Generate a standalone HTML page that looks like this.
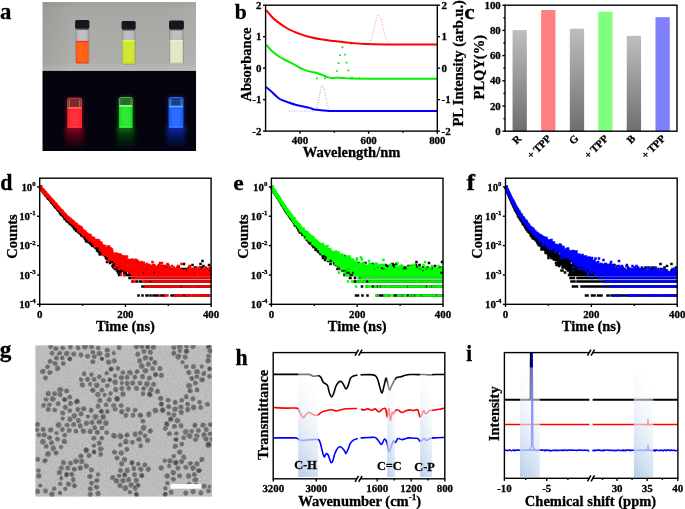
<!DOCTYPE html>
<html><head><meta charset="utf-8"><style>
html,body{margin:0;padding:0;background:#fff;}
svg{display:block;filter:blur(0.35px);}
text{font-family:"Liberation Serif",serif;font-weight:bold;stroke:#000;stroke-width:0.3px;}
</style></head><body>
<svg width="685" height="509" viewBox="0 0 685 509">
<rect width="685" height="509" fill="#fff"/>
<defs><clipPath id="phc"><rect x="42.3" y="2.1" width="153.9" height="148.9"/></clipPath><linearGradient id="phbg" x1="0" y1="0" x2="0" y2="1"><stop offset="0" stop-color="#9c9c98"/><stop offset="0.1" stop-color="#a7a7a3"/><stop offset="0.55" stop-color="#abaca7"/><stop offset="0.88" stop-color="#aeafaa"/><stop offset="0.94" stop-color="#b6b7b2"/><stop offset="1" stop-color="#b9bab5"/></linearGradient><linearGradient id="phbg2" x1="0" y1="0" x2="1" y2="0"><stop offset="0" stop-color="#000" stop-opacity="0.07"/><stop offset="0.2" stop-color="#000" stop-opacity="0"/><stop offset="0.8" stop-color="#fff" stop-opacity="0"/><stop offset="1" stop-color="#fff" stop-opacity="0.05"/></linearGradient><filter id="blur05" x="-50%" y="-50%" width="200%" height="200%"><feGaussianBlur stdDeviation="0.5"/></filter><filter id="blur1" x="-50%" y="-50%" width="200%" height="200%"><feGaussianBlur stdDeviation="1"/></filter><filter id="blur2" x="-50%" y="-50%" width="200%" height="200%"><feGaussianBlur stdDeviation="2"/></filter><filter id="blur3" x="-50%" y="-50%" width="200%" height="200%"><feGaussianBlur stdDeviation="3.5"/></filter></defs>
<g clip-path="url(#phc)">
<rect x="42.3" y="2.1" width="153.9" height="68.8" fill="url(#phbg)"/>
<rect x="42.3" y="2.1" width="153.9" height="68.8" fill="url(#phbg2)"/>
<g filter="url(#blur05)">
<rect x="75.70" y="28.30" width="13.10" height="34.90" rx="1.2" fill="#b8b9b5" fill-opacity="0.5" stroke="#8a8c8a" stroke-width="0.8"/>
<rect x="78.10" y="29.60" width="8.30" height="10.70" fill="#cfd0cc" opacity="0.45"/>
<rect x="76.00" y="41.00" width="12.50" height="22.20" rx="1" fill="#ff6418"/>
<rect x="76.00" y="41.00" width="12.50" height="1.2" fill="#ff2050"/>
<rect x="76.00" y="41.00" width="1.1" height="22.20" fill="#f03c10" opacity="0.5"/>
<rect x="87.40" y="41.00" width="1.1" height="22.20" fill="#f03c10" opacity="0.5"/>
<rect x="76.00" y="61.80" width="12.50" height="1.4" rx="0.7" fill="#f03c10" opacity="0.7"/>
<rect x="75.10" y="20.00" width="14.30" height="8.80" rx="1.6" fill="#17191c"/>
<rect x="76.30" y="28.50" width="11.90" height="1.3" fill="#3a3c40" opacity="0.8"/>
<rect x="122.20" y="29.10" width="12.90" height="34.90" rx="1.2" fill="#b8b9b5" fill-opacity="0.5" stroke="#8a8c8a" stroke-width="0.8"/>
<rect x="124.60" y="30.40" width="8.10" height="9.10" fill="#cfd0cc" opacity="0.45"/>
<rect x="122.50" y="40.20" width="12.30" height="23.80" rx="1" fill="#d2e630"/>
<rect x="122.50" y="40.20" width="12.30" height="1.2" fill="#eaf878"/>
<rect x="122.50" y="40.20" width="1.1" height="23.80" fill="#a8d030" opacity="0.5"/>
<rect x="133.70" y="40.20" width="1.1" height="23.80" fill="#a8d030" opacity="0.5"/>
<rect x="122.50" y="62.60" width="12.30" height="1.4" rx="0.7" fill="#a8d030" opacity="0.7"/>
<rect x="121.60" y="20.90" width="14.10" height="8.70" rx="1.6" fill="#17191c"/>
<rect x="122.80" y="29.30" width="11.70" height="1.3" fill="#3a3c40" opacity="0.8"/>
<rect x="169.60" y="28.80" width="13.70" height="34.80" rx="1.2" fill="#b8b9b5" fill-opacity="0.5" stroke="#8a8c8a" stroke-width="0.8"/>
<rect x="172.00" y="30.10" width="8.90" height="9.20" fill="#cfd0cc" opacity="0.45"/>
<rect x="169.90" y="40.00" width="13.10" height="23.60" rx="1" fill="#e4e6c4"/>
<rect x="169.90" y="40.00" width="13.10" height="1.2" fill="#eef0d0"/>
<rect x="169.90" y="40.00" width="1.1" height="23.60" fill="#c8c8a8" opacity="0.5"/>
<rect x="181.90" y="40.00" width="1.1" height="23.60" fill="#c8c8a8" opacity="0.5"/>
<rect x="169.90" y="62.20" width="13.10" height="1.4" rx="0.7" fill="#c8c8a8" opacity="0.7"/>
<rect x="169.00" y="20.40" width="14.90" height="8.90" rx="1.6" fill="#17191c"/>
<rect x="170.20" y="29.00" width="12.50" height="1.3" fill="#3a3c40" opacity="0.8"/>
</g>
<rect x="42.3" y="70.9" width="153.9" height="80.1" fill="#04030e"/>
<defs><linearGradient id="rg1" x1="0" y1="0" x2="0" y2="1"><stop offset="0" stop-color="#900818" stop-opacity="0.95"/><stop offset="0.4" stop-color="#900818" stop-opacity="0.5"/><stop offset="1" stop-color="#900818" stop-opacity="0"/></linearGradient></defs>
<rect x="65.20" y="126.80" width="18.80" height="23" fill="url(#rg1)" filter="url(#blur2)"/>
<rect x="66.70" y="97.80" width="15.80" height="31.00" rx="2" fill="#ff1c30" filter="url(#blur2)" opacity="0.4"/>
<rect x="67.60" y="98.20" width="14.00" height="9.80" rx="1.8" fill="#862030" stroke="#ff7060" stroke-opacity="0.6" stroke-width="0.9" filter="url(#blur05)"/>
<rect x="68.80" y="100.00" width="1.0" height="7.20" fill="#40d050" opacity="0.8" filter="url(#blur05)"/>
<rect x="79.20" y="100.00" width="1.0" height="7.20" fill="#40d050" opacity="0.8" filter="url(#blur05)"/>
<rect x="67.20" y="107.60" width="14.80" height="20.20" rx="1" fill="#ff1c30" filter="url(#blur05)"/>
<rect x="69.70" y="109.60" width="9.80" height="16.20" fill="#ff7060" opacity="0.25" filter="url(#blur1)"/>
<rect x="67.50" y="107.10" width="14.20" height="1.6" fill="#ff7060" filter="url(#blur05)"/>
<rect x="67.70" y="126.40" width="13.80" height="1.2" fill="#ff7060" opacity="0.6" filter="url(#blur05)"/>
<defs><linearGradient id="rg2" x1="0" y1="0" x2="0" y2="1"><stop offset="0" stop-color="#0a6010" stop-opacity="0.95"/><stop offset="0.4" stop-color="#0a6010" stop-opacity="0.5"/><stop offset="1" stop-color="#0a6010" stop-opacity="0"/></linearGradient></defs>
<rect x="116.90" y="126.80" width="17.70" height="23" fill="url(#rg2)" filter="url(#blur2)"/>
<rect x="118.40" y="97.10" width="14.70" height="31.70" rx="2" fill="#16de1a" filter="url(#blur2)" opacity="0.4"/>
<rect x="119.30" y="97.50" width="12.90" height="8.50" rx="1.8" fill="#1c7028" stroke="#90ff90" stroke-opacity="0.6" stroke-width="0.9" filter="url(#blur05)"/>
<rect x="120.50" y="99.30" width="1.0" height="5.90" fill="#d04060" opacity="0.8" filter="url(#blur05)"/>
<rect x="129.80" y="99.30" width="1.0" height="5.90" fill="#d04060" opacity="0.8" filter="url(#blur05)"/>
<rect x="118.90" y="105.60" width="13.70" height="22.20" rx="1" fill="#16de1a" filter="url(#blur05)"/>
<rect x="121.40" y="107.60" width="8.70" height="18.20" fill="#90ff90" opacity="0.25" filter="url(#blur1)"/>
<rect x="119.20" y="105.10" width="13.10" height="1.6" fill="#90ff90" filter="url(#blur05)"/>
<rect x="119.40" y="126.40" width="12.70" height="1.2" fill="#90ff90" opacity="0.6" filter="url(#blur05)"/>
<defs><linearGradient id="rg3" x1="0" y1="0" x2="0" y2="1"><stop offset="0" stop-color="#0c28b0" stop-opacity="0.95"/><stop offset="0.4" stop-color="#0c28b0" stop-opacity="0.5"/><stop offset="1" stop-color="#0c28b0" stop-opacity="0"/></linearGradient></defs>
<rect x="166.60" y="126.80" width="18.80" height="23" fill="url(#rg3)" filter="url(#blur2)"/>
<rect x="168.10" y="97.10" width="15.80" height="31.70" rx="2" fill="#1a58ff" filter="url(#blur2)" opacity="0.4"/>
<rect x="169.00" y="97.50" width="14.00" height="9.10" rx="1.8" fill="#1c3aa0" stroke="#60b0ff" stroke-opacity="0.6" stroke-width="0.9" filter="url(#blur05)"/>
<rect x="170.20" y="99.30" width="1.0" height="6.50" fill="#30d090" opacity="0.8" filter="url(#blur05)"/>
<rect x="180.60" y="99.30" width="1.0" height="6.50" fill="#30d090" opacity="0.8" filter="url(#blur05)"/>
<rect x="168.60" y="106.20" width="14.80" height="21.60" rx="1" fill="#1a58ff" filter="url(#blur05)"/>
<rect x="171.10" y="108.20" width="9.80" height="17.60" fill="#60b0ff" opacity="0.25" filter="url(#blur1)"/>
<rect x="168.90" y="105.70" width="14.20" height="1.6" fill="#60b0ff" filter="url(#blur05)"/>
<rect x="169.10" y="126.40" width="13.80" height="1.2" fill="#60b0ff" opacity="0.6" filter="url(#blur05)"/>
</g>
<text x="0" y="0" font-size="24.0" text-anchor="start" fill="#000" transform="translate(0.11 19.36) scale(0.950 1)">a</text>
<polyline points="351.00,44.60 351.62,44.60 352.24,44.60 352.86,44.60 353.48,44.60 354.10,44.60 354.72,44.60 355.34,44.60 355.96,44.60 356.58,44.60 357.20,44.60 357.82,44.60 358.44,44.60 359.06,44.60 359.68,44.60 360.30,44.60 360.92,44.60 361.54,44.60 362.16,44.59 362.78,44.59 363.41,44.58 364.03,44.56 364.65,44.54 365.27,44.49 365.89,44.42 366.51,44.31 367.13,44.14 367.75,43.89 368.37,43.52 368.99,43.01 369.61,42.31 370.23,41.38 370.85,40.19 371.47,38.69 372.09,36.87 372.71,34.73 373.33,32.30 373.95,29.63 374.57,26.82 375.19,23.98 375.81,21.26 376.43,18.81 377.05,16.77 377.67,15.29 378.29,14.46 378.91,14.34 379.53,14.95 380.15,16.23 380.77,18.10 381.39,20.44 382.01,23.10 382.63,25.91 383.25,28.75 383.87,31.47 384.49,33.99 385.11,36.22 385.73,38.14 386.35,39.74 386.97,41.03 387.59,42.04 388.22,42.81 388.84,43.38 389.46,43.78 390.08,44.07 390.70,44.26 391.32,44.39 391.94,44.47 392.56,44.52 393.18,44.56 393.80,44.58 394.42,44.59 395.04,44.59 395.66,44.60 396.28,44.60 396.90,44.60 397.52,44.60 398.14,44.60 398.76,44.60 399.38,44.60 400.00,44.60" fill="none" stroke="#ff9090" stroke-width="1" stroke-dasharray="1 1.6"/>
<polyline points="316.00,78.30 316.22,78.30 316.44,78.30 316.66,78.30 316.88,78.30 317.11,78.30 317.33,78.30 317.55,78.30 317.77,78.30 317.99,78.30 318.21,78.30 318.43,78.30 318.65,78.30 318.87,78.30 319.10,78.30 319.32,78.30 319.54,78.30 319.76,78.30 319.98,78.30 320.20,78.30 320.42,78.30 320.64,78.30 320.86,78.30 321.09,78.30 321.31,78.30 321.53,78.30 321.75,78.30 321.97,78.30 322.19,78.30 322.41,78.30 322.63,78.30 322.85,78.30 323.08,78.30 323.30,78.30 323.52,78.30 323.74,78.30 323.96,78.30 324.18,78.30 324.40,78.30 324.62,78.30 324.84,78.30 325.07,78.30 325.29,78.30 325.51,78.30 325.73,78.30 325.95,78.30 326.17,78.30 326.39,78.30 326.61,78.30 326.83,78.30 327.06,78.30 327.28,78.30 327.50,78.30 327.72,78.30 327.94,78.30 328.16,78.30 328.38,78.30 328.60,78.29 328.82,78.29 329.05,78.29 329.27,78.29 329.49,78.28 329.71,78.28 329.93,78.27 330.15,78.27 330.37,78.26 330.59,78.25 330.81,78.23 331.04,78.21 331.26,78.19 331.48,78.17 331.70,78.14 331.92,78.10 332.14,78.05 332.36,78.00 332.58,77.93 332.80,77.85 333.03,77.76 333.25,77.65 333.47,77.53 333.69,77.38 333.91,77.21 334.13,77.01 334.35,76.78 334.57,76.52 334.79,76.23 335.02,75.90 335.24,75.52 335.46,75.10 335.68,74.64 335.90,74.12 336.12,73.55 336.34,72.92 336.56,72.24 336.78,71.50 337.01,70.70 337.23,69.84 337.45,68.93 337.67,67.96 337.89,66.94 338.11,65.87 338.33,64.76 338.55,63.61 338.77,62.44 338.99,61.24 339.22,60.02 339.44,58.80 339.66,57.59 339.88,56.40 340.10,55.23 340.32,54.11 340.54,53.03 340.76,52.03 340.98,51.09 341.21,50.24 341.43,49.49 341.65,48.84 341.87,48.31 342.09,47.89 342.31,47.60 342.53,47.44 342.75,47.40 342.97,47.50 343.20,47.73 343.42,48.08 343.64,48.55 343.86,49.15 344.08,49.84 344.30,50.64 344.52,51.54 344.74,52.51 344.96,53.55 345.19,54.65 345.41,55.79 345.63,56.97 345.85,58.18 346.07,59.39 346.29,60.61 346.51,61.82 346.73,63.01 346.95,64.18 347.18,65.31 347.40,66.40 347.62,67.45 347.84,68.44 348.06,69.38 348.28,70.27 348.50,71.10 348.72,71.87 348.94,72.58 349.17,73.23 349.39,73.83 349.61,74.38 349.83,74.87 350.05,75.31 350.27,75.71 350.49,76.06 350.71,76.38 350.93,76.65 351.16,76.90 351.38,77.11 351.60,77.29 351.82,77.45 352.04,77.59 352.26,77.71 352.48,77.81 352.70,77.89 352.92,77.96 353.15,78.02 353.37,78.07 353.59,78.12 353.81,78.15 354.03,78.18 354.25,78.20 354.47,78.22 354.69,78.24 354.91,78.25 355.14,78.26 355.36,78.27 355.58,78.28 355.80,78.28 356.02,78.29 356.24,78.29 356.46,78.29 356.68,78.29 356.90,78.29 357.13,78.30 357.35,78.30 357.57,78.30 357.79,78.30 358.01,78.30 358.23,78.30 358.45,78.30 358.67,78.30 358.89,78.30 359.12,78.30 359.34,78.30 359.56,78.30 359.78,78.30 360.00,78.30" fill="none" stroke="#00e000" stroke-width="1.8" stroke-dasharray="1.6 6.5"/>
<polyline points="289.00,111.10 289.54,111.10 290.09,111.10 290.63,111.10 291.18,111.10 291.72,111.10 292.27,111.10 292.81,111.10 293.35,111.10 293.90,111.10 294.44,111.10 294.99,111.10 295.53,111.10 296.08,111.10 296.62,111.10 297.16,111.10 297.71,111.10 298.25,111.10 298.80,111.10 299.34,111.10 299.89,111.10 300.43,111.10 300.97,111.10 301.52,111.10 302.06,111.10 302.61,111.10 303.15,111.10 303.70,111.10 304.24,111.10 304.78,111.10 305.33,111.10 305.87,111.10 306.42,111.10 306.96,111.10 307.51,111.10 308.05,111.10 308.59,111.10 309.14,111.10 309.68,111.10 310.23,111.09 310.77,111.09 311.32,111.08 311.86,111.05 312.41,111.01 312.95,110.94 313.49,110.82 314.04,110.62 314.58,110.32 315.13,109.86 315.67,109.19 316.22,108.26 316.76,107.01 317.30,105.41 317.85,103.44 318.39,101.11 318.94,98.51 319.48,95.73 320.03,92.95 320.57,90.37 321.11,88.18 321.66,86.58 322.20,85.73 322.75,85.69 323.29,86.47 323.84,88.01 324.38,90.15 324.92,92.70 325.47,95.47 326.01,98.25 326.56,100.88 327.10,103.23 327.65,105.24 328.19,106.88 328.73,108.16 329.28,109.11 329.82,109.80 330.37,110.28 330.91,110.60 331.46,110.80 332.00,110.93" fill="none" stroke="#9c9cf0" stroke-width="1" stroke-dasharray="1 1.6"/>
<path d="M266.10 10.10C266.72 10.83 268.20 12.78 269.80 14.50C271.40 16.22 272.77 18.07 275.70 20.40C278.63 22.73 283.52 26.30 287.40 28.50C291.28 30.70 295.12 32.13 299.00 33.60C302.88 35.07 306.80 36.30 310.70 37.30C314.60 38.30 318.50 38.97 322.40 39.60C326.30 40.23 330.50 40.65 334.10 41.10C337.70 41.55 341.18 42.00 344.00 42.30C346.82 42.60 347.50 42.63 351.00 42.90C354.50 43.17 359.20 43.63 365.00 43.90C370.80 44.17 378.30 44.38 385.80 44.50C393.30 44.62 401.42 44.58 410.00 44.60C418.58 44.62 432.75 44.60 437.30 44.60" fill="none" stroke="#ff0000" stroke-width="2.0" stroke-linejoin="round" stroke-linecap="butt"/>
<path d="M265.90 44.40C266.90 45.50 269.60 48.90 271.90 51.00C274.20 53.10 277.08 55.30 279.70 57.00C282.32 58.70 284.98 59.83 287.60 61.20C290.22 62.57 292.78 63.83 295.40 65.20C298.02 66.57 300.67 68.28 303.30 69.40C305.93 70.52 309.10 71.35 311.20 71.90C313.30 72.45 314.07 72.20 315.90 72.70C317.73 73.20 320.10 74.12 322.20 74.90C324.30 75.68 326.67 76.88 328.50 77.40C330.33 77.92 331.37 77.95 333.20 78.00C335.03 78.05 337.70 77.72 339.50 77.70C341.30 77.68 342.25 77.75 344.00 77.90C345.75 78.05 344.00 78.47 350.00 78.60C356.00 78.73 365.45 78.68 380.00 78.70C394.55 78.72 427.75 78.70 437.30 78.70" fill="none" stroke="#00f000" stroke-width="2.0" stroke-linejoin="round" stroke-linecap="butt"/>
<path d="M265.90 86.90C266.90 87.73 269.60 89.88 271.90 91.90C274.20 93.92 277.08 97.30 279.70 99.00C282.32 100.70 284.98 101.13 287.60 102.10C290.22 103.07 292.78 104.07 295.40 104.80C298.02 105.53 300.93 105.98 303.30 106.50C305.67 107.02 307.77 107.40 309.60 107.90C311.43 108.40 312.73 109.15 314.30 109.50C315.87 109.85 316.90 109.78 319.00 110.00C321.10 110.22 322.73 110.62 326.90 110.80C331.07 110.98 325.60 111.05 344.00 111.10C362.40 111.15 421.75 111.10 437.30 111.10" fill="none" stroke="#0000ff" stroke-width="2.0" stroke-linejoin="round" stroke-linecap="butt"/>
<rect x="265.6" y="5.2" width="171.70" height="125.90" fill="none" stroke="#000" stroke-width="1.4"/>
<line x1="263.00" y1="5.20" x2="265.60" y2="5.20" stroke="#000" stroke-width="1.4"/>
<text x="261.40" y="8.70" font-size="10.9" text-anchor="end" fill="#000">2</text>
<line x1="437.30" y1="5.20" x2="439.90" y2="5.20" stroke="#000" stroke-width="1.4"/>
<text x="441.50" y="8.70" font-size="10.9" text-anchor="start" fill="#000">2</text>
<line x1="263.00" y1="36.67" x2="265.60" y2="36.67" stroke="#000" stroke-width="1.4"/>
<text x="261.40" y="40.17" font-size="10.9" text-anchor="end" fill="#000">1</text>
<line x1="437.30" y1="36.67" x2="439.90" y2="36.67" stroke="#000" stroke-width="1.4"/>
<text x="441.50" y="40.17" font-size="10.9" text-anchor="start" fill="#000">1</text>
<line x1="263.00" y1="68.15" x2="265.60" y2="68.15" stroke="#000" stroke-width="1.4"/>
<text x="261.40" y="71.65" font-size="10.9" text-anchor="end" fill="#000">0</text>
<line x1="437.30" y1="68.15" x2="439.90" y2="68.15" stroke="#000" stroke-width="1.4"/>
<text x="441.50" y="71.65" font-size="10.9" text-anchor="start" fill="#000">0</text>
<line x1="263.00" y1="99.62" x2="265.60" y2="99.62" stroke="#000" stroke-width="1.4"/>
<text x="261.40" y="103.12" font-size="10.9" text-anchor="end" fill="#000">-1</text>
<line x1="437.30" y1="99.62" x2="439.90" y2="99.62" stroke="#000" stroke-width="1.4"/>
<text x="441.50" y="103.12" font-size="10.9" text-anchor="start" fill="#000">-1</text>
<line x1="263.00" y1="131.10" x2="265.60" y2="131.10" stroke="#000" stroke-width="1.4"/>
<text x="261.40" y="134.60" font-size="10.9" text-anchor="end" fill="#000">-2</text>
<line x1="437.30" y1="131.10" x2="439.90" y2="131.10" stroke="#000" stroke-width="1.4"/>
<text x="441.50" y="134.60" font-size="10.9" text-anchor="start" fill="#000">-2</text>
<line x1="299.94" y1="131.10" x2="299.94" y2="133.70" stroke="#000" stroke-width="1.4"/>
<text x="299.94" y="144.30" font-size="10.9" text-anchor="middle" fill="#000">400</text>
<line x1="368.62" y1="131.10" x2="368.62" y2="133.70" stroke="#000" stroke-width="1.4"/>
<text x="368.62" y="144.30" font-size="10.9" text-anchor="middle" fill="#000">600</text>
<line x1="437.30" y1="131.10" x2="437.30" y2="133.70" stroke="#000" stroke-width="1.4"/>
<text x="437.30" y="144.30" font-size="10.9" text-anchor="middle" fill="#000">800</text>
<line x1="334.28" y1="131.10" x2="334.28" y2="132.70" stroke="#000" stroke-width="1.4"/>
<line x1="402.96" y1="131.10" x2="402.96" y2="132.70" stroke="#000" stroke-width="1.4"/>
<text x="0" y="0" font-size="14.5" text-anchor="middle" fill="#000" transform="translate(251.40 64.50) rotate(-90)">Absorbance</text>
<text x="0" y="0" font-size="14.5" text-anchor="start" fill="#000" transform="translate(462.70 126.60) rotate(-90)">PL Intensity (arb.u.)</text>
<text x="351.60" y="156.50" font-size="14.5" text-anchor="middle" fill="#000">Wavelength/nm</text>
<text x="234.78" y="18.79" font-size="21.6" text-anchor="start" fill="#000">b</text>
<defs><linearGradient id="gbar" x1="0" y1="0" x2="0" y2="1"><stop offset="0" stop-color="#bebebe"/><stop offset="1" stop-color="#6e6e6e"/></linearGradient></defs>
<rect x="512.55" y="30.15" width="14.3" height="101.05" fill="url(#gbar)"/>
<rect x="541.15" y="9.99" width="14.3" height="121.21" fill="#ff8080"/>
<rect x="569.85" y="28.64" width="14.3" height="102.56" fill="url(#gbar)"/>
<rect x="598.25" y="11.75" width="14.3" height="119.45" fill="#80ff80"/>
<rect x="626.75" y="35.82" width="14.3" height="95.38" fill="url(#gbar)"/>
<rect x="655.45" y="17.17" width="14.3" height="114.03" fill="#8080ff"/>
<rect x="505.0" y="5.2" width="172.00" height="126.00" fill="none" stroke="#000" stroke-width="1.4"/>
<line x1="502.40" y1="131.20" x2="505.00" y2="131.20" stroke="#000" stroke-width="1.4"/>
<text x="500.80" y="134.70" font-size="10.9" text-anchor="end" fill="#000">0</text>
<line x1="502.40" y1="106.00" x2="505.00" y2="106.00" stroke="#000" stroke-width="1.4"/>
<text x="500.80" y="109.50" font-size="10.9" text-anchor="end" fill="#000">20</text>
<line x1="502.40" y1="80.80" x2="505.00" y2="80.80" stroke="#000" stroke-width="1.4"/>
<text x="500.80" y="84.30" font-size="10.9" text-anchor="end" fill="#000">40</text>
<line x1="502.40" y1="55.60" x2="505.00" y2="55.60" stroke="#000" stroke-width="1.4"/>
<text x="500.80" y="59.10" font-size="10.9" text-anchor="end" fill="#000">60</text>
<line x1="502.40" y1="30.40" x2="505.00" y2="30.40" stroke="#000" stroke-width="1.4"/>
<text x="500.80" y="33.90" font-size="10.9" text-anchor="end" fill="#000">80</text>
<line x1="502.40" y1="5.20" x2="505.00" y2="5.20" stroke="#000" stroke-width="1.4"/>
<text x="500.80" y="8.70" font-size="10.9" text-anchor="end" fill="#000">100</text>
<line x1="503.40" y1="118.60" x2="505.00" y2="118.60" stroke="#000" stroke-width="1.4"/>
<line x1="503.40" y1="93.40" x2="505.00" y2="93.40" stroke="#000" stroke-width="1.4"/>
<line x1="503.40" y1="68.20" x2="505.00" y2="68.20" stroke="#000" stroke-width="1.4"/>
<line x1="503.40" y1="43.00" x2="505.00" y2="43.00" stroke="#000" stroke-width="1.4"/>
<line x1="503.40" y1="17.80" x2="505.00" y2="17.80" stroke="#000" stroke-width="1.4"/>
<text x="0" y="0" font-size="10.7" text-anchor="end" fill="#000" transform="translate(521.90 139.20) rotate(-45)">R</text>
<text x="0" y="0" font-size="10.7" text-anchor="end" fill="#000" transform="translate(551.70 139.20) rotate(-45)">+ TPP</text>
<text x="0" y="0" font-size="10.7" text-anchor="end" fill="#000" transform="translate(579.20 139.20) rotate(-45)">G</text>
<text x="0" y="0" font-size="10.7" text-anchor="end" fill="#000" transform="translate(608.80 139.20) rotate(-45)">+ TPP</text>
<text x="0" y="0" font-size="10.7" text-anchor="end" fill="#000" transform="translate(636.10 139.20) rotate(-45)">B</text>
<text x="0" y="0" font-size="10.7" text-anchor="end" fill="#000" transform="translate(666.00 139.20) rotate(-45)">+ TPP</text>
<text x="0" y="0" font-size="14.5" text-anchor="middle" fill="#000" transform="translate(484.00 67.20) rotate(-90)">PLQY(%)</text>
<text x="0" y="0" font-size="21.0" text-anchor="start" fill="#000" transform="translate(464.25 18.80) scale(1.120 1)">c</text>
<polyline points="39.7,186.9 40.4,187.8 41.1,188.6 41.8,189.5 42.5,190.3 43.1,191.2 43.8,192.0 44.5,192.9 45.2,193.7 45.9,194.6 46.6,195.4 47.3,196.3 48.0,197.1 48.7,198.0 49.4,198.8 50.0,199.6 50.7,200.5 51.4,201.3 52.1,202.1 52.8,202.9 53.5,203.8 54.2,204.6 54.9,205.4 55.6,206.2 56.3,207.1 56.9,207.9 57.6,208.7 58.3,209.5 59.0,210.3 59.7,211.2 60.4,212.0 61.1,212.8 61.8,213.6 62.5,214.5 63.2,215.2 63.8,216.0 64.5,216.8 65.2,217.5 65.9,218.2 66.6,218.9 67.3,219.6 68.0,220.3 68.7,220.9 69.4,221.6 70.1,222.2 70.7,222.9 71.4,223.5 72.1,224.2 72.8,224.8 73.5,225.5 74.2,226.1 74.9,226.8 75.6,227.5 76.3,228.1 77.0,228.8 77.6,229.4 78.3,230.1 79.0,230.8 79.7,231.4 80.4,232.1" fill="none" stroke="#000000" stroke-width="3.4" stroke-linejoin="round"/>
<path d="M41.0 186.5h0.0M41.0 187.0h0.0M41.0 187.5h0.0M41.0 188.0h0.0M41.0 188.5h0.5M41.0 189.0h0.5M41.5 189.5h0.5M41.5 190.0h1.0M42.0 190.5h0.0M43.0 190.5h0.0M42.5 191.0h1.0M43.0 191.5h1.0M43.0 192.0h1.0M44.5 192.5h0.0M44.0 193.0h1.5M44.0 193.5h0.0M45.0 193.5h0.5M45.0 194.0h0.5M46.0 194.5h0.0M46.0 195.0h0.5M45.5 195.5h1.5M47.0 196.0h0.5M47.0 196.5h0.5M47.5 197.0h1.5M47.5 197.5h1.0M48.5 198.0h0.0M48.0 198.5h1.5M49.0 199.0h0.5M49.5 199.5h1.0M50.0 200.0h0.5M50.5 200.5h0.5M52.0 200.5h0.0M51.0 201.0h1.0M51.0 201.5h0.0M52.0 201.5h0.0M51.0 202.0h1.5M51.5 202.5h2.0M52.5 203.0h1.0M53.0 203.5h1.0M53.0 204.0h1.0M53.5 204.5h1.0M54.5 205.0h0.5M54.5 205.5h1.5M54.5 206.0h1.5M55.5 206.5h0.5M55.0 207.0h0.0M56.0 207.0h1.0M56.0 207.5h1.5M56.5 208.0h1.0M57.0 208.5h1.0M57.5 209.0h1.5M57.5 209.5h1.5M58.0 210.0h1.5M58.5 210.5h1.5M60.0 211.0h0.0M59.5 211.5h1.0M60.0 212.0h1.0M60.0 212.5h1.5M61.0 213.0h1.5M60.5 213.5h0.5M62.0 213.5h0.0M60.5 214.0h0.0M61.5 214.0h1.0M63.5 214.0h0.0M62.0 214.5h0.5M61.5 215.0h0.0M62.5 215.0h0.5M63.0 215.5h1.5M63.0 216.0h2.0M63.5 216.5h1.0M65.5 216.5h0.0M64.5 217.0h1.5M65.0 217.5h1.0M67.0 217.5h0.0M65.0 218.0h0.5M66.5 218.0h0.5M64.5 218.5h0.0M66.0 218.5h1.0M68.0 218.5h0.0M65.0 219.0h0.0M66.0 219.0h1.5M67.0 219.5h0.5M67.5 220.0h1.5M66.5 220.5h0.0M68.0 220.5h1.0M66.5 221.0h3.5M69.0 221.5h1.5M68.0 222.0h0.0M70.5 222.0h0.0M70.0 222.5h1.0M72.0 222.5h0.0M69.5 223.0h2.0M70.5 223.5h2.0M70.0 224.0h0.0M71.0 224.0h1.5M73.5 224.0h0.0M71.5 224.5h2.0M75.0 224.5h0.0M72.0 225.0h0.0M73.0 225.0h0.5M72.5 225.5h2.0M72.5 226.0h2.5M74.0 226.5h0.0M73.5 227.0h0.0M74.5 227.0h1.0M74.0 227.5h0.5M75.5 227.5h1.5M74.5 228.0h0.5M76.0 228.0h1.5M75.5 228.5h2.5M79.5 228.5h0.0M74.5 229.0h0.0M75.5 229.0h1.5M77.0 229.5h0.0M78.0 229.5h0.5M79.5 229.5h0.0M80.5 229.5h0.0M77.5 230.0h0.0M78.5 230.0h0.5M76.0 230.5h0.0M78.0 230.5h2.0M76.5 231.0h0.0M77.5 231.0h0.0M79.0 231.0h1.0M78.0 231.5h0.0M79.0 231.5h0.0M80.0 231.5h1.0M82.5 231.5h0.0M79.0 232.0h0.5M81.0 232.0h0.0M82.0 232.0h0.0M83.0 232.0h0.0M80.0 232.5h0.0M79.0 233.0h0.0M80.0 233.0h3.0M80.5 233.5h0.0M81.5 233.5h0.0M83.5 233.5h0.0M81.0 234.0h0.0M82.0 234.0h2.5M81.0 234.5h0.5M82.5 234.5h0.0M83.5 234.5h0.5M85.5 234.5h0.0M81.5 235.0h0.5M83.5 235.0h1.0M81.5 235.5h0.0M82.5 235.5h1.5M85.5 235.5h0.0M86.5 235.5h0.0M84.0 236.0h2.0M83.0 236.5h0.0M85.0 236.5h1.5M84.5 237.0h0.5M87.5 237.0h1.0M89.5 237.0h0.0M84.5 237.5h0.0M86.0 237.5h2.0M85.5 238.0h2.0M86.0 238.5h3.0M90.5 238.5h0.0M85.0 239.0h0.0M88.5 239.0h0.0M90.0 239.0h0.5M88.0 239.5h0.0M89.0 239.5h0.0M87.0 240.0h0.0M88.0 240.0h0.5M89.5 240.0h0.0M92.0 240.0h1.0M86.0 240.5h0.0M88.5 240.5h0.0M89.5 240.5h1.0M92.0 240.5h0.0M87.0 241.0h0.0M89.0 241.0h0.5M91.0 241.0h1.0M93.5 241.0h0.0M86.5 241.5h0.5M89.0 241.5h0.0M90.0 241.5h0.0M91.0 241.5h1.0M93.0 241.5h0.5M88.5 242.0h0.0M89.5 242.0h0.0M90.5 242.0h0.0M92.5 242.0h0.5M94.0 242.0h0.0M95.5 242.0h0.0M89.0 242.5h0.0M90.0 242.5h0.0M91.0 242.5h0.5M93.5 242.5h0.0M94.5 242.5h0.0M95.5 242.5h0.0M91.0 243.0h0.5M92.5 243.0h0.0M93.5 243.0h0.5M92.5 243.5h0.0M94.0 243.5h0.0M95.0 243.5h0.0M97.0 243.5h0.0M100.0 243.5h0.0M90.5 244.0h0.0M92.0 244.0h0.0M96.0 244.0h0.0M92.0 244.5h0.0M93.0 244.5h0.0M94.0 244.5h2.5M97.5 244.5h0.5M93.0 245.0h0.0M95.5 245.0h0.0M98.5 245.0h0.5M92.0 245.5h0.0M93.5 245.5h0.0M95.0 245.5h1.5M92.5 246.0h0.5M94.5 246.0h0.5M96.5 246.0h0.0M98.0 246.0h0.0M100.0 246.0h0.5M103.0 246.0h0.0M94.5 246.5h0.5M96.0 246.5h1.0M102.0 246.5h0.0M95.5 247.0h0.0M97.5 247.0h0.5M99.5 247.0h0.0M101.5 247.0h0.0M102.5 247.0h0.0M97.0 247.5h0.0M99.0 247.5h0.5M101.5 247.5h0.0M95.5 248.0h0.5M97.5 248.0h0.5M99.5 248.0h0.0M101.0 248.0h0.0M102.0 248.0h0.0M97.5 248.5h0.0M99.0 248.5h0.0M101.0 248.5h0.0M102.0 248.5h0.5M97.0 249.0h0.0M98.5 249.0h0.5M100.5 249.0h0.0M105.0 249.0h0.0M98.5 249.5h0.0M97.0 250.0h2.0M100.0 250.0h0.0M101.5 250.0h0.5M103.0 250.0h0.5M106.0 250.0h0.5M97.0 250.5h0.0M100.5 250.5h0.5M102.5 250.5h0.0M104.0 250.5h0.0M106.0 250.5h0.0M102.0 251.0h0.5M105.0 251.0h0.5M98.5 251.5h0.0M100.0 251.5h1.0M102.0 251.5h0.0M103.0 251.5h0.0M104.0 251.5h0.0M105.5 251.5h1.5M109.5 251.5h0.0M100.5 252.0h0.0M101.5 252.0h0.0M103.5 252.0h1.5M108.5 252.0h0.0M103.0 252.5h0.0M105.5 252.5h0.0M106.5 252.5h0.5M109.0 252.5h0.0M101.5 253.0h0.0M103.0 253.0h0.0M104.5 253.0h0.0M105.5 253.0h0.0M108.5 253.0h0.0M109.5 253.0h0.0M111.5 253.0h0.0M99.5 253.5h0.0M103.5 253.5h1.0M107.5 253.5h0.0M102.5 254.0h0.0M103.5 254.0h1.0M106.0 254.0h0.0M107.5 254.0h0.5M109.0 254.0h0.0M100.0 254.5h0.0M103.5 254.5h0.0M104.5 254.5h0.5M111.0 254.5h0.0M107.5 255.0h0.5M110.5 255.0h1.0M119.0 255.0h0.0M105.0 255.5h0.0M107.0 255.5h0.5M108.5 255.5h0.5M110.0 255.5h0.0M111.0 255.5h0.0M112.5 255.5h0.0M117.5 255.5h0.0M105.5 256.0h0.5M107.0 256.0h0.5M109.5 256.0h0.0M110.5 256.0h0.0M111.5 256.0h0.0M112.5 256.0h0.0M113.5 256.0h0.5M115.5 256.0h0.0M106.5 256.5h0.0M108.5 256.5h0.0M110.0 256.5h0.0M112.0 256.5h0.0M113.5 256.5h0.5M116.5 256.5h0.0M106.5 257.5h0.0M108.0 257.5h0.0M109.0 257.5h0.0M110.0 257.5h0.0M112.0 257.5h1.0M114.0 257.5h0.0M117.0 257.5h0.0M119.5 257.5h0.0M106.0 258.0h0.0M107.0 258.0h0.0M108.0 258.0h0.0M109.0 258.0h0.0M110.5 258.0h1.0M113.5 258.0h0.0M114.5 258.0h0.0M115.5 258.0h0.0M117.0 258.0h0.0M123.5 258.0h0.0M106.5 258.5h0.0M110.0 258.5h0.0M113.0 258.5h0.0M114.0 258.5h0.0M115.0 258.5h0.0M117.5 258.5h0.0M118.5 258.5h0.0M108.0 259.5h0.0M111.5 259.5h0.5M113.5 259.5h0.0M114.5 259.5h0.5M118.5 259.5h0.0M120.5 259.5h0.5M124.5 259.5h0.0M111.5 260.0h0.5M113.0 260.0h0.0M115.5 260.0h0.0M117.0 260.0h1.0M119.5 260.0h0.5M123.0 260.0h0.0M124.5 260.0h0.0M136.0 260.0h0.0M109.0 261.0h0.0M110.5 261.0h0.0M112.0 261.0h0.0M114.0 261.0h1.0M116.0 261.0h2.0M120.5 261.0h0.5M123.5 261.0h0.0M128.5 261.0h0.0M202.5 261.0h0.0M107.0 262.0h0.0M110.0 262.0h0.5M112.0 262.0h0.0M113.0 262.0h0.0M114.5 262.0h0.0M116.0 262.0h0.5M119.0 262.0h2.0M122.0 262.0h0.5M125.0 262.0h0.0M128.0 262.0h0.0M135.5 262.0h0.0M110.0 263.0h0.0M114.0 263.0h0.0M116.0 263.0h0.5M118.0 263.0h0.0M119.5 263.0h0.5M122.0 263.0h2.0M125.0 263.0h0.0M126.5 263.0h0.5M130.0 263.0h0.0M134.0 263.0h0.0M135.0 263.0h0.0M137.5 263.0h0.0M138.5 263.0h0.0M143.5 263.0h0.0M114.5 264.0h0.5M116.0 264.0h0.5M119.5 264.0h0.0M120.5 264.0h1.0M122.5 264.0h0.0M125.0 264.0h1.0M127.0 264.0h0.0M128.0 264.0h0.0M129.5 264.0h1.0M136.0 264.0h0.0M184.0 264.0h0.0M200.5 264.0h0.0M113.5 265.0h0.0M115.5 265.0h0.0M118.5 265.0h0.5M121.0 265.0h0.0M122.0 265.0h0.5M123.5 265.0h0.5M125.5 265.0h0.5M127.5 265.0h0.5M133.0 265.0h0.5M136.0 265.0h0.0M168.0 265.0h0.0M192.5 265.0h0.0M209.0 265.0h0.0M112.5 266.0h0.0M115.0 266.0h0.5M117.5 266.0h0.0M119.5 266.0h0.5M121.5 266.0h0.0M122.5 266.0h4.5M128.0 266.0h0.0M129.5 266.0h0.5M131.5 266.0h0.0M133.0 266.0h1.5M136.0 266.0h0.0M139.0 266.0h1.0M148.0 266.0h0.0M149.0 266.0h0.0M152.5 266.0h0.0M158.5 266.0h0.0M161.5 266.0h0.0M163.0 266.0h0.0M203.5 266.0h0.0M113.5 267.5h0.0M115.0 267.5h0.0M116.0 267.5h0.0M117.0 267.5h0.0M118.0 267.5h0.0M119.0 267.5h0.0M121.5 267.5h0.5M125.5 267.5h3.5M130.5 267.5h0.0M132.5 267.5h0.0M134.5 267.5h0.0M138.0 267.5h0.0M139.0 267.5h0.0M140.5 267.5h0.0M141.5 267.5h0.0M142.5 267.5h0.0M143.5 267.5h0.0M145.0 267.5h0.0M146.0 267.5h0.0M148.0 267.5h0.0M149.0 267.5h0.5M150.5 267.5h0.0M151.5 267.5h0.0M153.5 267.5h0.0M157.0 267.5h0.0M159.5 267.5h0.5M165.5 267.5h1.0M167.5 267.5h0.5M177.5 267.5h0.0M178.5 267.5h0.0M189.0 267.5h0.0M195.0 267.5h0.0M200.5 267.5h0.0M202.0 267.5h0.0M115.0 269.0h0.0M118.5 269.0h0.0M120.5 269.0h1.0M123.5 269.0h0.0M126.5 269.0h0.0M127.5 269.0h1.0M129.5 269.0h0.0M130.5 269.0h1.5M133.0 269.0h2.0M139.0 269.0h0.0M140.0 269.0h0.5M142.5 269.0h0.5M144.5 269.0h0.5M149.5 269.0h0.5M154.0 269.0h0.0M155.0 269.0h0.5M156.5 269.0h0.5M158.0 269.0h0.0M161.0 269.0h0.0M162.5 269.0h0.0M165.5 269.0h0.0M166.5 269.0h0.0M167.5 269.0h0.0M171.0 269.0h0.0M172.0 269.0h0.0M174.0 269.0h0.0M177.5 269.0h0.0M182.0 269.0h0.0M184.5 269.0h0.0M185.5 269.0h0.0M187.0 269.0h0.0M190.0 269.0h0.0M194.0 269.0h0.0M200.5 269.0h0.0M204.0 269.0h0.0M207.0 269.0h0.0M210.0 269.0h0.0M117.0 270.5h0.0M118.5 270.5h0.0M120.0 270.5h0.0M122.5 270.5h0.5M124.0 270.5h1.0M127.0 270.5h1.0M129.0 270.5h0.0M130.0 270.5h0.0M131.0 270.5h1.5M133.5 270.5h0.0M134.5 270.5h5.0M140.5 270.5h2.5M144.0 270.5h0.0M145.0 270.5h0.0M146.0 270.5h0.0M147.0 270.5h0.5M148.5 270.5h0.0M149.5 270.5h0.0M150.5 270.5h2.5M154.0 270.5h0.5M155.5 270.5h0.0M156.5 270.5h0.0M157.5 270.5h0.0M160.0 270.5h0.0M161.5 270.5h0.0M162.5 270.5h0.5M164.0 270.5h0.5M165.5 270.5h0.0M169.0 270.5h0.0M171.0 270.5h0.0M172.5 270.5h0.0M175.0 270.5h0.0M179.5 270.5h0.5M181.0 270.5h0.0M185.5 270.5h0.5M187.5 270.5h0.0M188.5 270.5h0.5M190.0 270.5h0.0M192.5 270.5h0.0M194.0 270.5h0.0M195.5 270.5h0.0M196.5 270.5h0.0M198.0 270.5h0.5M199.5 270.5h0.0M201.0 270.5h0.0M202.0 270.5h0.0M203.5 270.5h0.0M205.0 270.5h1.5M208.0 270.5h0.0M209.0 270.5h0.0M210.0 270.5h0.0M118.0 272.5h0.5M120.5 272.5h0.0M124.0 272.5h0.0M125.0 272.5h0.0M126.0 272.5h0.0M129.5 272.5h0.0M130.5 272.5h3.5M136.5 272.5h0.0M137.5 272.5h1.0M139.5 272.5h0.5M141.0 272.5h1.0M143.0 272.5h0.0M144.0 272.5h0.0M145.0 272.5h1.0M147.0 272.5h0.5M150.5 272.5h0.0M151.5 272.5h1.0M153.5 272.5h0.0M154.5 272.5h0.0M156.5 272.5h2.0M160.5 272.5h2.0M164.0 272.5h0.0M166.5 272.5h0.0M169.0 272.5h0.5M170.5 272.5h0.0M171.5 272.5h0.5M175.0 272.5h1.0M177.5 272.5h0.5M180.0 272.5h1.0M182.5 272.5h0.0M184.0 272.5h0.0M185.0 272.5h0.0M186.0 272.5h0.5M188.0 272.5h1.0M190.5 272.5h0.0M191.5 272.5h0.0M193.0 272.5h0.0M195.5 272.5h1.0M197.5 272.5h0.5M199.5 272.5h0.0M200.5 272.5h0.5M203.0 272.5h0.5M205.0 272.5h0.0M207.0 272.5h0.0M210.0 272.5h0.0M119.0 275.0h0.0M124.5 275.0h0.0M127.0 275.0h0.5M128.5 275.0h1.5M131.0 275.0h0.0M132.0 275.0h0.0M134.0 275.0h1.5M136.5 275.0h0.5M138.0 275.0h0.0M139.0 275.0h2.5M142.5 275.0h0.0M143.5 275.0h1.0M145.5 275.0h1.0M147.5 275.0h1.0M150.0 275.0h1.5M152.5 275.0h1.0M154.5 275.0h0.5M156.5 275.0h0.0M158.0 275.0h0.0M159.0 275.0h2.5M162.5 275.0h1.5M165.0 275.0h1.0M167.5 275.0h1.0M169.5 275.0h1.0M171.5 275.0h0.0M172.5 275.0h0.0M173.5 275.0h5.0M180.0 275.0h1.5M183.0 275.0h0.0M184.0 275.0h3.0M188.0 275.0h1.5M190.5 275.0h1.5M193.0 275.0h0.5M195.0 275.0h1.0M197.0 275.0h0.5M198.5 275.0h1.0M200.5 275.0h1.0M202.5 275.0h0.0M204.0 275.0h2.5M208.0 275.0h0.5M209.5 275.0h0.5M129.5 278.0h0.0M130.5 278.0h0.0M131.5 278.0h0.0M132.5 278.0h0.0M135.0 278.0h0.5M137.5 278.0h0.5M140.0 278.0h0.0M141.0 278.0h0.0M142.0 278.0h0.0M143.0 278.0h2.0M147.0 278.0h0.0M148.0 278.0h1.0M150.0 278.0h0.0M151.0 278.0h0.5M152.5 278.0h3.5M157.0 278.0h0.0M158.5 278.0h0.5M160.0 278.0h1.0M162.0 278.0h0.0M163.0 278.0h1.0M165.0 278.0h5.5M171.5 278.0h0.5M173.0 278.0h2.0M176.0 278.0h2.0M179.0 278.0h1.5M182.0 278.0h1.5M184.5 278.0h0.0M187.0 278.0h0.5M188.5 278.0h0.0M189.5 278.0h8.0M198.5 278.0h0.5M200.0 278.0h0.0M201.5 278.0h0.5M203.0 278.0h0.0M204.5 278.0h1.5M207.0 278.0h1.0M209.5 278.0h0.5M132.5 281.5h0.0M136.5 281.5h0.5M140.0 281.5h0.0M141.0 281.5h0.5M145.0 281.5h1.5M148.5 281.5h1.0M151.0 281.5h0.0M153.0 281.5h0.0M155.5 281.5h1.5M158.0 281.5h2.5M162.0 281.5h0.5M164.0 281.5h1.0M166.0 281.5h4.0M171.0 281.5h3.5M175.5 281.5h0.0M177.0 281.5h0.5M178.5 281.5h5.0M185.0 281.5h0.5M186.5 281.5h0.0M187.5 281.5h3.0M192.0 281.5h1.0M194.0 281.5h0.5M195.5 281.5h1.0M197.5 281.5h0.5M199.0 281.5h1.5M201.5 281.5h4.0M206.5 281.5h1.0M208.5 281.5h1.5M142.5 286.5h0.5M144.5 286.5h0.0M145.5 286.5h0.0M146.5 286.5h0.0M149.0 286.5h0.0M150.0 286.5h0.5M153.0 286.5h0.0M154.5 286.5h0.0M156.0 286.5h0.0M157.5 286.5h1.0M159.5 286.5h0.0M160.5 286.5h0.0M162.0 286.5h0.5M163.5 286.5h0.0M164.5 286.5h0.0M166.0 286.5h0.0M167.0 286.5h0.0M169.0 286.5h0.0M170.0 286.5h1.5M172.5 286.5h1.0M175.0 286.5h0.0M176.5 286.5h0.0M178.5 286.5h1.0M182.0 286.5h2.0M185.0 286.5h0.0M186.0 286.5h0.5M187.5 286.5h0.5M189.0 286.5h1.0M191.0 286.5h0.5M193.5 286.5h0.0M194.5 286.5h0.0M196.5 286.5h2.0M199.5 286.5h0.5M201.0 286.5h3.5M206.0 286.5h0.5M207.5 286.5h0.0M208.5 286.5h1.5M138.5 295.5h0.0M142.5 295.5h0.0M146.5 295.5h0.0M147.5 295.5h0.0M150.5 295.5h0.0M153.5 295.5h0.5M156.0 295.5h0.0M157.0 295.5h0.5M161.0 295.5h0.0M163.0 295.5h0.0M164.5 295.5h0.0M171.5 295.5h0.5M173.0 295.5h0.5M175.5 295.5h0.0M176.5 295.5h0.0M177.5 295.5h1.0M181.5 295.5h0.0M182.5 295.5h0.0M183.5 295.5h0.0M184.5 295.5h0.0M186.5 295.5h0.5M188.0 295.5h0.5M189.5 295.5h0.0M193.0 295.5h0.0M194.0 295.5h1.5M199.0 295.5h0.0M200.0 295.5h0.0M201.0 295.5h0.0M202.5 295.5h0.0M205.0 295.5h0.0M206.5 295.5h2.5" stroke="#000000" stroke-width="2.5" stroke-linecap="square" fill="none"/>
<polyline points="39.7,186.9 40.4,187.7 41.1,188.4 41.8,189.2 42.5,190.0 43.1,190.8 43.8,191.5 44.5,192.3 45.2,193.1 45.9,193.8 46.6,194.6 47.3,195.4 48.0,196.1 48.7,196.9 49.4,197.7 50.0,198.5 50.7,199.2 51.4,200.0 52.1,200.8 52.8,201.5 53.5,202.3 54.2,203.1 54.9,203.8 55.6,204.6 56.3,205.4 56.9,206.2 57.6,206.9 58.3,207.7 59.0,208.5 59.7,209.3 60.4,210.1 61.1,210.9 61.8,211.7 62.5,212.5 63.2,213.2 63.8,214.0 64.5,214.7 65.2,215.4 65.9,216.1 66.6,216.8 67.3,217.4 68.0,218.1 68.7,218.7 69.4,219.3 70.1,219.9 70.7,220.5 71.4,221.2 72.1,221.8 72.8,222.4 73.5,223.1 74.2,223.7 74.9,224.4 75.6,225.0 76.3,225.6 77.0,226.3 77.6,226.9 78.3,227.6 79.0,228.2 79.7,228.8 80.4,229.4" fill="none" stroke="#ff0000" stroke-width="3.4" stroke-linejoin="round"/>
<path d="M41.0 186.5h0.0M41.0 187.0h0.0M41.0 187.5h0.0M41.0 188.0h0.0M41.0 188.5h0.5M41.0 189.0h0.5M41.5 189.5h0.5M43.0 189.5h0.0M42.0 190.0h0.5M42.0 190.5h1.0M43.0 191.0h1.5M43.5 191.5h1.0M43.5 192.0h0.0M44.5 192.0h0.5M44.0 192.5h1.5M44.5 193.0h1.5M45.5 193.5h0.5M45.5 194.0h1.0M45.5 194.5h1.5M46.5 195.0h1.5M47.5 195.5h0.0M47.5 196.0h1.0M47.5 196.5h1.5M48.5 197.0h0.5M49.0 197.5h0.5M49.5 198.0h0.5M50.0 198.5h1.0M50.0 199.0h1.0M50.5 199.5h1.0M51.0 200.0h1.0M51.5 200.5h1.0M52.0 201.0h1.5M52.5 201.5h1.0M52.5 202.0h1.5M53.5 202.5h0.5M54.0 203.0h0.5M54.0 203.5h1.5M54.0 204.0h1.0M54.5 204.5h2.0M55.5 205.0h0.5M56.0 205.5h0.5M56.0 206.0h0.0M57.0 206.0h0.5M56.5 206.5h1.0M57.0 207.0h1.5M58.0 207.5h0.5M57.5 208.0h0.0M58.5 208.0h0.0M58.0 208.5h0.0M59.0 208.5h0.5M59.0 209.0h1.0M59.0 209.5h1.0M60.0 210.0h1.0M60.5 210.5h1.5M60.5 211.0h0.5M62.0 211.0h0.0M61.5 211.5h1.0M61.5 212.0h1.5M62.5 212.5h0.5M62.5 213.0h1.0M63.0 213.5h1.0M63.5 214.0h0.5M65.0 214.0h0.0M64.0 214.5h1.5M64.5 215.0h0.0M65.5 215.0h0.0M65.0 215.5h1.0M65.0 216.0h1.5M65.0 216.5h0.0M66.0 216.5h1.0M65.5 217.0h0.5M67.0 217.0h0.0M66.5 217.5h2.0M66.5 218.0h0.0M68.0 218.0h1.0M67.5 218.5h2.5M67.5 219.0h2.5M68.5 219.5h2.0M70.5 220.0h0.5M69.0 220.5h0.0M70.5 220.5h1.5M70.5 221.0h2.0M70.5 221.5h2.0M73.5 221.5h0.0M71.0 222.0h2.5M71.5 222.5h0.0M73.0 222.5h1.0M72.5 223.0h0.5M74.0 223.0h0.0M73.0 223.5h2.5M73.5 224.0h1.5M76.5 224.0h0.0M75.0 224.5h0.0M76.0 224.5h0.5M74.5 225.0h2.5M75.5 225.5h0.5M77.0 225.5h0.0M76.0 226.0h1.0M79.0 226.0h0.0M76.0 226.5h0.0M77.0 226.5h1.0M76.5 227.0h1.5M79.0 227.0h0.0M81.0 227.0h0.0M77.5 227.5h2.5M78.0 228.0h2.0M81.5 228.0h0.0M78.0 228.5h0.5M79.5 228.5h0.0M80.5 228.5h0.5M79.5 229.0h1.5M82.0 229.0h0.0M79.0 229.5h3.0M79.0 230.0h0.0M80.5 230.0h0.0M81.5 230.0h0.0M82.5 230.0h0.0M78.5 230.5h0.0M81.5 230.5h0.0M83.0 230.5h0.0M80.5 231.0h0.5M82.0 231.0h0.5M83.5 231.0h0.0M84.5 231.0h0.0M81.0 231.5h0.0M82.0 231.5h0.5M83.5 231.5h0.0M84.5 231.5h0.0M80.0 232.0h0.0M82.0 232.0h0.0M84.0 232.0h0.5M85.5 232.0h0.0M83.0 232.5h1.0M85.0 232.5h0.0M82.0 233.0h1.0M84.0 233.0h1.5M84.0 233.5h1.0M86.0 233.5h0.0M87.0 233.5h0.0M83.0 234.0h0.0M84.0 234.0h0.5M85.5 234.0h1.5M85.0 234.5h0.5M87.5 234.5h0.5M85.0 235.0h0.0M86.0 235.0h1.0M88.0 235.0h0.0M89.0 235.0h0.0M90.5 235.0h0.0M83.0 235.5h0.0M86.5 235.5h1.0M89.0 235.5h0.0M86.0 236.0h0.0M87.5 236.0h0.0M89.0 236.0h0.5M87.0 236.5h0.0M88.0 236.5h1.0M90.0 236.5h0.5M86.5 237.0h0.0M88.0 237.0h0.0M87.0 237.5h1.5M89.5 237.5h0.0M91.5 237.5h0.5M87.0 238.0h0.0M88.5 238.0h0.0M89.5 238.0h1.5M93.5 238.0h0.5M87.5 238.5h0.0M89.5 238.5h0.0M90.5 238.5h0.5M92.0 238.5h0.0M90.0 239.0h0.0M91.5 239.0h1.5M89.5 239.5h0.5M91.0 239.5h0.5M92.5 239.5h0.0M94.0 239.5h0.0M91.0 240.0h0.5M93.5 240.0h1.0M95.5 240.0h0.0M97.5 240.0h0.0M89.0 240.5h0.0M90.5 240.5h0.0M92.0 240.5h1.5M95.0 240.5h0.5M99.0 240.5h0.0M91.5 241.0h1.5M94.0 241.0h2.0M97.0 241.0h0.0M93.0 241.5h0.0M94.5 241.5h0.0M95.5 241.5h0.5M97.0 241.5h0.0M98.5 241.5h0.0M92.5 242.0h0.5M97.0 242.0h1.0M93.5 242.5h0.0M95.0 242.5h0.0M96.5 242.5h2.0M99.5 242.5h0.0M100.5 242.5h0.5M93.5 243.0h0.0M94.5 243.0h0.0M96.0 243.0h0.5M98.0 243.0h0.0M100.0 243.0h0.0M94.5 243.5h0.0M95.5 243.5h0.0M96.5 243.5h0.0M98.5 243.5h2.0M101.5 243.5h0.0M98.0 244.0h0.0M99.5 244.0h0.0M100.5 244.0h0.5M94.0 244.5h0.0M96.0 244.5h2.0M99.0 244.5h0.0M100.0 244.5h0.0M101.0 244.5h0.0M95.5 245.0h0.5M99.0 245.0h0.0M100.5 245.0h0.0M101.0 245.5h1.5M97.0 246.0h0.5M98.5 246.0h1.0M100.5 246.0h1.0M103.0 246.0h0.5M105.0 246.0h0.0M95.0 246.5h0.0M99.0 246.5h0.5M101.5 246.5h0.0M103.5 246.5h0.0M108.0 246.5h0.0M109.0 246.5h0.0M100.5 247.0h0.0M101.5 247.0h1.0M103.5 247.0h0.0M105.0 247.5h0.0M101.0 248.0h0.5M103.0 248.0h1.5M107.5 248.0h0.0M110.0 248.0h0.0M104.0 248.5h0.0M107.0 248.5h0.0M110.5 248.5h0.0M102.0 249.0h1.0M104.0 249.0h2.0M108.0 249.0h0.5M110.5 249.0h0.0M100.0 249.5h0.0M102.0 249.5h0.0M104.0 249.5h0.5M106.0 249.5h0.0M108.0 249.5h0.0M112.0 249.5h0.0M104.0 250.0h0.5M105.5 250.0h0.0M106.5 250.0h0.0M107.5 250.0h0.0M109.0 250.0h0.0M100.5 250.5h0.0M102.0 250.5h0.0M103.0 250.5h0.5M105.5 250.5h0.5M108.0 250.5h0.0M109.5 250.5h0.0M112.0 250.5h0.0M102.5 251.0h0.0M104.0 251.0h0.5M106.5 251.0h0.5M111.0 251.0h0.0M103.0 251.5h0.0M105.5 251.5h0.0M107.0 251.5h0.5M108.5 251.5h1.5M112.0 251.5h0.0M105.5 252.0h0.0M107.0 252.0h0.5M108.5 252.0h0.0M110.5 252.0h0.0M111.5 252.0h0.0M112.5 252.0h0.0M103.0 252.5h0.0M106.5 252.5h0.0M110.5 252.5h0.5M102.5 253.0h0.0M104.5 253.0h0.0M106.5 253.0h0.0M108.5 253.0h0.5M110.0 253.0h0.0M107.0 253.5h0.5M110.0 253.5h0.0M111.0 253.5h1.5M116.0 253.5h0.0M106.5 254.0h0.0M110.0 254.0h0.0M112.0 254.0h0.0M115.0 254.0h0.0M117.0 254.0h0.0M106.0 254.5h0.5M108.0 254.5h0.0M109.5 254.5h0.0M111.0 254.5h0.0M113.5 254.5h0.0M114.5 254.5h0.0M116.0 254.5h0.0M117.0 254.5h0.5M119.5 254.5h0.5M103.5 255.0h0.0M108.0 255.0h0.0M109.0 255.0h0.0M110.5 255.0h0.0M111.5 255.0h0.0M113.0 255.0h0.0M114.5 255.0h0.0M115.5 255.0h0.0M117.5 255.0h0.0M120.0 255.0h0.5M111.0 255.5h0.0M114.0 255.5h0.0M115.0 255.5h0.0M116.5 255.5h0.0M118.5 255.5h0.0M119.5 255.5h0.0M107.0 256.0h0.5M110.0 256.0h0.0M111.5 256.0h0.0M112.5 256.0h0.0M113.5 256.0h0.0M114.5 256.0h0.0M122.0 256.0h0.0M109.5 256.5h1.0M112.5 256.5h3.5M119.0 256.5h0.0M122.0 256.5h0.0M124.5 256.5h0.0M127.0 256.5h0.0M109.5 257.5h0.0M111.0 257.5h0.5M112.5 257.5h1.0M115.0 257.5h0.0M116.5 257.5h0.0M118.5 257.5h0.0M120.0 257.5h0.0M112.5 258.0h0.0M113.5 258.0h0.0M116.5 258.0h0.5M119.5 258.0h0.0M122.0 258.0h0.0M124.5 258.0h0.0M126.0 258.0h0.0M112.0 258.5h0.0M114.0 258.5h0.5M115.5 258.5h0.0M117.0 258.5h0.0M118.0 258.5h0.0M119.0 258.5h0.5M120.5 258.5h0.5M109.0 259.5h0.0M111.5 259.5h0.0M113.0 259.5h1.0M115.5 259.5h1.0M121.0 259.5h0.0M122.5 259.5h0.5M124.0 259.5h0.5M125.5 259.5h0.5M127.0 259.5h0.0M132.5 259.5h0.0M113.0 260.0h0.0M114.0 260.0h0.0M116.5 260.0h2.0M120.0 260.0h1.5M122.5 260.0h0.5M124.0 260.0h0.0M127.0 260.0h0.5M129.0 260.0h0.0M130.5 260.0h0.0M135.5 260.0h0.0M108.5 261.0h0.0M116.0 261.0h0.5M117.5 261.0h2.0M120.5 261.0h1.5M124.5 261.0h0.0M126.0 261.0h0.0M128.0 261.0h0.0M129.0 261.0h0.0M130.0 261.0h0.0M133.0 261.0h0.0M138.0 261.0h0.0M114.5 262.0h1.0M117.5 262.0h0.0M119.5 262.0h0.0M121.0 262.0h0.0M122.5 262.0h2.0M126.0 262.0h0.0M127.0 262.0h1.0M130.0 262.0h0.5M134.5 262.0h0.5M141.5 262.0h0.0M152.5 262.0h0.0M116.0 263.0h0.0M117.5 263.0h0.0M120.0 263.0h0.0M121.5 263.0h0.0M122.5 263.0h2.0M125.5 263.0h0.0M127.5 263.0h0.0M129.0 263.0h0.0M130.0 263.0h0.0M133.0 263.0h0.0M136.5 263.0h0.0M140.5 263.0h0.0M144.0 263.0h0.0M160.0 263.0h0.0M162.0 263.0h0.0M117.0 264.0h0.0M118.5 264.0h1.0M120.5 264.0h0.0M121.5 264.0h0.5M125.5 264.0h1.5M129.0 264.0h0.5M132.5 264.0h0.5M134.0 264.0h0.0M136.5 264.0h0.0M138.0 264.0h0.0M139.0 264.0h0.0M143.0 264.0h0.0M147.0 264.0h0.0M167.5 264.0h0.0M181.5 264.0h0.0M116.0 265.0h0.0M117.5 265.0h0.5M121.5 265.0h1.5M124.0 265.0h0.0M125.0 265.0h0.0M126.5 265.0h0.0M127.5 265.0h1.0M129.5 265.0h0.0M131.0 265.0h1.0M133.0 265.0h0.5M134.5 265.0h1.5M137.0 265.0h0.0M138.0 265.0h0.0M140.0 265.0h0.0M141.0 265.0h0.5M143.0 265.0h0.0M145.5 265.0h1.0M149.5 265.0h0.0M153.0 265.0h0.0M154.0 265.0h0.0M159.0 265.0h0.5M118.0 266.0h0.0M121.5 266.0h0.0M123.5 266.0h0.0M125.0 266.0h0.0M128.0 266.0h1.5M130.5 266.0h1.5M133.5 266.0h0.5M135.0 266.0h0.5M137.5 266.0h0.5M139.0 266.0h0.5M140.5 266.0h0.0M142.0 266.0h1.0M144.0 266.0h0.0M148.0 266.0h0.0M149.5 266.0h0.0M155.0 266.0h0.0M161.5 266.0h0.0M164.5 266.0h0.5M167.5 266.0h0.0M168.5 266.0h0.0M172.0 266.0h0.0M178.0 266.0h0.5M189.5 266.0h0.5M115.0 267.5h0.0M120.0 267.5h0.5M122.5 267.5h0.5M125.0 267.5h2.5M128.5 267.5h0.0M129.5 267.5h1.5M132.5 267.5h1.0M134.5 267.5h0.0M135.5 267.5h0.0M136.5 267.5h0.5M138.0 267.5h0.5M139.5 267.5h0.5M141.5 267.5h0.0M142.5 267.5h0.0M145.0 267.5h0.0M146.0 267.5h0.0M147.0 267.5h0.5M150.0 267.5h0.0M151.0 267.5h1.5M154.0 267.5h0.5M155.5 267.5h0.0M157.0 267.5h0.0M158.0 267.5h0.0M159.5 267.5h0.0M161.5 267.5h0.0M162.5 267.5h0.0M169.0 267.5h0.0M170.0 267.5h0.0M174.0 267.5h0.0M190.0 267.5h0.0M196.5 267.5h0.0M199.5 267.5h0.0M206.0 267.5h0.0M210.0 267.5h0.0M119.0 269.0h0.0M122.0 269.0h0.0M123.5 269.0h0.0M127.0 269.0h0.0M129.0 269.0h0.0M130.0 269.0h0.5M131.5 269.0h0.0M133.0 269.0h1.0M135.0 269.0h0.0M136.0 269.0h0.5M137.5 269.0h0.0M138.5 269.0h0.5M140.5 269.0h0.0M141.5 269.0h0.5M143.5 269.0h1.0M147.0 269.0h0.0M148.5 269.0h1.0M151.5 269.0h0.5M153.5 269.0h0.0M154.5 269.0h1.0M158.0 269.0h0.0M159.0 269.0h0.0M160.5 269.0h1.5M163.0 269.0h1.0M165.0 269.0h0.5M166.5 269.0h0.5M168.0 269.0h0.0M173.0 269.0h0.0M174.5 269.0h0.0M175.5 269.0h0.0M176.5 269.0h0.0M179.0 269.0h0.0M180.0 269.0h0.5M188.0 269.0h0.0M189.5 269.0h0.0M190.5 269.0h0.5M192.0 269.0h0.5M193.5 269.0h0.0M194.5 269.0h0.0M195.5 269.0h0.0M197.5 269.0h0.0M198.5 269.0h0.0M199.5 269.0h0.0M203.0 269.0h0.0M205.0 269.0h0.5M209.0 269.0h0.0M210.0 269.0h0.0M125.0 270.5h0.0M126.5 270.5h0.0M128.0 270.5h0.0M129.5 270.5h0.0M131.0 270.5h0.0M134.0 270.5h3.5M138.5 270.5h0.5M140.0 270.5h2.5M143.5 270.5h5.5M150.0 270.5h0.0M151.0 270.5h0.5M153.5 270.5h0.0M154.5 270.5h0.5M156.0 270.5h0.0M157.0 270.5h0.0M158.0 270.5h0.5M160.0 270.5h0.5M162.5 270.5h1.0M164.5 270.5h0.5M167.0 270.5h0.5M168.5 270.5h2.5M173.5 270.5h0.0M174.5 270.5h1.0M176.5 270.5h0.0M177.5 270.5h0.5M179.0 270.5h1.0M181.0 270.5h0.5M182.5 270.5h0.0M185.0 270.5h0.0M188.5 270.5h1.0M190.5 270.5h0.0M192.5 270.5h0.0M194.0 270.5h0.5M195.5 270.5h0.5M197.0 270.5h0.0M198.0 270.5h1.0M200.0 270.5h0.0M201.0 270.5h0.0M202.0 270.5h0.0M203.0 270.5h0.0M205.0 270.5h0.0M206.0 270.5h0.5M207.5 270.5h0.0M130.0 272.5h0.0M132.5 272.5h0.0M134.5 272.5h0.0M135.5 272.5h0.0M136.5 272.5h0.5M138.5 272.5h0.0M139.5 272.5h0.0M141.0 272.5h0.0M142.0 272.5h0.0M145.0 272.5h0.5M146.5 272.5h0.0M147.5 272.5h0.0M148.5 272.5h0.0M149.5 272.5h0.0M150.5 272.5h1.0M152.5 272.5h0.0M156.0 272.5h1.5M158.5 272.5h0.0M159.5 272.5h1.0M161.5 272.5h1.0M163.5 272.5h0.0M164.5 272.5h0.0M166.0 272.5h0.0M167.0 272.5h0.0M168.0 272.5h0.0M169.0 272.5h0.0M170.5 272.5h1.5M173.0 272.5h0.5M174.5 272.5h0.5M176.0 272.5h0.0M177.0 272.5h1.0M180.5 272.5h0.5M182.0 272.5h0.0M183.0 272.5h3.0M188.0 272.5h0.5M190.0 272.5h1.5M193.0 272.5h0.0M196.0 272.5h0.0M198.5 272.5h0.5M201.0 272.5h0.5M204.0 272.5h0.5M205.5 272.5h0.0M207.0 272.5h0.0M208.0 272.5h0.0M209.5 272.5h0.5M121.0 275.0h0.0M124.5 275.0h0.0M132.0 275.0h0.5M133.5 275.0h0.5M135.5 275.0h0.5M137.0 275.0h2.5M141.0 275.0h0.5M142.5 275.0h0.5M144.5 275.0h1.0M146.5 275.0h0.0M147.5 275.0h0.0M148.5 275.0h0.0M149.5 275.0h3.5M154.0 275.0h0.5M155.5 275.0h0.0M157.0 275.0h0.0M159.0 275.0h0.0M160.0 275.0h0.0M161.0 275.0h0.0M162.0 275.0h3.5M167.0 275.0h0.0M168.0 275.0h0.0M169.0 275.0h1.0M171.0 275.0h0.5M172.5 275.0h1.5M175.0 275.0h0.0M176.5 275.0h1.0M178.5 275.0h0.0M179.5 275.0h4.0M184.5 275.0h2.0M188.5 275.0h3.0M192.5 275.0h0.5M194.5 275.0h0.5M196.5 275.0h1.5M199.0 275.0h0.5M200.5 275.0h0.0M201.5 275.0h3.0M205.5 275.0h1.0M207.5 275.0h1.5M132.0 278.0h0.0M135.0 278.0h0.0M137.0 278.0h0.0M138.0 278.0h0.0M139.0 278.0h0.0M140.0 278.0h0.5M141.5 278.0h0.0M143.0 278.0h0.0M144.0 278.0h0.5M146.5 278.0h0.0M147.5 278.0h0.5M150.0 278.0h1.0M152.0 278.0h0.0M153.5 278.0h0.0M154.5 278.0h0.0M156.0 278.0h2.5M159.5 278.0h1.0M162.0 278.0h1.0M164.0 278.0h0.0M165.5 278.0h1.0M167.5 278.0h8.5M177.0 278.0h0.0M178.5 278.0h1.0M181.0 278.0h1.0M183.5 278.0h4.0M188.5 278.0h0.5M190.0 278.0h0.0M191.0 278.0h3.5M195.5 278.0h1.0M197.5 278.0h5.5M204.5 278.0h0.0M205.5 278.0h0.0M207.0 278.0h0.5M209.0 278.0h0.0M210.0 278.0h0.0M134.0 281.5h0.5M143.5 281.5h0.0M146.0 281.5h0.5M148.0 281.5h0.5M152.5 281.5h1.5M155.0 281.5h1.0M157.0 281.5h0.5M158.5 281.5h0.0M161.0 281.5h3.0M165.5 281.5h0.5M168.0 281.5h0.5M170.0 281.5h0.5M171.5 281.5h0.5M173.0 281.5h1.5M176.5 281.5h0.0M179.0 281.5h4.0M184.0 281.5h3.5M188.5 281.5h1.0M191.0 281.5h0.5M193.5 281.5h0.0M195.0 281.5h1.5M198.0 281.5h4.0M203.5 281.5h0.5M205.0 281.5h0.0M206.0 281.5h0.5M207.5 281.5h0.0M208.5 281.5h1.5M145.5 286.5h0.0M147.0 286.5h0.0M149.0 286.5h0.0M151.0 286.5h0.0M153.0 286.5h0.0M154.5 286.5h0.0M155.5 286.5h0.0M156.5 286.5h1.0M159.0 286.5h2.0M162.0 286.5h0.0M164.5 286.5h0.0M165.5 286.5h0.0M167.0 286.5h1.0M170.5 286.5h0.0M171.5 286.5h0.0M172.5 286.5h0.0M174.0 286.5h0.0M175.5 286.5h2.5M179.0 286.5h0.5M183.0 286.5h1.0M185.0 286.5h0.5M187.0 286.5h0.0M188.0 286.5h0.0M191.0 286.5h0.0M192.0 286.5h0.0M193.5 286.5h0.0M194.5 286.5h0.5M196.0 286.5h0.0M197.5 286.5h0.0M200.5 286.5h0.0M201.5 286.5h0.0M202.5 286.5h0.0M204.0 286.5h0.0M206.0 286.5h0.0M207.5 286.5h2.5M159.5 295.5h0.0M165.0 295.5h0.0M166.5 295.5h0.0M167.5 295.5h0.0M175.0 295.5h0.0M176.5 295.5h0.0M177.5 295.5h0.0M178.5 295.5h0.5M180.5 295.5h0.5M182.0 295.5h0.0M186.0 295.5h0.0M187.0 295.5h0.0M188.0 295.5h0.5M191.0 295.5h0.0M192.0 295.5h0.5M193.5 295.5h0.5M195.0 295.5h0.5M196.5 295.5h0.5M198.5 295.5h0.0M200.0 295.5h0.0M201.5 295.5h0.0M202.5 295.5h0.0M203.5 295.5h0.5M205.0 295.5h0.0M206.0 295.5h0.0M207.0 295.5h0.5M208.5 295.5h0.5" stroke="#ff0000" stroke-width="2.5" stroke-linecap="square" fill="none"/>
<rect x="39.7" y="178.2" width="171.40" height="126.10" fill="none" stroke="#000" stroke-width="1.4"/>
<line x1="37.10" y1="186.90" x2="39.70" y2="186.90" stroke="#000" stroke-width="1.4"/>
<text x="35.70" y="190.50" font-size="10.9" text-anchor="end">10<tspan font-size="6.8" dy="-4.5">0</tspan></text>
<line x1="37.10" y1="216.25" x2="39.70" y2="216.25" stroke="#000" stroke-width="1.4"/>
<text x="35.70" y="219.85" font-size="10.9" text-anchor="end">10<tspan font-size="6.8" dy="-4.5">-1</tspan></text>
<line x1="37.10" y1="245.60" x2="39.70" y2="245.60" stroke="#000" stroke-width="1.4"/>
<text x="35.70" y="249.20" font-size="10.9" text-anchor="end">10<tspan font-size="6.8" dy="-4.5">-2</tspan></text>
<line x1="37.10" y1="274.95" x2="39.70" y2="274.95" stroke="#000" stroke-width="1.4"/>
<text x="35.70" y="278.55" font-size="10.9" text-anchor="end">10<tspan font-size="6.8" dy="-4.5">-3</tspan></text>
<line x1="37.10" y1="304.30" x2="39.70" y2="304.30" stroke="#000" stroke-width="1.4"/>
<text x="35.70" y="307.90" font-size="10.9" text-anchor="end">10<tspan font-size="6.8" dy="-4.5">-4</tspan></text>
<line x1="39.70" y1="304.30" x2="39.70" y2="306.90" stroke="#000" stroke-width="1.4"/>
<text x="39.70" y="317.50" font-size="10.9" text-anchor="middle" fill="#000">0</text>
<line x1="125.40" y1="304.30" x2="125.40" y2="306.90" stroke="#000" stroke-width="1.4"/>
<text x="125.40" y="317.50" font-size="10.9" text-anchor="middle" fill="#000">200</text>
<line x1="211.10" y1="304.30" x2="211.10" y2="306.90" stroke="#000" stroke-width="1.4"/>
<text x="211.10" y="317.50" font-size="10.9" text-anchor="middle" fill="#000">400</text>
<line x1="82.55" y1="304.30" x2="82.55" y2="305.90" stroke="#000" stroke-width="1.4"/>
<line x1="168.25" y1="304.30" x2="168.25" y2="305.90" stroke="#000" stroke-width="1.4"/>
<text x="0" y="0" font-size="14.5" text-anchor="middle" fill="#000" transform="translate(16.50 236.50) rotate(-90)">Counts</text>
<text x="125.40" y="330.70" font-size="14.5" text-anchor="middle" fill="#000">Time (ns)</text>
<text x="0" y="0" font-size="22.3" text-anchor="start" fill="#000" transform="translate(0.13 189.98) scale(0.980 1)">d</text>
<polyline points="271.4,186.9 272.1,188.0 272.8,189.1 273.5,190.3 274.2,191.4 274.9,192.5 275.5,193.6 276.2,194.7 276.9,195.8 277.6,196.9 278.3,198.0 279.0,199.1 279.7,200.2 280.4,201.3 281.1,202.4 281.8,203.6 282.5,204.7 283.1,205.8 283.8,206.9 284.5,208.0 285.2,209.1 285.9,210.2 286.6,211.2 287.3,212.3 288.0,213.3 288.7,214.4 289.4,215.4 290.1,216.3 290.7,217.3 291.4,218.3 292.1,219.2 292.8,220.2 293.5,221.1 294.2,222.0 294.9,222.9 295.6,223.8 296.3,224.6 297.0,225.5 297.6,226.4 298.3,227.3 299.0,228.1 299.7,228.9 300.4,229.8 301.1,230.6 301.8,231.4 302.5,232.1 303.2,232.9 303.9,233.6 304.6,234.2 305.2,234.9 305.9,235.5 306.6,236.1 307.3,236.8 308.0,237.4 308.7,238.0 309.4,238.6 310.1,239.2 310.8,239.9 311.5,240.5 312.2,241.2" fill="none" stroke="#000000" stroke-width="3.4" stroke-linejoin="round"/>
<path d="M272.5 187.0h0.0M272.5 187.5h0.0M272.5 188.0h0.0M272.5 188.5h0.0M272.5 189.0h0.5M272.5 189.5h1.0M272.5 190.0h1.0M273.0 190.5h1.0M273.5 191.0h0.5M274.0 191.5h1.0M274.5 192.0h0.5M274.0 192.5h1.5M275.0 193.0h0.5M275.5 194.0h0.5M275.5 194.5h0.5M276.0 195.0h1.0M276.5 195.5h0.5M277.0 196.0h0.5M277.0 196.5h0.5M277.5 197.0h0.5M277.5 197.5h1.0M278.0 198.0h1.0M278.5 198.5h0.5M279.0 199.0h0.5M279.0 199.5h1.0M279.5 200.0h0.5M279.5 200.5h0.5M280.5 201.0h0.0M280.0 201.5h0.5M280.5 202.0h0.5M280.5 202.5h1.0M281.0 203.0h1.0M281.5 203.5h1.0M281.5 204.0h1.0M282.0 204.5h1.0M282.0 205.0h1.0M282.5 205.5h0.5M283.0 206.0h0.5M283.5 206.5h0.5M283.5 207.0h0.5M285.0 207.0h0.0M284.0 207.5h0.5M284.0 208.0h0.5M285.0 208.5h0.0M284.5 209.0h1.0M285.0 209.5h0.5M285.5 210.0h0.5M285.5 210.5h0.5M287.0 210.5h0.0M286.0 211.0h1.0M286.0 211.5h1.0M286.5 212.0h0.5M287.0 212.5h1.0M287.0 213.0h0.5M288.0 213.5h0.5M288.0 214.0h1.0M288.5 214.5h0.5M289.0 215.0h0.5M289.0 215.5h0.5M289.0 216.0h1.0M289.5 216.5h0.5M291.0 216.5h0.0M290.0 217.0h0.5M290.5 217.5h0.0M290.5 218.0h2.0M291.0 218.5h2.0M291.5 219.0h0.5M293.0 219.0h0.5M292.5 219.5h0.5M292.5 220.0h0.5M293.0 220.5h0.5M293.0 221.0h0.0M294.0 221.0h0.0M293.5 221.5h0.5M293.5 222.0h1.0M294.0 222.5h0.5M294.5 223.0h1.0M294.5 223.5h2.0M294.5 224.0h1.5M295.5 224.5h1.5M298.5 224.5h0.0M295.5 225.0h0.0M296.5 225.0h1.0M295.0 225.5h0.0M296.5 225.5h0.5M298.0 225.5h0.0M297.5 226.0h0.0M298.5 226.0h0.0M297.5 226.5h0.5M299.5 226.5h0.0M298.0 227.0h0.5M300.0 227.0h0.0M297.0 227.5h0.5M299.0 227.5h1.0M298.0 228.0h0.0M299.0 228.0h0.5M300.5 228.0h0.0M299.0 228.5h0.5M300.5 228.5h0.0M298.5 229.0h0.0M299.5 229.0h0.5M301.0 229.0h0.0M299.5 229.5h0.0M300.5 229.5h0.5M298.5 230.0h0.0M300.5 230.0h0.0M303.0 230.0h0.0M299.0 230.5h0.0M301.0 230.5h0.0M302.0 230.5h0.0M300.5 231.0h2.0M299.5 231.5h0.0M300.5 231.5h0.0M301.5 231.5h0.5M303.0 231.5h0.0M304.0 231.5h0.0M301.5 232.0h1.5M305.0 232.0h0.0M300.0 232.5h0.0M303.0 232.5h0.0M304.5 232.5h0.0M302.0 233.0h1.0M304.0 233.0h1.0M306.0 233.0h0.0M307.0 233.0h0.0M302.5 233.5h1.5M305.5 233.5h0.0M303.5 234.0h1.0M305.5 234.0h0.5M303.5 234.5h0.0M304.5 234.5h0.0M305.5 234.5h0.0M302.5 235.0h0.0M303.5 235.0h0.5M305.0 235.0h1.0M307.0 235.0h0.5M305.5 235.5h0.0M306.5 235.5h0.0M308.5 235.5h0.0M307.0 236.0h0.0M308.0 236.0h0.0M307.5 236.5h1.0M306.0 237.0h0.5M307.5 237.0h0.5M310.5 237.0h0.0M305.0 237.5h0.0M306.0 237.5h0.0M308.0 237.5h0.5M309.5 237.5h0.0M310.5 237.5h0.0M306.5 238.0h0.0M307.5 238.0h0.0M309.0 238.0h0.5M312.5 238.0h0.0M306.5 238.5h0.5M308.5 238.5h0.5M310.5 238.5h0.0M306.5 239.0h0.5M308.0 239.0h0.5M309.5 239.0h0.0M311.0 239.0h0.5M309.0 239.5h0.0M310.0 239.5h2.0M307.0 240.0h0.0M309.0 240.0h0.0M310.0 240.0h1.5M310.0 240.5h1.5M313.0 240.5h0.0M308.5 241.0h0.0M310.0 241.0h0.0M311.0 241.0h1.0M309.0 241.5h0.0M311.5 241.5h0.0M312.5 241.5h1.5M310.0 242.0h0.0M313.0 242.0h0.0M314.0 242.0h0.0M316.0 242.0h0.0M309.0 242.5h0.0M311.0 242.5h0.0M312.0 242.5h0.0M313.0 242.5h1.5M312.5 243.0h0.5M315.5 243.0h1.0M317.5 243.0h0.5M310.0 243.5h0.0M314.0 243.5h1.0M317.5 243.5h0.0M311.5 244.0h1.0M313.5 244.0h1.0M316.0 244.0h0.5M312.5 244.5h0.0M315.0 244.5h1.0M318.0 244.5h0.0M319.0 244.5h0.0M314.5 245.0h1.0M317.0 245.0h0.0M319.0 245.0h0.0M312.5 245.5h0.0M315.5 245.5h0.5M319.0 245.5h1.0M318.5 246.0h1.5M321.5 246.0h0.0M316.5 246.5h1.0M318.5 246.5h1.5M313.5 247.0h0.0M315.0 247.0h0.5M316.5 247.0h1.0M318.5 247.0h0.0M319.5 247.0h0.0M320.5 247.0h0.0M317.0 247.5h0.0M318.0 247.5h0.0M320.0 247.5h0.0M321.0 247.5h0.0M316.5 248.0h0.0M318.5 248.0h0.0M320.0 248.0h0.0M321.0 248.0h0.5M322.5 248.0h0.0M318.0 248.5h0.5M322.0 248.5h0.0M323.5 248.5h0.0M317.0 249.0h1.0M320.5 249.0h1.0M322.5 249.0h0.0M323.5 249.0h0.0M326.0 249.0h0.0M315.5 249.5h0.0M320.5 249.5h0.0M324.5 249.5h0.0M329.5 249.5h0.0M316.0 250.0h0.5M318.0 250.0h0.0M320.0 250.0h1.0M322.0 250.0h1.0M324.0 250.0h0.5M326.5 250.0h0.0M322.0 250.5h0.0M323.5 250.5h0.0M325.0 250.5h0.5M322.5 251.0h0.0M318.0 251.5h0.0M320.5 251.5h0.0M321.5 251.5h0.0M324.0 251.5h2.0M327.0 251.5h0.5M329.0 251.5h0.0M321.5 252.0h0.0M323.0 252.0h1.0M325.5 252.0h0.0M327.0 252.0h0.0M328.0 252.0h0.5M319.5 252.5h0.0M320.5 252.5h0.0M322.0 252.5h0.5M326.0 252.5h0.0M327.0 252.5h0.0M331.0 252.5h0.0M333.0 252.5h0.0M321.5 253.0h0.0M323.5 253.0h0.0M325.0 253.0h0.0M326.5 253.0h0.0M329.0 253.0h0.0M330.0 253.0h0.0M331.5 253.0h0.5M321.5 253.5h0.0M323.0 253.5h0.0M325.0 253.5h0.5M326.5 253.5h0.0M327.5 253.5h0.0M328.5 253.5h0.5M333.5 253.5h0.0M320.5 254.0h0.0M324.5 254.0h0.5M328.0 254.0h0.5M334.5 254.0h0.0M322.0 254.5h0.0M324.0 254.5h0.5M326.0 254.5h0.0M330.0 254.5h0.0M331.5 254.5h0.0M332.5 254.5h0.0M333.5 254.5h0.0M335.5 254.5h0.0M338.5 254.5h0.0M324.0 255.0h0.0M325.5 255.0h0.0M327.0 255.0h0.0M328.5 255.0h0.5M331.0 255.0h0.0M334.5 255.0h0.0M322.5 255.5h0.0M324.0 255.5h0.0M326.5 255.5h0.0M333.5 255.5h0.0M336.0 255.5h0.0M339.0 255.5h0.0M326.0 256.0h0.0M329.5 256.0h1.0M332.0 256.0h0.0M333.5 256.0h0.0M334.5 256.0h0.0M335.5 256.0h0.0M336.5 256.0h0.0M337.5 256.0h0.0M339.0 256.0h0.0M344.5 256.0h0.0M325.5 256.5h0.0M326.5 256.5h1.0M329.0 256.5h0.5M330.5 256.5h0.0M332.5 256.5h0.5M335.0 256.5h0.0M340.5 256.5h0.0M326.5 257.5h0.0M327.5 257.5h0.0M330.0 257.5h1.5M333.0 257.5h1.0M335.0 257.5h0.0M323.0 258.0h0.0M327.5 258.0h0.5M329.5 258.0h0.5M331.0 258.0h0.0M332.5 258.0h0.5M334.0 258.0h0.5M335.5 258.0h0.5M337.5 258.0h0.0M340.0 258.0h0.0M344.5 258.0h0.5M349.0 258.0h0.0M328.5 258.5h0.0M330.0 258.5h2.5M334.0 258.5h0.0M335.0 258.5h0.0M336.5 258.5h0.0M337.5 258.5h0.0M338.5 258.5h0.5M342.0 258.5h0.5M343.5 258.5h0.0M346.0 258.5h0.0M325.0 259.5h0.0M330.0 259.5h0.0M332.0 259.5h0.5M335.5 259.5h0.0M337.0 259.5h0.0M338.0 259.5h0.0M341.0 259.5h0.5M342.5 259.5h0.0M346.0 259.5h0.0M347.5 259.5h0.5M325.0 260.0h0.0M329.0 260.0h0.0M331.0 260.0h1.0M334.0 260.0h0.0M335.5 260.0h0.0M336.5 260.0h0.0M338.5 260.0h0.0M339.5 260.0h1.0M349.0 260.0h0.0M328.0 261.0h0.0M330.5 261.0h0.0M333.0 261.0h0.0M334.0 261.0h0.0M335.0 261.0h1.0M337.0 261.0h0.0M338.0 261.0h0.5M339.5 261.0h0.5M343.5 261.0h0.5M346.0 261.0h0.0M349.0 261.0h0.5M351.5 261.0h0.0M336.5 262.0h1.0M338.5 262.0h1.0M342.0 262.0h1.0M345.5 262.0h0.5M347.0 262.0h0.0M350.0 262.0h0.0M352.0 262.0h0.0M416.5 262.0h0.0M442.0 262.0h0.0M334.0 263.0h1.0M338.5 263.0h0.5M340.5 263.0h0.5M342.0 263.0h0.0M343.0 263.0h1.0M345.5 263.0h0.5M348.5 263.0h0.0M353.5 263.0h0.5M355.5 263.0h0.0M358.5 263.0h0.0M365.5 263.0h0.0M429.0 263.0h0.0M330.5 264.0h0.0M334.5 264.0h0.0M337.0 264.0h0.5M339.5 264.0h0.5M341.0 264.0h0.0M343.0 264.0h0.0M344.0 264.0h2.5M348.5 264.0h0.0M350.0 264.0h0.0M353.0 264.0h0.5M354.5 264.0h0.0M355.5 264.0h0.5M357.5 264.0h1.0M372.5 264.0h0.0M376.0 264.0h0.0M392.5 264.0h0.0M396.5 264.0h0.0M336.0 265.0h0.0M337.5 265.0h0.0M339.0 265.0h4.0M345.0 265.0h0.0M346.5 265.0h0.0M348.0 265.0h0.5M351.0 265.0h0.0M353.0 265.0h0.5M355.5 265.0h0.0M357.5 265.0h0.0M359.0 265.0h0.0M361.5 265.0h0.0M376.0 265.0h0.0M385.5 265.0h0.0M391.0 265.0h0.0M395.0 265.0h0.0M415.5 265.0h0.5M419.5 265.0h0.0M338.0 266.0h0.0M341.0 266.0h1.0M343.0 266.0h1.0M347.0 266.0h0.5M349.5 266.0h3.0M353.5 266.0h0.0M354.5 266.0h2.0M357.5 266.0h0.0M358.5 266.0h0.5M360.5 266.0h0.0M362.0 266.0h0.5M364.0 266.0h0.0M368.5 266.0h0.0M371.0 266.0h0.0M373.0 266.0h0.5M376.0 266.0h0.0M379.5 266.0h0.0M382.5 266.0h0.5M387.0 266.0h0.0M389.0 266.0h0.0M393.0 266.0h0.5M401.5 266.0h0.0M408.5 266.0h0.0M410.5 266.0h0.0M413.0 266.0h0.0M416.0 266.0h0.0M419.5 266.0h0.0M435.0 266.0h0.0M340.0 267.5h0.5M343.5 267.5h0.0M344.5 267.5h0.0M346.5 267.5h0.0M347.5 267.5h1.0M351.0 267.5h0.5M352.5 267.5h0.5M354.0 267.5h0.5M356.5 267.5h0.5M358.5 267.5h0.0M359.5 267.5h0.0M363.5 267.5h0.5M365.0 267.5h0.5M368.5 267.5h0.0M370.5 267.5h0.0M371.5 267.5h0.0M373.0 267.5h0.5M378.0 267.5h0.5M381.0 267.5h0.5M390.0 267.5h0.0M392.5 267.5h0.0M395.5 267.5h0.5M403.5 267.5h0.0M406.0 267.5h0.0M416.5 267.5h0.0M419.0 267.5h0.0M423.0 267.5h0.0M427.5 267.5h0.0M432.0 267.5h0.0M439.5 267.5h0.5M337.5 269.0h0.0M340.5 269.0h0.0M341.5 269.0h0.0M342.5 269.0h0.5M346.5 269.0h0.0M347.5 269.0h0.0M349.0 269.0h0.5M351.5 269.0h0.0M352.5 269.0h0.0M354.0 269.0h0.0M356.5 269.0h1.5M359.0 269.0h1.0M362.5 269.0h0.5M364.0 269.0h1.0M367.5 269.0h0.5M369.0 269.0h1.5M371.5 269.0h0.5M373.5 269.0h0.0M375.0 269.0h0.0M378.0 269.0h0.0M379.0 269.0h0.5M382.0 269.0h0.0M383.0 269.0h0.5M386.0 269.0h0.0M387.0 269.0h0.0M388.5 269.0h1.0M390.5 269.0h0.0M392.0 269.0h0.0M393.0 269.0h0.0M397.5 269.0h0.0M399.0 269.0h0.0M400.0 269.0h0.0M403.0 269.0h0.5M405.0 269.0h0.0M406.0 269.0h0.0M407.5 269.0h0.0M409.0 269.0h0.0M415.0 269.0h0.0M417.0 269.0h0.5M421.0 269.0h0.0M422.0 269.0h0.0M425.5 269.0h1.0M427.5 269.0h0.0M429.0 269.0h0.0M432.0 269.0h0.0M436.5 269.0h0.0M438.5 269.0h0.0M439.5 269.0h0.0M342.5 270.5h0.0M344.0 270.5h0.0M345.5 270.5h0.0M347.0 270.5h0.0M348.5 270.5h0.0M349.5 270.5h1.0M351.5 270.5h0.5M353.5 270.5h0.5M355.0 270.5h2.0M358.5 270.5h0.5M360.0 270.5h1.5M364.0 270.5h0.0M366.0 270.5h0.5M368.0 270.5h0.0M369.0 270.5h0.5M370.5 270.5h0.0M371.5 270.5h0.0M372.5 270.5h1.5M375.0 270.5h1.0M377.0 270.5h0.0M378.5 270.5h0.0M380.0 270.5h1.0M382.0 270.5h0.0M383.0 270.5h0.0M384.0 270.5h0.0M385.0 270.5h2.0M388.0 270.5h0.0M389.0 270.5h0.0M391.0 270.5h0.0M394.0 270.5h0.0M395.0 270.5h0.0M398.0 270.5h0.5M402.5 270.5h0.5M404.0 270.5h2.5M407.5 270.5h1.0M410.5 270.5h0.5M412.0 270.5h1.0M414.0 270.5h0.0M417.0 270.5h0.0M419.5 270.5h0.0M421.0 270.5h0.0M422.5 270.5h0.5M424.5 270.5h0.5M429.0 270.5h0.5M430.5 270.5h0.0M433.5 270.5h0.0M435.0 270.5h0.5M437.0 270.5h0.5M438.5 270.5h0.0M439.5 270.5h0.0M441.0 270.5h0.0M442.0 270.5h0.0M345.0 272.5h0.0M347.0 272.5h0.0M348.0 272.5h0.0M349.0 272.5h0.0M351.5 272.5h1.0M353.5 272.5h0.0M356.0 272.5h0.5M357.5 272.5h1.0M359.5 272.5h0.5M361.0 272.5h1.0M363.0 272.5h0.5M365.5 272.5h0.5M367.0 272.5h0.5M368.5 272.5h1.5M371.0 272.5h2.0M374.0 272.5h3.5M378.5 272.5h1.5M381.5 272.5h1.0M384.0 272.5h0.5M386.0 272.5h1.0M388.0 272.5h0.0M389.0 272.5h3.0M393.5 272.5h0.0M395.0 272.5h0.0M396.0 272.5h0.5M397.5 272.5h0.0M399.0 272.5h0.0M400.5 272.5h0.0M401.5 272.5h0.0M402.5 272.5h0.5M404.5 272.5h0.0M406.5 272.5h0.0M409.5 272.5h0.0M411.0 272.5h0.0M412.0 272.5h0.5M413.5 272.5h0.0M414.5 272.5h0.5M416.0 272.5h1.0M418.5 272.5h0.0M419.5 272.5h0.5M421.5 272.5h0.5M423.0 272.5h0.0M424.0 272.5h0.5M426.5 272.5h1.5M429.0 272.5h0.0M430.0 272.5h0.5M432.5 272.5h0.0M434.5 272.5h1.0M436.5 272.5h0.0M438.0 272.5h0.0M439.0 272.5h0.0M440.5 272.5h1.5M344.5 275.0h0.0M345.5 275.0h0.0M347.5 275.0h0.0M348.5 275.0h0.0M350.5 275.0h0.0M352.5 275.0h0.5M354.5 275.0h0.0M357.0 275.0h0.0M358.0 275.0h1.0M360.5 275.0h0.0M361.5 275.0h1.5M364.5 275.0h1.0M366.5 275.0h1.5M369.0 275.0h2.0M372.0 275.0h0.0M373.5 275.0h1.0M375.5 275.0h0.0M376.5 275.0h0.0M378.5 275.0h0.0M380.5 275.0h3.5M385.0 275.0h0.5M386.5 275.0h0.0M387.5 275.0h0.0M389.0 275.0h1.0M391.5 275.0h0.0M392.5 275.0h2.0M395.5 275.0h0.0M396.5 275.0h4.0M401.5 275.0h1.0M403.5 275.0h0.5M405.5 275.0h1.5M408.0 275.0h1.0M410.0 275.0h0.5M412.5 275.0h1.5M415.5 275.0h0.0M417.5 275.0h0.0M418.5 275.0h2.5M422.0 275.0h2.5M425.5 275.0h1.5M428.0 275.0h1.5M430.5 275.0h0.5M432.0 275.0h2.0M435.0 275.0h2.0M439.0 275.0h1.0M441.5 275.0h0.5M350.0 278.0h0.5M355.0 278.0h0.0M359.5 278.0h0.0M360.5 278.0h0.0M362.0 278.0h1.5M364.5 278.0h1.0M366.5 278.0h1.5M371.0 278.0h0.0M372.0 278.0h1.0M374.0 278.0h0.0M375.0 278.0h0.0M377.0 278.0h1.0M379.0 278.0h0.5M381.5 278.0h0.0M383.0 278.0h0.5M384.5 278.0h0.0M386.0 278.0h4.0M392.0 278.0h1.0M394.0 278.0h0.0M395.0 278.0h1.0M397.0 278.0h0.0M398.5 278.0h0.0M400.0 278.0h0.0M401.0 278.0h2.0M404.0 278.0h1.5M406.5 278.0h0.5M408.0 278.0h2.5M411.5 278.0h0.5M413.5 278.0h0.0M414.5 278.0h2.0M418.0 278.0h0.5M420.0 278.0h2.0M423.0 278.0h1.0M425.0 278.0h1.0M427.5 278.0h1.0M429.5 278.0h1.5M432.5 278.0h1.0M434.5 278.0h0.0M435.5 278.0h0.5M437.0 278.0h4.0M442.0 278.0h0.0M354.5 281.5h0.5M357.0 281.5h0.0M358.0 281.5h0.0M359.5 281.5h0.5M363.5 281.5h1.0M366.0 281.5h0.0M368.0 281.5h1.0M370.0 281.5h0.5M371.5 281.5h0.0M373.0 281.5h0.0M375.0 281.5h1.5M377.5 281.5h0.5M379.0 281.5h0.0M380.0 281.5h0.5M382.5 281.5h0.0M384.0 281.5h0.5M385.5 281.5h0.0M386.5 281.5h0.0M388.5 281.5h0.0M390.0 281.5h2.0M394.5 281.5h1.5M397.0 281.5h0.5M398.5 281.5h1.5M401.0 281.5h0.0M402.0 281.5h1.5M404.5 281.5h0.5M406.0 281.5h1.5M408.5 281.5h0.0M410.0 281.5h0.0M411.0 281.5h2.5M414.5 281.5h1.0M418.5 281.5h1.0M420.5 281.5h2.0M423.5 281.5h1.0M426.5 281.5h1.0M428.5 281.5h0.0M429.5 281.5h0.5M431.5 281.5h0.0M432.5 281.5h1.0M434.5 281.5h1.5M437.0 281.5h2.0M440.0 281.5h1.0M442.0 281.5h0.0M362.0 286.5h0.0M367.0 286.5h0.0M372.5 286.5h0.0M374.5 286.5h0.0M377.5 286.5h0.5M379.0 286.5h0.0M380.0 286.5h0.0M381.0 286.5h0.5M384.5 286.5h1.5M389.5 286.5h0.5M391.5 286.5h0.0M392.5 286.5h2.0M396.0 286.5h2.0M399.0 286.5h1.0M401.0 286.5h0.5M403.5 286.5h1.5M406.0 286.5h0.0M407.0 286.5h0.5M409.5 286.5h0.0M411.0 286.5h2.0M414.0 286.5h0.5M415.5 286.5h1.5M418.0 286.5h1.0M420.0 286.5h0.5M421.5 286.5h0.5M423.0 286.5h2.0M426.0 286.5h0.0M427.0 286.5h0.0M428.0 286.5h0.5M429.5 286.5h0.5M431.5 286.5h0.5M433.5 286.5h1.0M435.5 286.5h0.0M436.5 286.5h1.0M440.5 286.5h0.0M441.5 286.5h0.0M356.0 295.5h0.0M358.0 295.5h0.0M362.5 295.5h0.0M367.5 295.5h0.0M377.0 295.5h0.0M380.0 295.5h0.0M382.5 295.5h0.0M383.5 295.5h1.0M388.0 295.5h0.5M394.5 295.5h0.0M395.5 295.5h0.0M396.5 295.5h0.0M397.5 295.5h0.5M400.0 295.5h0.5M403.0 295.5h0.0M404.0 295.5h0.0M407.5 295.5h0.0M408.5 295.5h0.0M409.5 295.5h0.5M411.0 295.5h0.0M413.0 295.5h0.0M414.0 295.5h0.5M418.0 295.5h0.0M421.0 295.5h0.0M423.5 295.5h0.0M424.5 295.5h0.0M426.5 295.5h1.0M430.5 295.5h0.0M431.5 295.5h0.5M433.0 295.5h0.0M434.0 295.5h0.5M436.0 295.5h0.0M437.0 295.5h0.5M438.5 295.5h0.0M439.5 295.5h0.0M440.5 295.5h0.0M442.0 295.5h0.0" stroke="#000000" stroke-width="2.5" stroke-linecap="square" fill="none"/>
<polyline points="271.4,186.9 272.1,187.9 272.8,189.0 273.5,190.0 274.2,191.1 274.9,192.1 275.5,193.2 276.2,194.2 276.9,195.3 277.6,196.3 278.3,197.4 279.0,198.4 279.7,199.5 280.4,200.5 281.1,201.6 281.8,202.7 282.5,203.8 283.1,204.8 283.8,205.9 284.5,207.0 285.2,208.0 285.9,209.1 286.6,210.1 287.3,211.1 288.0,212.1 288.7,213.1 289.4,214.1 290.1,215.0 290.7,215.9 291.4,216.8 292.1,217.7 292.8,218.5 293.5,219.4 294.2,220.3 294.9,221.1 295.6,222.0 296.3,222.8 297.0,223.7 297.6,224.6 298.3,225.4 299.0,226.3 299.7,227.1 300.4,227.9 301.1,228.8 301.8,229.6 302.5,230.3 303.2,231.1 303.9,231.8 304.6,232.5 305.2,233.2 305.9,233.9 306.6,234.5 307.3,235.2 308.0,235.8 308.7,236.5 309.4,237.1 310.1,237.7 310.8,238.4 311.5,239.0 312.2,239.7" fill="none" stroke="#00ff00" stroke-width="3.4" stroke-linejoin="round"/>
<path d="M272.5 186.5h0.0M272.5 187.0h0.0M272.5 188.0h0.0M272.5 188.5h0.0M272.5 189.0h1.0M272.5 189.5h0.5M273.0 190.0h0.5M273.5 190.5h1.0M274.0 191.0h0.5M274.0 191.5h0.5M274.5 192.0h1.0M275.0 192.5h0.5M275.0 193.0h0.5M275.5 193.5h0.0M276.0 194.0h0.5M276.0 194.5h0.5M276.0 195.0h1.0M276.5 195.5h0.5M278.0 195.5h0.0M277.0 196.0h0.5M277.0 196.5h1.0M277.5 197.0h0.5M279.0 197.0h0.0M278.5 197.5h0.0M278.5 198.0h1.0M278.5 198.5h0.5M279.0 199.0h0.5M279.5 199.5h0.5M280.0 200.0h0.5M280.0 200.5h1.0M280.0 201.0h0.0M281.0 201.0h0.0M280.0 201.5h0.0M281.0 201.5h0.5M280.5 202.0h1.5M281.0 202.5h1.0M282.0 203.0h0.5M282.0 203.5h0.5M282.0 204.0h1.0M282.0 204.5h0.5M283.0 205.0h0.5M283.5 205.5h1.0M283.5 206.0h0.5M283.5 206.5h0.0M284.5 206.5h0.0M284.5 207.0h0.5M284.5 207.5h0.5M285.5 208.0h0.0M285.0 208.5h1.0M286.0 209.0h0.5M285.5 209.5h1.5M286.0 210.0h0.5M286.5 210.5h1.5M286.5 211.0h1.0M287.0 211.5h0.5M288.0 212.0h1.0M287.5 212.5h1.0M288.0 213.0h2.0M288.0 213.5h1.5M289.5 214.0h0.0M290.5 214.0h0.0M288.5 214.5h0.0M289.5 214.5h0.5M290.5 215.0h0.0M290.0 215.5h1.0M292.0 215.5h0.0M290.0 216.0h1.5M290.0 216.5h2.0M291.0 217.0h1.0M291.5 217.5h0.0M292.0 218.0h1.5M292.5 218.5h0.5M294.5 218.5h0.0M292.5 219.0h0.5M294.5 219.0h0.0M293.5 219.5h1.0M293.0 220.0h0.0M294.0 220.0h0.5M293.5 220.5h1.5M293.5 221.0h0.0M294.5 221.0h0.0M295.5 221.0h0.0M293.5 221.5h0.0M295.0 221.5h0.5M294.5 222.0h1.5M297.0 222.0h0.0M295.5 222.5h1.0M295.5 223.0h0.0M296.5 223.0h0.5M296.0 223.5h1.5M295.0 224.0h0.0M296.0 224.0h0.0M297.5 224.0h0.5M297.5 224.5h0.0M298.5 224.5h0.5M296.5 225.0h1.5M298.0 225.5h1.0M300.0 225.5h0.0M298.5 226.0h0.0M299.5 226.0h0.0M298.0 226.5h0.0M299.0 226.5h0.5M298.5 227.0h0.5M300.0 227.0h0.5M299.5 227.5h1.0M299.5 228.0h0.0M300.5 228.0h0.0M300.0 228.5h1.5M302.5 228.5h0.0M303.5 228.5h0.0M301.0 229.0h1.0M300.5 229.5h1.5M300.5 230.0h0.5M302.0 230.0h1.5M300.0 230.5h0.0M301.5 230.5h0.5M303.0 230.5h0.0M302.5 231.0h0.5M304.0 231.0h0.0M301.5 231.5h0.0M302.5 231.5h1.0M305.0 231.5h0.0M303.0 232.0h1.5M306.0 232.0h0.0M303.0 232.5h0.0M304.0 232.5h1.0M306.5 232.5h0.0M307.5 232.5h0.0M304.5 233.0h1.0M304.5 233.5h0.0M306.0 233.5h1.0M308.0 233.5h0.0M304.5 234.0h3.0M304.0 234.5h0.5M305.5 234.5h1.5M308.5 234.5h0.0M305.5 235.0h0.0M306.5 235.0h2.5M310.0 235.0h0.0M307.0 235.5h0.0M308.0 235.5h0.0M307.0 236.0h0.0M308.0 236.0h0.0M309.0 236.0h0.0M310.0 236.0h0.0M307.5 236.5h0.0M309.0 236.5h0.0M310.0 236.5h0.5M311.5 236.5h0.0M308.0 237.0h1.0M310.0 237.0h0.0M312.0 237.0h0.0M308.5 237.5h1.0M310.5 237.5h0.5M313.5 237.5h0.0M307.5 238.0h0.0M309.5 238.0h0.0M311.5 238.0h0.0M306.0 238.5h0.0M310.0 238.5h0.0M311.0 238.5h1.0M313.5 238.5h0.0M311.0 239.0h3.0M308.5 239.5h0.0M310.5 239.5h2.5M309.5 240.0h0.0M311.0 240.0h0.0M313.0 240.0h0.0M314.0 240.0h0.0M315.5 240.0h0.0M309.5 240.5h0.0M311.5 240.5h2.0M314.5 240.5h0.0M310.5 241.0h0.0M311.5 241.0h0.0M313.0 241.0h0.0M314.0 241.0h0.0M315.0 241.0h0.5M317.0 241.0h0.0M313.0 241.5h1.0M315.0 241.5h0.0M316.5 241.5h0.0M316.0 242.0h0.0M314.0 242.5h1.0M316.0 242.5h0.0M314.5 243.0h0.0M318.5 243.0h0.5M313.0 243.5h0.0M314.0 243.5h0.0M315.5 243.5h2.0M319.0 243.5h0.0M312.5 244.0h0.0M314.5 244.0h0.0M315.5 244.0h0.0M317.0 244.0h0.5M318.5 244.0h0.0M320.0 244.0h0.0M323.0 244.0h0.0M314.5 244.5h0.5M316.5 244.5h0.0M319.0 244.5h0.0M321.5 244.5h0.0M315.5 245.0h0.5M317.0 245.0h1.5M321.0 245.0h0.0M315.0 245.5h0.5M317.0 245.5h0.0M318.0 245.5h2.5M322.0 245.5h0.0M316.5 246.0h0.5M318.0 246.0h0.0M319.5 246.0h2.0M323.5 246.0h0.0M327.5 246.0h0.0M316.5 246.5h0.0M317.5 246.5h0.0M319.0 246.5h0.5M320.5 246.5h1.0M323.0 246.5h0.0M324.5 246.5h0.0M317.5 247.0h0.5M320.5 247.0h0.0M321.5 247.0h0.5M324.0 247.0h0.0M325.5 247.0h0.0M319.5 247.5h0.0M321.0 247.5h0.0M323.0 247.5h0.0M320.0 248.0h0.0M322.5 248.0h1.0M324.5 248.0h0.0M325.5 248.0h0.0M319.5 248.5h0.0M321.5 248.5h0.5M323.0 248.5h0.0M326.5 248.5h0.0M318.5 249.0h0.5M320.0 249.0h1.0M322.0 249.0h0.0M323.5 249.0h0.0M325.0 249.0h0.0M330.0 249.0h0.0M322.5 249.5h0.0M326.0 249.5h0.0M328.0 249.5h0.0M320.0 250.0h0.5M321.5 250.0h0.0M324.0 250.0h0.0M325.5 250.0h1.5M328.0 250.0h0.5M322.5 250.5h0.5M324.0 250.5h0.5M326.0 250.5h0.5M329.5 250.5h0.0M330.5 250.5h0.0M322.5 251.0h0.0M323.5 251.0h0.5M326.0 251.0h0.0M327.5 251.0h0.0M328.5 251.0h0.0M330.0 251.0h0.0M322.5 251.5h0.0M324.0 251.5h0.0M325.0 251.5h0.5M326.5 251.5h1.5M331.0 251.5h0.0M336.0 251.5h0.0M320.5 252.0h0.0M322.5 252.0h0.0M323.5 252.0h0.0M327.0 252.0h0.0M328.0 252.0h0.0M332.5 252.0h0.0M325.0 252.5h0.0M326.0 252.5h0.0M329.0 252.5h0.0M331.5 252.5h0.0M338.5 252.5h0.0M324.5 253.0h0.5M326.5 253.0h0.0M327.5 253.0h0.0M329.5 253.0h0.0M330.5 253.0h0.0M332.0 253.0h0.5M324.5 253.5h0.5M326.5 253.5h0.5M328.5 253.5h0.5M330.0 253.5h1.0M333.5 253.5h0.0M334.5 253.5h0.5M338.0 253.5h0.0M322.0 254.0h0.0M329.0 254.0h1.0M331.0 254.0h1.0M333.0 254.0h0.0M337.0 254.0h0.0M325.5 254.5h0.0M327.0 254.5h0.0M329.0 254.5h0.5M332.0 254.5h0.0M333.5 254.5h0.5M335.0 254.5h0.0M339.0 254.5h0.0M342.0 254.5h0.0M329.0 255.0h0.5M330.5 255.0h1.5M333.5 255.0h1.0M335.5 255.0h0.0M336.5 255.0h0.0M340.0 255.0h0.5M327.5 255.5h0.0M329.5 255.5h0.5M331.0 255.5h0.5M332.5 255.5h0.5M335.0 255.5h0.0M337.5 255.5h1.0M330.5 256.0h0.0M336.5 256.0h1.0M338.5 256.0h0.0M341.5 256.0h0.0M343.5 256.0h0.0M328.0 256.5h0.5M330.0 256.5h0.0M331.0 256.5h0.0M332.0 256.5h0.0M333.0 256.5h1.0M335.0 256.5h1.5M337.5 256.5h0.5M339.0 256.5h0.0M340.0 256.5h0.0M343.0 256.5h0.0M347.5 256.5h0.0M349.5 256.5h0.0M329.0 257.5h0.0M331.5 257.5h1.0M334.0 257.5h0.0M335.0 257.5h0.5M336.5 257.5h0.0M338.0 257.5h0.5M340.0 257.5h0.5M344.0 257.5h0.5M345.5 257.5h0.0M347.0 257.5h0.0M361.0 257.5h0.0M328.0 258.0h0.0M330.5 258.0h0.0M334.0 258.0h1.0M336.0 258.0h0.5M338.0 258.0h0.0M339.0 258.0h2.0M342.0 258.0h0.5M343.5 258.0h0.0M346.0 258.0h0.0M331.5 258.5h0.0M332.5 258.5h0.0M333.5 258.5h0.5M335.5 258.5h0.5M338.5 258.5h0.0M340.0 258.5h0.0M341.5 258.5h0.0M342.5 258.5h0.5M347.5 258.5h0.0M350.0 258.5h0.0M357.0 258.5h0.0M333.0 259.5h0.0M334.5 259.5h0.0M338.5 259.5h0.0M340.0 259.5h0.5M343.5 259.5h0.0M344.5 259.5h0.5M346.5 259.5h0.0M348.5 259.5h0.0M352.0 259.5h0.0M353.0 259.5h0.0M362.0 259.5h0.0M327.5 260.0h0.0M328.5 260.0h0.0M334.5 260.0h0.0M337.0 260.0h0.0M339.5 260.0h0.0M340.5 260.0h0.0M343.0 260.0h0.0M344.5 260.0h0.0M346.0 260.0h0.5M347.5 260.0h0.0M350.5 260.0h0.0M352.0 260.0h0.0M356.5 260.0h0.0M383.5 260.0h0.0M333.0 261.0h0.0M334.5 261.0h0.0M337.5 261.0h0.5M339.5 261.0h0.0M341.5 261.0h0.5M344.0 261.0h0.5M346.0 261.0h0.0M349.5 261.0h0.0M351.5 261.0h0.0M369.0 261.0h0.0M336.0 262.0h0.0M337.0 262.0h0.0M338.5 262.0h0.0M341.0 262.0h1.0M343.5 262.0h0.0M346.5 262.0h0.5M348.0 262.0h1.5M351.0 262.0h0.0M353.0 262.0h0.0M354.0 262.0h0.0M425.0 262.0h0.0M336.0 263.0h0.0M340.5 263.0h0.5M342.0 263.0h0.5M344.0 263.0h0.5M345.5 263.0h0.0M346.5 263.0h0.5M348.5 263.0h0.0M350.0 263.0h2.5M353.5 263.0h0.0M356.0 263.0h0.0M363.0 263.0h0.0M397.5 263.0h0.0M335.5 264.0h0.5M337.5 264.0h0.0M339.0 264.0h0.5M343.0 264.0h0.0M344.0 264.0h0.0M345.0 264.0h0.5M346.5 264.0h0.5M348.0 264.0h0.5M350.0 264.0h0.0M351.0 264.0h0.0M352.5 264.0h1.0M358.5 264.0h0.0M360.5 264.0h0.0M364.0 264.0h0.5M369.5 264.0h0.0M370.5 264.0h0.0M376.0 264.0h0.0M377.0 264.0h0.0M337.5 265.0h0.0M341.0 265.0h0.0M343.5 265.0h0.0M345.0 265.0h0.0M346.0 265.0h0.0M347.0 265.0h0.5M348.5 265.0h0.5M350.0 265.0h0.5M352.0 265.0h0.0M353.0 265.0h2.0M356.0 265.0h0.0M357.5 265.0h0.0M358.5 265.0h0.5M361.5 265.0h0.0M364.5 265.0h0.0M370.0 265.0h0.0M372.0 265.0h0.0M377.0 265.0h0.0M380.5 265.0h0.0M381.5 265.0h0.0M384.0 265.0h0.0M391.0 265.0h0.0M414.5 265.0h0.0M423.5 265.0h0.0M339.5 266.0h0.0M341.0 266.0h0.5M343.5 266.0h0.0M345.0 266.0h0.0M347.5 266.0h1.0M350.0 266.0h1.0M352.0 266.0h1.5M354.5 266.0h0.0M356.5 266.0h0.0M357.5 266.0h0.0M359.0 266.0h1.0M361.0 266.0h0.0M362.0 266.0h0.0M365.5 266.0h0.5M367.0 266.0h2.0M370.5 266.0h0.0M373.0 266.0h0.0M374.0 266.0h0.0M376.5 266.0h0.5M378.0 266.0h0.0M379.5 266.0h0.0M381.5 266.0h0.0M384.0 266.0h0.0M389.5 266.0h0.0M396.0 266.0h0.0M400.0 266.0h0.0M401.0 266.0h0.5M402.5 266.0h0.0M410.0 266.0h0.0M413.0 266.0h0.0M432.0 266.0h0.0M438.5 266.0h0.0M341.0 267.5h0.0M342.0 267.5h0.5M343.5 267.5h0.0M345.5 267.5h0.0M348.0 267.5h0.0M349.0 267.5h0.5M351.0 267.5h0.0M352.0 267.5h0.0M353.0 267.5h0.0M354.5 267.5h0.0M355.5 267.5h1.5M358.0 267.5h0.5M359.5 267.5h1.0M361.5 267.5h0.5M363.5 267.5h0.5M365.0 267.5h0.0M366.5 267.5h0.5M368.5 267.5h0.0M370.0 267.5h0.0M371.5 267.5h1.5M374.5 267.5h0.0M376.0 267.5h0.0M379.5 267.5h0.0M384.5 267.5h0.5M390.0 267.5h0.0M392.0 267.5h0.0M396.5 267.5h0.0M398.0 267.5h0.0M402.0 267.5h0.0M407.5 267.5h0.0M412.5 267.5h0.0M413.5 267.5h0.0M415.0 267.5h0.0M419.0 267.5h0.0M420.0 267.5h0.0M425.5 267.5h0.5M431.0 267.5h0.0M442.0 267.5h0.0M341.5 269.0h0.0M342.5 269.0h0.0M344.5 269.0h0.0M345.5 269.0h0.5M350.0 269.0h0.5M351.5 269.0h0.0M354.0 269.0h2.0M357.5 269.0h1.0M359.5 269.0h0.0M361.0 269.0h0.0M362.5 269.0h0.0M363.5 269.0h1.0M366.0 269.0h0.0M367.0 269.0h0.5M368.5 269.0h1.0M370.5 269.0h1.0M372.5 269.0h0.0M376.5 269.0h0.0M377.5 269.0h0.0M379.0 269.0h0.0M380.0 269.0h0.0M386.5 269.0h0.0M387.5 269.0h0.0M388.5 269.0h0.0M390.0 269.0h0.0M391.0 269.0h0.0M392.0 269.0h0.0M393.0 269.0h0.0M394.5 269.0h0.0M395.5 269.0h0.0M397.5 269.0h0.0M400.5 269.0h0.0M408.5 269.0h0.0M409.5 269.0h0.0M411.0 269.0h0.5M413.0 269.0h0.5M414.5 269.0h0.0M417.0 269.0h0.0M422.5 269.0h0.0M424.0 269.0h0.0M428.5 269.0h0.0M434.0 269.0h0.0M435.0 269.0h0.5M437.0 269.0h0.0M439.5 269.0h0.5M441.0 269.0h0.5M347.5 270.5h0.0M349.5 270.5h0.0M351.5 270.5h0.0M354.0 270.5h2.0M357.0 270.5h3.0M361.0 270.5h2.5M365.0 270.5h0.5M366.5 270.5h0.0M367.5 270.5h1.5M371.0 270.5h1.0M373.0 270.5h1.5M376.0 270.5h0.0M377.0 270.5h0.0M378.0 270.5h0.5M379.5 270.5h1.0M381.5 270.5h1.5M384.0 270.5h0.0M385.5 270.5h0.0M387.0 270.5h3.5M392.5 270.5h3.0M396.5 270.5h1.0M398.5 270.5h0.5M400.5 270.5h1.0M402.5 270.5h0.0M403.5 270.5h0.0M405.0 270.5h1.0M407.5 270.5h0.0M409.0 270.5h0.5M410.5 270.5h0.0M412.0 270.5h0.5M414.0 270.5h2.0M417.5 270.5h0.5M419.0 270.5h0.5M421.0 270.5h0.0M425.0 270.5h1.0M427.5 270.5h0.0M429.0 270.5h0.5M432.0 270.5h0.0M433.5 270.5h0.0M435.0 270.5h0.0M436.0 270.5h0.5M439.0 270.5h0.0M441.5 270.5h0.5M339.0 272.5h0.0M345.0 272.5h0.0M351.0 272.5h0.0M355.0 272.5h0.0M356.5 272.5h0.5M358.0 272.5h0.0M360.0 272.5h1.5M362.5 272.5h0.0M363.5 272.5h4.5M370.0 272.5h0.5M371.5 272.5h0.5M374.5 272.5h0.5M377.0 272.5h0.5M379.0 272.5h2.5M383.0 272.5h0.0M384.0 272.5h0.0M385.0 272.5h0.0M386.0 272.5h0.0M387.5 272.5h0.5M389.0 272.5h0.0M390.0 272.5h2.5M395.0 272.5h0.0M396.0 272.5h1.0M398.0 272.5h0.0M399.5 272.5h0.5M401.0 272.5h0.0M402.0 272.5h1.0M404.5 272.5h0.0M405.5 272.5h0.0M406.5 272.5h2.0M410.0 272.5h0.0M411.5 272.5h3.0M416.0 272.5h1.5M418.5 272.5h0.0M420.0 272.5h0.0M421.0 272.5h0.0M422.0 272.5h1.0M424.5 272.5h1.0M427.0 272.5h0.0M428.5 272.5h0.0M430.5 272.5h0.0M431.5 272.5h0.0M432.5 272.5h0.0M435.0 272.5h1.5M438.0 272.5h0.0M439.0 272.5h0.0M346.0 275.0h0.0M348.5 275.0h0.0M354.0 275.0h0.5M357.0 275.0h1.0M360.5 275.0h0.0M361.5 275.0h0.0M363.0 275.0h0.0M364.0 275.0h1.5M367.0 275.0h1.0M369.0 275.0h8.0M378.0 275.0h1.0M380.0 275.0h1.0M382.5 275.0h3.5M387.0 275.0h2.5M391.0 275.0h1.5M393.5 275.0h2.0M396.5 275.0h3.5M401.0 275.0h1.5M403.5 275.0h5.0M409.5 275.0h0.0M410.5 275.0h0.5M412.0 275.0h0.5M415.0 275.0h1.0M417.0 275.0h0.0M418.0 275.0h0.5M420.0 275.0h2.0M423.0 275.0h0.0M425.0 275.0h1.0M427.5 275.0h0.0M428.5 275.0h3.0M432.5 275.0h0.0M433.5 275.0h1.0M435.5 275.0h0.5M438.0 275.0h3.0M442.0 275.0h0.0M358.5 278.0h0.0M361.5 278.0h0.0M364.0 278.0h0.0M366.5 278.0h1.0M369.5 278.0h0.5M372.5 278.0h0.0M373.5 278.0h1.0M375.5 278.0h1.0M377.5 278.0h0.5M379.0 278.0h0.0M381.5 278.0h0.5M383.0 278.0h0.5M384.5 278.0h0.0M385.5 278.0h2.0M388.5 278.0h0.0M389.5 278.0h0.0M390.5 278.0h0.0M391.5 278.0h0.5M393.0 278.0h2.5M397.0 278.0h0.5M398.5 278.0h1.5M401.0 278.0h0.0M402.0 278.0h2.0M405.5 278.0h3.5M410.0 278.0h1.0M412.0 278.0h0.0M413.0 278.0h2.0M416.0 278.0h0.5M417.5 278.0h0.0M418.5 278.0h3.0M423.5 278.0h0.0M424.5 278.0h0.0M425.5 278.0h3.5M430.0 278.0h3.5M434.5 278.0h2.0M438.0 278.0h4.0M348.0 281.5h0.0M352.0 281.5h0.5M357.5 281.5h0.0M359.0 281.5h0.5M362.0 281.5h0.5M363.5 281.5h0.0M365.0 281.5h0.0M369.5 281.5h0.0M371.0 281.5h0.0M372.5 281.5h0.0M375.0 281.5h0.5M376.5 281.5h0.0M378.0 281.5h0.0M379.5 281.5h0.0M380.5 281.5h1.5M383.0 281.5h1.0M385.5 281.5h0.0M386.5 281.5h0.5M388.5 281.5h0.5M390.0 281.5h0.5M393.0 281.5h1.0M396.0 281.5h0.5M397.5 281.5h1.5M400.5 281.5h0.0M402.0 281.5h0.0M403.0 281.5h0.0M404.0 281.5h1.0M406.0 281.5h2.5M409.5 281.5h3.0M413.5 281.5h1.0M415.5 281.5h0.5M417.0 281.5h2.5M420.5 281.5h3.5M425.0 281.5h2.5M428.5 281.5h0.0M430.0 281.5h0.5M431.5 281.5h0.5M433.5 281.5h0.0M434.5 281.5h1.0M436.5 281.5h1.0M438.5 281.5h1.5M441.0 281.5h1.0M356.0 286.5h0.0M366.0 286.5h0.0M368.0 286.5h0.0M370.5 286.5h0.0M375.0 286.5h0.5M379.0 286.5h0.0M382.0 286.5h0.5M383.5 286.5h0.5M385.0 286.5h0.5M387.0 286.5h0.5M389.5 286.5h0.0M390.5 286.5h0.0M391.5 286.5h0.0M392.5 286.5h0.0M394.5 286.5h0.0M395.5 286.5h0.5M397.0 286.5h0.0M399.5 286.5h0.0M401.5 286.5h0.0M402.5 286.5h0.0M403.5 286.5h2.5M409.0 286.5h1.5M411.5 286.5h0.0M414.0 286.5h0.0M415.5 286.5h1.5M418.0 286.5h0.0M419.0 286.5h0.0M421.0 286.5h0.0M423.0 286.5h1.5M428.0 286.5h0.5M429.5 286.5h0.5M433.0 286.5h1.5M435.5 286.5h0.5M437.0 286.5h1.0M439.5 286.5h0.0M440.5 286.5h0.0M441.5 286.5h0.5M376.5 295.5h0.0M384.5 295.5h0.0M386.5 295.5h0.0M388.0 295.5h0.0M391.5 295.5h1.0M398.0 295.5h0.0M400.5 295.5h0.0M403.5 295.5h0.5M405.5 295.5h0.0M410.0 295.5h0.0M413.0 295.5h0.0M416.5 295.5h1.5M419.5 295.5h0.0M422.5 295.5h1.0M424.5 295.5h0.0M426.5 295.5h0.5M428.0 295.5h0.0M429.0 295.5h1.0M432.0 295.5h1.0M434.0 295.5h0.0M435.0 295.5h0.0M438.0 295.5h0.5M440.5 295.5h0.0M441.5 295.5h0.0" stroke="#00ff00" stroke-width="2.5" stroke-linecap="square" fill="none"/>
<rect x="271.4" y="178.2" width="171.60" height="126.10" fill="none" stroke="#000" stroke-width="1.4"/>
<line x1="268.80" y1="186.90" x2="271.40" y2="186.90" stroke="#000" stroke-width="1.4"/>
<text x="267.40" y="190.50" font-size="10.9" text-anchor="end">10<tspan font-size="6.8" dy="-4.5">0</tspan></text>
<line x1="268.80" y1="216.25" x2="271.40" y2="216.25" stroke="#000" stroke-width="1.4"/>
<text x="267.40" y="219.85" font-size="10.9" text-anchor="end">10<tspan font-size="6.8" dy="-4.5">-1</tspan></text>
<line x1="268.80" y1="245.60" x2="271.40" y2="245.60" stroke="#000" stroke-width="1.4"/>
<text x="267.40" y="249.20" font-size="10.9" text-anchor="end">10<tspan font-size="6.8" dy="-4.5">-2</tspan></text>
<line x1="268.80" y1="274.95" x2="271.40" y2="274.95" stroke="#000" stroke-width="1.4"/>
<text x="267.40" y="278.55" font-size="10.9" text-anchor="end">10<tspan font-size="6.8" dy="-4.5">-3</tspan></text>
<line x1="268.80" y1="304.30" x2="271.40" y2="304.30" stroke="#000" stroke-width="1.4"/>
<text x="267.40" y="307.90" font-size="10.9" text-anchor="end">10<tspan font-size="6.8" dy="-4.5">-4</tspan></text>
<line x1="271.40" y1="304.30" x2="271.40" y2="306.90" stroke="#000" stroke-width="1.4"/>
<text x="271.40" y="317.50" font-size="10.9" text-anchor="middle" fill="#000">0</text>
<line x1="357.20" y1="304.30" x2="357.20" y2="306.90" stroke="#000" stroke-width="1.4"/>
<text x="357.20" y="317.50" font-size="10.9" text-anchor="middle" fill="#000">200</text>
<line x1="443.00" y1="304.30" x2="443.00" y2="306.90" stroke="#000" stroke-width="1.4"/>
<text x="443.00" y="317.50" font-size="10.9" text-anchor="middle" fill="#000">400</text>
<line x1="314.30" y1="304.30" x2="314.30" y2="305.90" stroke="#000" stroke-width="1.4"/>
<line x1="400.10" y1="304.30" x2="400.10" y2="305.90" stroke="#000" stroke-width="1.4"/>
<text x="0" y="0" font-size="14.5" text-anchor="middle" fill="#000" transform="translate(248.20 236.50) rotate(-90)">Counts</text>
<text x="357.20" y="330.70" font-size="14.5" text-anchor="middle" fill="#000">Time (ns)</text>
<text x="0" y="0" font-size="21.8" text-anchor="start" fill="#000" transform="translate(233.36 189.98) scale(1.080 1)">e</text>
<polyline points="505.5,186.9 506.2,188.5 506.9,190.1 507.6,191.7 508.3,193.3 509.0,194.9 509.6,196.4 510.3,198.0 511.0,199.5 511.7,201.0 512.4,202.6 513.1,204.1 513.8,205.7 514.5,207.2 515.2,208.6 515.9,210.1 516.6,211.4 517.2,212.7 517.9,213.9 518.6,215.1 519.3,216.3 520.0,217.4 520.7,218.5 521.4,219.5 522.1,220.6 522.8,221.7 523.5,222.8 524.2,223.9 524.9,224.9 525.5,226.0 526.2,227.0 526.9,228.0 527.6,229.0 528.3,230.0 529.0,230.9 529.7,231.8 530.4,232.6 531.1,233.4 531.8,234.3 532.5,235.1 533.1,235.9 533.8,236.7 534.5,237.4 535.2,238.2 535.9,239.0 536.6,239.8 537.3,240.6 538.0,241.4 538.7,242.1 539.4,242.8 540.1,243.5 540.7,244.2 541.4,244.8 542.1,245.4 542.8,246.0 543.5,246.6 544.2,247.2 544.9,247.7 545.6,248.3 546.3,248.8" fill="none" stroke="#000000" stroke-width="3.4" stroke-linejoin="round"/>
<path d="M506.5 187.0h0.0M506.5 187.5h0.0M506.5 188.0h0.0M506.5 188.5h0.0M506.5 189.0h0.0M506.5 189.5h0.0M507.0 190.0h0.0M506.5 190.5h1.0M507.0 191.0h0.0M507.0 191.5h0.5M507.5 192.0h0.5M508.0 192.5h0.0M508.0 193.0h0.5M508.0 193.5h0.0M508.5 194.0h0.5M509.0 195.0h0.0M509.0 195.5h0.5M509.0 196.0h0.0M510.0 196.0h0.0M509.5 196.5h0.5M509.5 197.0h0.5M510.0 197.5h0.5M510.5 198.0h0.0M510.0 198.5h0.5M510.5 199.0h0.5M511.0 199.5h0.5M511.0 200.0h0.5M511.5 200.5h0.5M512.0 201.0h0.0M511.5 201.5h0.0M511.5 202.0h1.0M512.0 202.5h0.5M512.5 203.0h0.5M512.5 203.5h0.5M512.5 204.0h0.5M513.0 204.5h0.5M513.5 205.0h0.5M513.5 205.5h0.5M513.5 206.0h0.5M514.0 206.5h0.5M514.0 207.0h0.5M514.5 207.5h0.0M514.5 208.0h0.5M515.0 208.5h0.0M515.0 209.0h1.0M515.0 209.5h0.5M515.0 210.0h1.5M515.5 210.5h0.5M516.5 211.5h0.0M516.5 212.0h0.5M517.0 212.5h1.0M517.5 213.0h0.5M517.5 213.5h0.0M518.5 213.5h0.0M518.0 214.5h0.5M518.0 215.0h1.0M518.0 215.5h1.5M518.0 216.0h0.0M519.0 216.0h0.0M519.5 216.5h0.5M519.5 217.0h1.0M519.0 217.5h1.0M521.0 217.5h0.0M520.5 218.0h0.0M521.5 218.0h0.0M520.0 218.5h1.0M520.5 219.0h0.0M522.0 219.0h0.0M520.5 219.5h0.0M522.0 219.5h0.0M522.0 220.0h0.0M521.0 220.5h2.0M521.5 221.0h0.0M523.0 221.0h0.0M522.5 221.5h1.0M522.5 222.0h0.5M522.5 222.5h0.0M523.5 222.5h0.0M524.5 222.5h0.0M522.5 223.0h0.0M523.5 223.0h0.0M523.5 223.5h0.5M523.0 224.0h0.0M524.0 224.0h0.0M525.0 224.0h0.0M523.5 224.5h1.0M524.5 225.0h0.0M525.5 225.0h0.0M525.0 225.5h1.0M525.0 226.0h0.5M526.5 226.0h0.0M525.0 226.5h0.5M527.0 226.5h0.0M525.5 227.0h1.0M525.5 227.5h0.0M526.5 227.5h0.5M526.0 228.0h1.0M526.5 228.5h1.0M529.0 228.5h0.0M527.5 229.0h1.0M526.5 229.5h0.0M527.5 229.5h1.0M527.0 230.0h1.0M529.0 230.0h0.0M528.5 230.5h1.0M530.5 230.5h0.0M528.0 231.0h0.0M529.5 231.0h1.0M528.0 231.5h2.0M529.0 232.0h0.0M530.0 232.0h0.0M531.0 232.0h0.0M529.5 232.5h0.0M530.5 232.5h1.0M530.0 233.0h1.0M530.5 233.5h0.0M532.0 233.5h0.5M530.5 234.0h0.0M531.5 234.0h1.5M531.5 234.5h0.0M532.5 234.5h0.5M534.0 234.5h0.0M531.0 235.0h0.5M533.0 235.0h1.0M532.0 235.5h1.0M531.0 236.0h0.0M532.0 236.0h0.0M534.0 236.0h1.5M533.0 236.5h0.5M534.5 236.5h0.5M534.0 237.0h0.0M535.0 237.0h0.5M534.0 237.5h1.0M536.5 237.5h0.0M532.5 238.0h0.0M533.5 238.0h0.0M534.5 238.0h0.0M535.5 238.0h0.5M537.5 238.0h0.0M533.5 238.5h0.0M535.5 238.5h0.5M534.5 239.0h0.0M535.5 239.0h0.5M537.0 239.0h0.0M535.5 239.5h0.0M537.0 239.5h0.0M538.0 239.5h1.5M536.0 240.0h1.5M539.5 240.0h0.0M537.0 240.5h0.0M540.0 240.5h0.0M536.5 241.0h2.0M540.0 241.0h0.5M538.0 241.5h0.0M539.5 241.5h0.0M540.5 241.5h0.0M537.5 242.0h0.0M538.5 242.0h0.0M539.5 242.0h0.0M537.5 242.5h1.0M540.0 242.5h1.5M537.5 243.0h0.5M539.0 243.0h0.5M541.5 243.0h0.0M543.0 243.0h0.0M541.0 243.5h0.0M542.0 243.5h0.5M544.0 243.5h0.0M538.5 244.0h0.5M540.0 244.0h0.0M542.5 244.0h0.0M544.5 244.0h0.0M540.5 244.5h1.0M538.5 245.0h0.0M540.0 245.0h0.5M542.0 245.0h0.0M543.0 245.0h0.0M544.5 245.0h0.0M543.5 245.5h0.0M547.0 245.5h0.0M540.5 246.0h0.0M541.5 246.0h0.5M543.5 246.0h0.5M545.0 246.0h0.0M542.5 246.5h0.0M547.0 246.5h0.0M542.0 247.0h0.0M543.0 247.0h2.0M546.0 247.0h0.0M550.0 247.0h0.0M542.5 247.5h0.5M545.0 247.5h0.0M542.5 248.0h3.5M547.5 248.0h0.0M544.5 248.5h0.0M546.5 248.5h0.0M541.5 249.0h0.5M544.0 249.0h0.0M545.0 249.0h0.0M547.5 249.0h0.5M550.5 249.0h0.0M541.5 249.5h0.0M543.5 249.5h0.5M547.0 249.5h0.0M548.0 249.5h0.0M549.0 249.5h1.0M551.0 249.5h0.0M552.0 249.5h0.0M554.0 249.5h0.0M545.5 250.0h2.0M549.0 250.0h0.0M551.0 250.0h0.0M552.0 250.0h0.0M555.5 250.0h0.0M545.5 250.5h1.0M547.5 250.5h0.0M549.0 250.5h0.0M545.5 251.0h0.0M547.0 251.0h0.0M548.5 251.0h0.0M551.5 251.0h0.5M548.0 251.5h3.5M553.5 251.5h1.0M546.5 252.0h0.0M549.5 252.0h0.0M552.5 252.0h0.0M554.0 252.0h0.0M545.5 252.5h0.0M550.0 252.5h1.5M552.5 252.5h0.0M554.5 252.5h0.0M546.0 253.0h0.0M550.0 253.0h0.5M551.5 253.0h0.0M554.0 253.0h0.0M555.0 253.0h0.0M556.0 253.0h0.5M558.0 253.0h0.0M552.0 253.5h0.5M548.0 254.0h0.0M550.0 254.0h0.0M551.0 254.0h0.5M553.0 254.0h0.5M555.0 254.0h0.0M550.5 254.5h0.0M552.5 254.5h0.0M554.0 254.5h0.0M555.0 254.5h0.0M557.5 254.5h0.0M551.5 255.0h0.0M553.5 255.0h0.0M549.5 255.5h0.0M552.0 255.5h0.0M555.5 255.5h1.5M560.5 255.5h0.5M548.5 256.0h0.0M549.5 256.0h0.0M552.0 256.0h1.0M555.5 256.0h1.5M559.0 256.0h0.0M553.0 256.5h0.0M554.5 256.5h0.0M555.5 256.5h0.0M556.5 256.5h0.0M557.5 256.5h0.5M561.0 256.5h1.0M552.5 257.5h1.0M554.5 257.5h1.5M557.0 257.5h0.0M559.0 257.5h0.0M560.0 257.5h0.5M564.0 257.5h0.0M548.5 258.0h0.0M551.5 258.0h0.0M555.0 258.0h0.0M557.0 258.0h0.0M560.0 258.0h0.0M562.5 258.0h0.0M565.5 258.0h0.0M553.0 258.5h0.0M554.0 258.5h0.0M557.5 258.5h0.0M559.0 258.5h0.5M560.5 258.5h0.0M562.5 258.5h0.0M564.5 258.5h0.0M567.0 258.5h0.0M568.0 258.5h0.0M554.0 259.5h0.0M555.5 259.5h0.0M556.5 259.5h0.0M557.5 259.5h1.0M561.0 259.5h0.0M562.0 259.5h0.0M563.5 259.5h1.0M566.0 259.5h0.0M567.5 259.5h0.0M556.0 260.0h0.0M557.0 260.0h0.0M558.0 260.0h0.5M560.5 260.0h0.0M561.5 260.0h2.0M564.5 260.0h0.0M567.0 260.0h0.0M569.5 260.0h0.0M572.0 260.0h0.0M558.5 261.0h0.0M560.0 261.0h0.0M561.0 261.0h1.0M563.0 261.0h1.0M565.0 261.0h1.0M570.0 261.0h0.0M571.0 261.0h0.0M574.5 261.0h0.0M558.0 262.0h3.5M563.0 262.0h0.5M567.5 262.0h0.0M569.0 262.0h0.0M575.5 262.0h0.0M556.0 263.0h0.0M557.0 263.0h0.0M559.0 263.0h0.5M562.5 263.0h0.5M564.0 263.0h0.0M565.5 263.0h1.0M567.5 263.0h0.0M568.5 263.0h0.0M569.5 263.0h0.0M574.0 263.0h0.5M557.5 264.0h0.0M560.5 264.0h0.0M561.5 264.0h0.5M564.0 264.0h0.0M565.5 264.0h0.0M567.0 264.0h0.5M573.0 264.0h0.0M574.0 264.0h0.0M575.5 264.0h0.0M579.5 264.0h0.0M581.0 264.0h0.0M590.0 264.0h0.0M660.5 264.0h0.0M671.5 264.0h0.0M556.5 265.0h0.0M559.5 265.0h0.5M563.0 265.0h0.5M565.0 265.0h0.5M566.5 265.0h0.5M568.0 265.0h0.5M570.0 265.0h0.0M572.5 265.0h1.0M576.5 265.0h0.0M584.5 265.0h0.0M589.5 265.0h0.0M614.5 265.0h0.0M559.0 266.0h0.0M564.5 266.0h1.0M567.0 266.0h2.5M570.5 266.0h0.0M572.0 266.0h2.5M575.5 266.0h0.0M579.5 266.0h0.0M584.0 266.0h0.0M585.0 266.0h0.5M589.0 266.0h0.0M591.0 266.0h0.5M595.5 266.0h0.0M606.5 266.0h0.0M667.0 266.0h0.0M562.5 267.5h0.0M563.5 267.5h1.5M566.0 267.5h1.0M568.5 267.5h0.0M569.5 267.5h2.5M573.5 267.5h0.0M575.0 267.5h0.5M576.5 267.5h1.5M579.5 267.5h0.0M582.0 267.5h0.5M583.5 267.5h0.0M584.5 267.5h0.0M587.5 267.5h0.0M592.0 267.5h0.0M596.0 267.5h0.0M610.5 267.5h0.0M622.5 267.5h0.0M628.0 267.5h0.0M645.5 267.5h0.0M652.5 267.5h0.0M664.5 267.5h0.0M676.0 267.5h0.0M566.5 269.0h0.0M567.5 269.0h0.5M569.5 269.0h2.0M572.5 269.0h0.0M573.5 269.0h0.0M574.5 269.0h0.0M576.0 269.0h3.5M581.0 269.0h0.5M582.5 269.0h0.5M586.5 269.0h0.5M588.5 269.0h0.0M591.5 269.0h0.0M595.0 269.0h0.0M601.0 269.0h0.0M603.5 269.0h0.5M614.0 269.0h0.0M621.5 269.0h0.0M623.5 269.0h0.0M624.5 269.0h0.0M629.5 269.0h0.0M633.5 269.0h0.0M641.5 269.0h0.0M643.5 269.0h0.0M651.5 269.0h0.0M654.0 269.0h0.0M658.0 269.0h0.0M661.0 269.0h0.0M674.5 269.0h0.0M561.5 270.5h0.0M562.5 270.5h0.0M568.0 270.5h1.0M570.0 270.5h0.0M571.0 270.5h0.5M574.5 270.5h0.5M576.0 270.5h1.0M579.0 270.5h0.0M580.0 270.5h0.0M581.5 270.5h0.5M583.0 270.5h0.5M585.5 270.5h0.5M587.5 270.5h0.0M589.0 270.5h0.5M591.0 270.5h0.0M592.0 270.5h0.5M595.5 270.5h0.5M599.0 270.5h0.5M601.0 270.5h0.0M602.0 270.5h0.0M604.5 270.5h0.0M606.5 270.5h0.0M608.0 270.5h0.0M609.0 270.5h0.0M614.0 270.5h0.5M616.0 270.5h0.0M617.0 270.5h0.0M618.0 270.5h0.5M619.5 270.5h0.0M622.0 270.5h0.0M623.0 270.5h0.0M625.0 270.5h0.0M634.0 270.5h0.0M639.5 270.5h0.0M643.0 270.5h0.0M650.5 270.5h1.0M653.0 270.5h0.0M654.5 270.5h0.0M656.0 270.5h0.0M657.5 270.5h0.0M666.0 270.5h0.0M671.5 270.5h0.0M674.0 270.5h0.0M675.5 270.5h0.0M565.0 272.5h0.0M570.0 272.5h0.0M571.0 272.5h0.5M572.5 272.5h0.0M575.0 272.5h1.0M577.0 272.5h0.0M578.0 272.5h1.0M580.0 272.5h1.0M583.5 272.5h1.5M586.0 272.5h2.0M589.0 272.5h0.0M590.5 272.5h0.0M593.5 272.5h0.5M595.0 272.5h0.0M597.5 272.5h0.0M599.0 272.5h0.5M600.5 272.5h0.5M602.5 272.5h0.0M603.5 272.5h0.0M606.0 272.5h0.0M607.0 272.5h0.0M609.5 272.5h0.0M612.0 272.5h0.0M614.5 272.5h0.0M616.5 272.5h0.5M619.0 272.5h0.5M620.5 272.5h0.5M622.5 272.5h0.0M625.0 272.5h0.0M626.0 272.5h1.0M628.0 272.5h0.5M629.5 272.5h0.0M631.0 272.5h0.0M632.0 272.5h0.5M633.5 272.5h0.0M634.5 272.5h0.0M636.5 272.5h0.5M640.5 272.5h0.5M642.0 272.5h0.5M644.5 272.5h0.0M645.5 272.5h0.0M646.5 272.5h0.5M648.5 272.5h0.0M653.5 272.5h0.0M657.0 272.5h0.0M659.5 272.5h0.5M661.0 272.5h1.0M663.0 272.5h0.5M665.5 272.5h1.5M668.5 272.5h0.0M669.5 272.5h0.5M671.5 272.5h0.0M672.5 272.5h0.0M676.0 272.5h0.0M569.0 275.0h0.5M571.0 275.0h0.0M572.5 275.0h0.5M575.0 275.0h0.0M576.0 275.0h0.0M577.5 275.0h0.0M578.5 275.0h0.0M580.0 275.0h3.5M584.5 275.0h0.0M585.5 275.0h1.5M588.0 275.0h0.5M590.0 275.0h0.5M591.5 275.0h0.0M593.0 275.0h1.5M596.0 275.0h0.0M597.0 275.0h2.0M600.5 275.0h0.0M602.0 275.0h0.5M603.5 275.0h1.0M605.5 275.0h0.5M607.0 275.0h1.0M609.0 275.0h0.0M610.0 275.0h0.5M611.5 275.0h0.5M613.0 275.0h0.5M615.0 275.0h1.0M617.0 275.0h0.0M618.0 275.0h0.0M619.0 275.0h0.5M621.0 275.0h2.0M624.0 275.0h0.5M625.5 275.0h0.0M627.5 275.0h0.0M629.0 275.0h0.5M630.5 275.0h0.5M632.5 275.0h0.0M635.0 275.0h0.5M636.5 275.0h0.5M638.0 275.0h0.5M639.5 275.0h0.0M641.5 275.0h0.0M644.0 275.0h0.0M645.0 275.0h0.5M646.5 275.0h0.0M649.0 275.0h0.5M650.5 275.0h1.0M653.0 275.0h1.5M655.5 275.0h0.0M656.5 275.0h0.0M658.0 275.0h1.0M660.0 275.0h1.5M662.5 275.0h0.0M663.5 275.0h2.5M667.0 275.0h0.5M669.0 275.0h0.0M670.0 275.0h0.0M671.5 275.0h0.5M673.0 275.0h0.0M674.5 275.0h0.0M676.0 275.0h0.0M570.5 278.0h0.0M572.5 278.0h0.0M574.0 278.0h0.0M577.5 278.0h0.0M579.0 278.0h0.5M581.5 278.0h2.5M585.0 278.0h1.0M587.5 278.0h5.5M594.0 278.0h3.0M598.0 278.0h2.5M602.5 278.0h0.5M604.0 278.0h0.5M605.5 278.0h2.0M609.0 278.0h1.0M611.0 278.0h5.0M617.0 278.0h2.0M620.0 278.0h1.0M622.0 278.0h0.0M624.0 278.0h4.5M629.5 278.0h0.0M630.5 278.0h1.5M633.5 278.0h1.0M635.5 278.0h1.0M637.5 278.0h0.5M639.0 278.0h0.5M640.5 278.0h2.0M643.5 278.0h1.5M646.0 278.0h3.0M650.0 278.0h0.5M651.5 278.0h2.0M654.5 278.0h4.0M659.5 278.0h1.5M662.0 278.0h0.5M664.0 278.0h0.0M665.0 278.0h0.5M666.5 278.0h4.5M672.0 278.0h4.0M571.5 281.5h0.5M574.0 281.5h0.5M577.5 281.5h0.0M578.5 281.5h1.0M580.5 281.5h0.0M581.5 281.5h0.0M584.0 281.5h2.5M588.0 281.5h0.0M589.0 281.5h0.0M590.5 281.5h1.0M592.5 281.5h3.0M596.5 281.5h9.5M607.0 281.5h1.5M609.5 281.5h0.0M610.5 281.5h2.0M613.5 281.5h0.0M615.0 281.5h3.5M619.5 281.5h1.5M622.0 281.5h0.0M623.0 281.5h1.0M625.0 281.5h1.0M627.0 281.5h0.0M628.0 281.5h1.0M630.0 281.5h0.5M631.5 281.5h10.5M643.0 281.5h1.0M645.5 281.5h0.0M646.5 281.5h2.0M649.5 281.5h0.0M650.5 281.5h0.0M651.5 281.5h0.0M652.5 281.5h1.5M655.0 281.5h1.5M657.5 281.5h0.0M659.0 281.5h0.5M661.5 281.5h1.5M664.0 281.5h2.0M667.0 281.5h1.0M669.5 281.5h0.0M670.5 281.5h0.5M672.0 281.5h1.5M674.5 281.5h1.5M573.0 286.5h0.0M575.0 286.5h0.0M577.0 286.5h0.0M581.5 286.5h0.0M582.5 286.5h0.0M584.0 286.5h0.0M585.0 286.5h0.5M588.0 286.5h1.0M590.0 286.5h0.0M591.0 286.5h0.0M592.0 286.5h1.0M594.0 286.5h5.5M601.0 286.5h0.0M602.0 286.5h0.0M603.0 286.5h0.5M604.5 286.5h2.5M608.0 286.5h3.0M612.5 286.5h4.0M617.5 286.5h0.0M619.0 286.5h0.0M620.0 286.5h2.0M623.0 286.5h1.0M625.0 286.5h3.5M630.0 286.5h0.0M631.5 286.5h0.5M633.0 286.5h3.0M637.0 286.5h0.0M638.0 286.5h1.0M640.5 286.5h1.5M643.5 286.5h0.5M645.0 286.5h0.0M646.0 286.5h0.0M647.0 286.5h1.0M649.0 286.5h1.0M651.0 286.5h1.0M653.0 286.5h5.0M659.0 286.5h1.5M661.5 286.5h1.5M664.0 286.5h0.0M666.0 286.5h3.5M670.5 286.5h5.5M586.0 295.5h0.0M587.5 295.5h0.0M592.0 295.5h0.0M594.0 295.5h0.5M598.0 295.5h0.0M600.5 295.5h1.0M607.5 295.5h1.0M611.5 295.5h1.0M613.5 295.5h0.0M614.5 295.5h0.0M615.5 295.5h0.0M616.5 295.5h0.0M617.5 295.5h1.0M620.0 295.5h0.0M621.5 295.5h0.0M624.0 295.5h0.5M626.5 295.5h0.0M628.5 295.5h3.5M633.0 295.5h0.0M634.5 295.5h0.5M636.0 295.5h0.0M637.0 295.5h0.5M639.0 295.5h0.0M640.0 295.5h0.0M641.0 295.5h0.0M642.5 295.5h0.0M644.0 295.5h0.5M645.5 295.5h0.0M647.0 295.5h2.0M650.0 295.5h0.0M651.0 295.5h1.5M654.0 295.5h2.5M658.5 295.5h1.0M662.5 295.5h1.0M665.5 295.5h1.0M667.5 295.5h0.0M669.0 295.5h0.0M670.0 295.5h1.0M672.5 295.5h0.0M673.5 295.5h0.5M676.0 295.5h0.0" stroke="#000000" stroke-width="2.5" stroke-linecap="square" fill="none"/>
<polyline points="505.5,186.9 506.2,188.2 506.9,189.4 507.6,190.8 508.3,192.2 509.0,193.7 509.6,195.1 510.3,196.6 511.0,198.0 511.7,199.4 512.4,200.7 513.1,202.1 513.8,203.4 514.5,204.8 515.2,206.0 515.9,207.3 516.6,208.5 517.2,209.7 517.9,210.8 518.6,212.0 519.3,213.1 520.0,214.1 520.7,215.2 521.4,216.2 522.1,217.3 522.8,218.3 523.5,219.2 524.2,220.2 524.9,221.2 525.5,222.1 526.2,223.1 526.9,224.0 527.6,224.9 528.3,225.7 529.0,226.6 529.7,227.4 530.4,228.2 531.1,229.0 531.8,229.8 532.5,230.6 533.1,231.3 533.8,232.1 534.5,232.7 535.2,233.4 535.9,234.0 536.6,234.6 537.3,235.2 538.0,235.8 538.7,236.4 539.4,236.9 540.1,237.4 540.7,237.9 541.4,238.4 542.1,238.9 542.8,239.3 543.5,239.7 544.2,240.2 544.9,240.6 545.6,241.0 546.3,241.4" fill="none" stroke="#0000ff" stroke-width="3.4" stroke-linejoin="round"/>
<path d="M506.5 186.5h0.0M506.5 187.0h0.0M506.5 187.5h0.0M506.5 188.0h0.0M506.5 188.5h0.0M506.5 189.0h0.5M506.5 189.5h0.5M506.5 190.0h1.0M507.0 190.5h1.0M507.5 191.0h0.0M508.0 191.5h0.0M508.0 192.0h0.5M508.0 192.5h0.5M508.5 193.0h0.5M508.5 193.5h0.5M509.0 194.0h0.5M509.5 194.5h0.0M509.5 195.0h0.5M509.0 195.5h0.0M510.0 195.5h0.0M510.0 196.0h0.5M510.0 196.5h0.5M510.5 197.0h0.0M510.5 197.5h0.5M511.0 198.0h0.5M511.5 198.5h0.0M511.5 199.0h0.5M511.5 199.5h0.5M512.0 200.0h0.0M512.0 200.5h1.0M512.5 201.0h0.0M513.0 201.5h0.5M513.0 202.0h0.5M512.5 202.5h1.5M513.0 203.0h1.0M513.5 203.5h0.5M514.0 204.0h0.5M514.5 204.5h0.5M514.0 205.0h0.5M514.0 205.5h1.0M515.0 206.0h0.5M515.5 206.5h0.5M515.5 207.0h0.5M516.0 207.5h0.0M516.0 208.0h0.5M516.5 208.5h0.5M516.5 209.0h1.0M516.5 209.5h1.5M517.5 210.0h0.5M518.0 210.5h0.0M518.0 211.0h0.5M518.0 211.5h0.5M519.5 211.5h0.0M518.0 212.0h0.0M518.5 212.5h1.0M518.5 213.0h1.0M519.0 213.5h0.0M519.5 214.0h0.5M521.0 214.0h0.0M519.5 214.5h1.0M520.0 215.0h0.5M521.5 215.0h0.0M520.0 215.5h1.5M521.0 216.0h1.0M521.0 216.5h0.5M522.0 217.0h0.0M522.0 217.5h1.5M521.5 218.0h1.5M522.5 218.5h0.0M523.5 218.5h0.0M522.5 219.0h0.5M524.0 219.0h0.0M523.0 219.5h0.5M524.5 219.5h0.0M523.5 220.0h1.0M524.0 220.5h1.5M524.0 221.0h1.5M526.5 221.0h0.0M524.0 221.5h0.0M525.0 221.5h0.5M524.5 222.0h0.0M525.0 222.5h2.0M525.5 223.0h1.5M525.5 223.5h0.0M526.5 223.5h0.0M527.5 223.5h0.0M525.5 224.0h2.0M527.0 224.5h0.5M528.5 224.5h0.0M527.0 225.0h0.0M528.0 225.0h0.0M529.0 225.0h0.0M527.5 225.5h1.0M527.5 226.0h1.5M528.0 226.5h1.0M528.0 227.0h0.0M529.0 227.0h1.0M531.0 227.0h0.0M529.5 227.5h1.5M529.0 228.0h1.5M529.5 228.5h2.5M533.0 228.5h0.0M530.5 229.0h0.0M531.5 229.0h0.0M533.0 229.0h0.0M530.0 229.5h0.5M532.0 229.5h0.0M531.0 230.0h1.0M534.0 230.0h0.0M532.5 230.5h1.0M532.0 231.0h0.5M531.5 231.5h0.0M532.5 231.5h1.5M535.5 231.5h0.0M533.0 232.0h1.5M533.0 232.5h0.0M534.0 232.5h1.0M534.0 233.0h2.0M537.5 233.0h0.0M534.5 233.5h1.0M536.5 233.5h0.0M533.5 234.0h0.0M536.5 234.0h0.0M535.5 234.5h2.0M538.5 234.5h0.0M536.0 235.0h0.0M537.0 235.0h0.5M539.0 235.0h1.0M535.5 235.5h0.0M537.0 235.5h1.0M539.0 235.5h0.0M541.0 235.5h0.0M536.5 236.0h0.0M537.5 236.0h0.0M538.5 236.0h0.5M540.5 236.0h0.0M535.5 236.5h0.0M538.5 236.5h0.0M539.5 236.5h0.5M542.0 236.5h0.0M539.0 237.0h1.5M543.0 237.0h0.0M538.0 237.5h1.0M540.0 237.5h1.5M544.5 237.5h0.0M538.5 238.0h0.0M541.0 238.0h1.0M543.5 238.0h0.0M546.5 238.0h0.0M540.0 238.5h0.5M541.5 238.5h1.5M544.0 238.5h0.0M545.0 238.5h0.0M546.0 238.5h0.0M539.5 239.0h0.5M542.0 239.0h0.5M543.5 239.0h0.0M544.5 239.0h1.0M539.5 239.5h0.0M541.5 239.5h0.0M542.5 239.5h0.0M544.0 239.5h1.5M541.0 240.0h0.0M542.5 240.0h0.0M544.0 240.0h0.0M546.0 240.0h1.0M551.5 240.0h0.0M539.0 240.5h0.0M542.0 240.5h0.0M543.0 240.5h1.0M545.5 240.5h0.0M546.5 240.5h1.0M549.0 240.5h0.0M541.0 241.0h0.5M542.5 241.0h0.5M544.0 241.0h0.0M545.0 241.0h0.0M546.5 241.0h0.0M547.5 241.0h1.0M544.5 241.5h0.0M545.5 241.5h2.5M550.0 241.5h0.5M543.0 242.0h0.0M545.0 242.0h0.5M547.0 242.0h1.0M550.0 242.0h0.0M551.5 242.0h0.0M545.0 242.5h0.0M546.5 242.5h1.5M549.0 242.5h1.5M552.0 242.5h0.0M553.5 242.5h0.5M543.5 243.0h0.0M548.5 243.0h1.0M550.5 243.0h0.0M547.5 243.5h2.0M550.5 243.5h0.5M552.0 243.5h0.0M546.5 244.0h0.0M547.5 244.0h0.0M548.5 244.0h0.0M549.5 244.0h0.5M551.5 244.0h0.0M553.0 244.0h0.0M554.0 244.0h0.0M546.0 244.5h0.0M549.0 244.5h0.0M552.5 244.5h0.0M560.0 244.5h0.0M542.5 245.0h0.0M549.0 245.0h0.0M550.0 245.0h0.0M551.0 245.0h2.0M554.5 245.0h0.5M556.5 245.0h0.0M551.0 245.5h3.0M556.5 245.5h0.0M557.5 245.5h0.0M561.0 245.5h0.0M549.5 246.0h0.0M551.0 246.0h2.5M554.5 246.0h2.0M547.0 246.5h0.0M550.0 246.5h0.0M551.5 246.5h0.0M554.5 246.5h0.0M555.5 246.5h0.0M557.0 246.5h1.0M559.0 246.5h0.0M561.0 246.5h0.0M549.5 247.0h0.5M553.5 247.0h0.5M555.0 247.0h1.5M557.5 247.0h0.0M558.5 247.0h0.0M559.5 247.0h0.5M562.0 247.0h0.0M563.0 247.0h0.5M548.5 247.5h0.0M558.0 247.5h0.0M554.0 248.0h0.5M555.5 248.0h0.0M558.5 248.0h1.0M561.5 248.0h0.0M563.0 248.0h0.5M552.0 248.5h0.0M553.5 248.5h0.0M556.0 248.5h0.0M557.0 248.5h0.0M558.0 248.5h0.0M559.0 248.5h0.0M560.5 248.5h0.0M568.0 248.5h0.0M550.5 249.0h0.0M557.0 249.0h0.0M558.0 249.0h2.5M561.5 249.0h0.5M566.5 249.0h0.0M556.5 249.5h0.0M558.5 249.5h0.0M560.0 249.5h0.0M561.5 249.5h0.0M567.0 249.5h0.0M556.0 250.0h0.0M557.0 250.0h0.5M558.5 250.0h0.5M562.5 250.0h0.5M566.5 250.0h0.0M567.5 250.0h0.0M557.0 250.5h0.0M561.0 250.5h0.5M562.5 250.5h1.5M565.5 250.5h0.0M568.0 250.5h0.5M557.0 251.0h0.5M559.5 251.0h0.0M563.0 251.0h0.5M564.5 251.0h0.0M573.0 251.0h0.0M557.5 251.5h0.5M560.0 251.5h0.0M561.0 251.5h0.0M562.0 251.5h0.0M563.5 251.5h0.0M564.5 251.5h1.0M566.5 251.5h1.0M569.5 251.5h1.0M571.5 251.5h0.0M574.5 251.5h0.0M576.5 251.5h0.0M555.0 252.0h0.5M563.5 252.0h1.0M566.0 252.0h0.0M567.0 252.0h0.0M568.0 252.0h0.0M569.5 252.0h1.0M561.5 252.5h0.5M564.5 252.5h0.0M565.5 252.5h0.5M568.5 252.5h0.0M574.0 252.5h0.0M561.5 253.0h0.0M562.5 253.0h0.0M566.0 253.0h0.0M567.0 253.0h0.0M569.0 253.0h0.0M572.5 253.0h0.0M563.0 253.5h0.0M564.5 253.5h1.0M568.5 253.5h0.5M571.0 253.5h0.0M576.0 253.5h0.0M562.0 254.0h0.0M566.0 254.0h0.5M568.5 254.0h0.0M569.5 254.0h0.5M572.0 254.0h0.5M573.5 254.0h0.0M574.5 254.0h0.0M575.5 254.0h0.0M560.5 254.5h0.5M562.0 254.5h0.0M565.0 254.5h1.0M567.0 254.5h0.5M569.5 254.5h0.0M570.5 254.5h0.0M571.5 254.5h0.0M575.0 254.5h0.0M577.5 254.5h0.0M578.5 254.5h0.0M564.0 255.0h0.0M565.0 255.0h0.0M567.5 255.0h0.5M569.0 255.0h0.0M570.0 255.0h0.0M571.0 255.0h0.0M572.0 255.0h0.0M573.5 255.0h0.0M575.0 255.0h0.5M576.5 255.0h0.5M578.0 255.0h0.0M579.5 255.0h0.0M582.5 255.0h0.0M567.5 255.5h0.5M570.5 255.5h0.0M572.0 255.5h3.0M562.5 256.0h0.0M564.0 256.0h0.0M565.0 256.0h0.0M567.5 256.0h0.0M569.0 256.0h0.0M570.0 256.0h0.0M573.5 256.0h0.0M575.5 256.0h0.5M577.0 256.0h0.0M578.5 256.0h0.0M580.5 256.0h0.0M582.5 256.0h0.0M567.0 256.5h0.0M568.0 256.5h0.5M571.0 256.5h0.0M572.0 256.5h1.0M574.0 256.5h0.0M575.5 256.5h1.0M580.0 256.5h0.0M581.0 256.5h0.0M583.5 256.5h0.0M586.0 256.5h0.0M564.0 257.5h0.0M569.5 257.5h0.0M571.5 257.5h0.0M574.0 257.5h0.0M576.5 257.5h1.0M579.0 257.5h0.5M580.5 257.5h0.0M581.5 257.5h1.5M589.0 257.5h0.0M561.0 258.0h0.0M568.5 258.0h0.0M571.0 258.0h0.0M572.0 258.0h0.5M575.0 258.0h0.0M578.0 258.0h0.0M581.0 258.0h0.5M583.0 258.0h0.0M585.0 258.0h0.0M587.0 258.0h0.0M591.0 258.0h0.0M592.0 258.0h0.0M573.5 258.5h0.0M575.0 258.5h0.5M576.5 258.5h0.0M577.5 258.5h0.5M579.0 258.5h1.5M583.5 258.5h0.0M584.5 258.5h0.0M586.0 258.5h0.5M590.5 258.5h0.0M595.5 258.5h0.0M599.0 258.5h0.0M570.5 259.5h0.0M574.0 259.5h1.0M576.0 259.5h0.0M578.0 259.5h0.5M581.0 259.5h0.5M584.0 259.5h0.0M585.0 259.5h0.0M586.0 259.5h0.0M589.0 259.5h0.0M592.0 259.5h0.0M573.0 260.0h0.0M577.0 260.0h0.0M578.0 260.0h0.5M579.5 260.0h0.5M581.0 260.0h0.0M583.0 260.0h0.5M585.0 260.0h0.0M587.5 260.0h0.0M603.5 260.0h0.0M576.0 261.0h0.0M577.0 261.0h0.0M580.0 261.0h0.5M582.0 261.0h0.0M584.0 261.0h0.0M585.5 261.0h0.0M586.5 261.0h1.0M588.5 261.0h0.0M591.0 261.0h0.0M593.0 261.0h0.0M594.5 261.0h0.0M619.0 261.0h0.0M573.0 262.0h0.0M574.0 262.0h0.0M576.0 262.0h0.0M577.5 262.0h0.0M578.5 262.0h0.0M580.5 262.0h1.0M582.5 262.0h0.5M584.5 262.0h0.5M586.5 262.0h0.0M587.5 262.0h1.0M589.5 262.0h2.5M598.0 262.0h0.0M611.0 262.0h0.0M576.0 263.0h0.5M577.5 263.0h0.5M579.0 263.0h0.0M582.5 263.0h0.0M584.5 263.0h0.5M586.0 263.0h0.0M588.0 263.0h3.0M592.0 263.0h1.0M594.0 263.0h0.0M595.5 263.0h0.5M575.0 264.0h0.0M579.5 264.0h0.0M582.0 264.0h0.0M583.5 264.0h1.0M585.5 264.0h0.0M586.5 264.0h0.5M589.0 264.0h0.5M590.5 264.0h0.5M592.5 264.0h0.0M593.5 264.0h0.5M596.0 264.0h0.5M597.5 264.0h0.0M600.5 264.0h0.0M601.5 264.0h0.0M605.0 264.0h0.0M606.0 264.0h0.0M610.5 264.0h0.0M577.5 265.0h0.0M579.0 265.0h0.0M580.0 265.0h0.0M581.0 265.0h0.5M582.5 265.0h0.0M583.5 265.0h0.0M585.0 265.0h2.0M588.0 265.0h0.0M589.0 265.0h1.0M592.0 265.0h0.0M593.5 265.0h0.0M595.0 265.0h2.0M598.5 265.0h0.0M599.5 265.0h1.0M603.0 265.0h0.0M604.5 265.0h0.0M605.5 265.0h0.0M606.5 265.0h0.5M608.5 265.0h0.0M610.5 265.0h0.0M612.0 265.0h0.0M613.0 265.0h0.0M627.0 265.0h0.0M578.5 266.0h0.0M579.5 266.0h0.0M583.0 266.0h0.0M584.5 266.0h0.5M586.5 266.0h1.0M589.5 266.0h0.0M591.0 266.0h0.5M592.5 266.0h0.0M593.5 266.0h1.0M595.5 266.0h0.0M596.5 266.0h1.5M599.0 266.0h0.5M600.5 266.0h0.5M602.0 266.0h1.0M604.5 266.0h0.0M606.0 266.0h0.0M607.5 266.0h0.0M608.5 266.0h1.0M611.5 266.0h0.5M617.5 266.0h1.5M622.0 266.0h0.0M626.5 266.0h0.0M632.5 266.0h0.0M636.5 266.0h0.0M573.5 267.5h0.0M585.5 267.5h0.0M587.0 267.5h0.0M588.5 267.5h0.0M591.5 267.5h0.0M592.5 267.5h1.5M595.0 267.5h0.0M596.0 267.5h1.5M598.5 267.5h0.0M600.0 267.5h0.0M601.0 267.5h1.0M603.5 267.5h1.0M606.0 267.5h0.0M607.0 267.5h0.0M609.0 267.5h0.0M610.0 267.5h0.5M612.5 267.5h0.0M613.5 267.5h0.0M615.0 267.5h0.0M616.5 267.5h0.5M620.0 267.5h0.0M621.5 267.5h0.0M635.0 267.5h0.0M638.0 267.5h0.0M642.0 267.5h0.0M647.5 267.5h0.0M649.5 267.5h0.0M655.0 267.5h0.5M579.0 269.0h0.0M582.0 269.0h0.0M583.5 269.0h0.0M585.5 269.0h0.0M590.0 269.0h1.5M593.0 269.0h3.0M597.0 269.0h0.5M599.0 269.0h0.0M600.5 269.0h4.5M606.5 269.0h0.0M607.5 269.0h1.0M610.0 269.0h0.5M612.5 269.0h0.0M615.0 269.0h1.5M618.0 269.0h0.5M624.0 269.0h0.0M628.0 269.0h0.0M630.0 269.0h0.0M631.5 269.0h0.0M632.5 269.0h0.0M634.5 269.0h0.0M636.0 269.0h0.0M638.5 269.0h0.0M640.5 269.0h0.0M646.0 269.0h0.0M649.5 269.0h0.0M655.0 269.0h0.0M658.0 269.0h0.0M663.5 269.0h0.0M664.5 269.0h0.0M672.5 269.0h0.0M674.5 269.0h0.0M586.0 270.5h0.0M590.0 270.5h0.0M592.5 270.5h1.0M594.5 270.5h0.5M597.0 270.5h0.5M598.5 270.5h3.0M602.5 270.5h1.0M605.5 270.5h1.0M607.5 270.5h0.0M609.0 270.5h0.5M611.5 270.5h1.0M614.5 270.5h0.5M616.5 270.5h0.5M618.0 270.5h3.0M622.0 270.5h0.5M623.5 270.5h0.5M625.0 270.5h0.0M627.5 270.5h0.5M630.5 270.5h0.5M632.0 270.5h0.0M633.0 270.5h0.5M635.0 270.5h0.0M636.5 270.5h0.0M637.5 270.5h0.0M641.5 270.5h0.0M642.5 270.5h0.5M644.5 270.5h0.0M645.5 270.5h0.0M647.5 270.5h1.0M649.5 270.5h1.0M652.0 270.5h1.0M655.0 270.5h0.0M657.5 270.5h0.0M660.0 270.5h0.0M663.0 270.5h0.0M664.0 270.5h0.0M667.0 270.5h0.0M673.0 270.5h0.0M675.0 270.5h0.0M676.0 270.5h0.0M588.0 272.5h0.5M591.5 272.5h0.0M595.5 272.5h0.0M598.0 272.5h0.5M599.5 272.5h0.0M600.5 272.5h0.0M601.5 272.5h0.5M603.0 272.5h0.0M604.0 272.5h1.5M606.5 272.5h1.5M609.5 272.5h0.0M610.5 272.5h1.0M612.5 272.5h3.5M617.0 272.5h0.0M618.0 272.5h0.0M619.5 272.5h0.0M621.5 272.5h1.5M624.0 272.5h0.5M625.5 272.5h1.0M628.0 272.5h2.0M631.5 272.5h0.5M633.0 272.5h0.5M634.5 272.5h0.5M637.0 272.5h0.5M638.5 272.5h1.0M640.5 272.5h0.0M642.0 272.5h0.5M644.0 272.5h0.0M645.5 272.5h0.5M648.0 272.5h1.0M651.5 272.5h0.5M653.5 272.5h0.0M655.0 272.5h0.0M656.5 272.5h0.5M658.5 272.5h0.0M661.5 272.5h0.0M664.0 272.5h0.5M665.5 272.5h0.5M667.0 272.5h0.0M668.5 272.5h0.5M670.0 272.5h0.0M671.5 272.5h0.0M673.0 272.5h0.0M675.0 272.5h0.0M587.5 275.0h0.0M594.5 275.0h0.0M596.0 275.0h0.0M598.5 275.0h0.0M599.5 275.0h0.5M603.5 275.0h0.0M605.0 275.0h1.0M607.0 275.0h0.5M609.0 275.0h3.0M613.0 275.0h0.5M615.5 275.0h0.5M617.0 275.0h2.0M620.5 275.0h0.5M622.5 275.0h0.5M624.5 275.0h1.5M628.0 275.0h0.0M629.0 275.0h0.0M630.0 275.0h1.0M632.0 275.0h1.0M634.0 275.0h0.0M635.0 275.0h3.5M640.0 275.0h0.5M641.5 275.0h0.0M642.5 275.0h0.0M643.5 275.0h0.0M644.5 275.0h0.0M645.5 275.0h0.0M646.5 275.0h1.0M648.5 275.0h0.0M649.5 275.0h1.5M653.0 275.0h3.0M657.5 275.0h3.0M662.0 275.0h0.5M663.5 275.0h0.0M664.5 275.0h0.0M665.5 275.0h1.0M667.5 275.0h0.0M668.5 275.0h0.0M670.0 275.0h0.5M672.0 275.0h0.0M674.0 275.0h1.0M676.0 275.0h0.0M592.0 278.0h0.0M599.0 278.0h0.0M601.0 278.0h1.5M604.5 278.0h0.0M605.5 278.0h0.5M607.5 278.0h2.5M612.5 278.0h0.5M614.0 278.0h0.5M615.5 278.0h0.0M616.5 278.0h0.0M617.5 278.0h3.0M622.0 278.0h0.0M623.0 278.0h2.0M626.0 278.0h1.5M628.5 278.0h0.0M629.5 278.0h0.0M630.5 278.0h0.0M632.5 278.0h0.0M634.0 278.0h7.0M642.0 278.0h3.0M646.0 278.0h0.0M647.5 278.0h0.5M649.0 278.0h0.0M650.0 278.0h3.0M654.0 278.0h0.5M655.5 278.0h0.0M656.5 278.0h1.5M659.0 278.0h0.0M660.0 278.0h1.0M662.0 278.0h2.0M665.0 278.0h0.0M666.5 278.0h0.0M668.0 278.0h1.5M670.5 278.0h0.5M672.0 278.0h0.5M673.5 278.0h1.0M675.5 278.0h0.5M605.0 281.5h0.0M606.5 281.5h0.0M608.5 281.5h0.0M609.5 281.5h0.0M611.0 281.5h0.0M613.0 281.5h0.5M615.0 281.5h0.0M616.0 281.5h1.0M618.5 281.5h0.5M620.0 281.5h0.0M621.5 281.5h2.0M624.5 281.5h6.0M631.5 281.5h0.0M632.5 281.5h2.0M635.5 281.5h0.5M637.0 281.5h1.0M639.0 281.5h6.0M646.0 281.5h1.5M648.5 281.5h0.5M650.5 281.5h1.5M653.0 281.5h1.5M655.5 281.5h2.0M659.0 281.5h2.0M662.5 281.5h1.5M665.5 281.5h1.0M667.5 281.5h0.5M669.0 281.5h5.5M675.5 281.5h0.5M604.5 286.5h0.0M611.0 286.5h0.5M613.0 286.5h0.0M614.5 286.5h0.0M615.5 286.5h1.0M618.0 286.5h0.0M621.0 286.5h0.5M622.5 286.5h1.0M625.5 286.5h0.0M627.0 286.5h0.0M628.0 286.5h0.5M629.5 286.5h0.5M631.0 286.5h1.0M633.0 286.5h0.0M634.0 286.5h0.5M635.5 286.5h0.0M637.0 286.5h0.0M638.0 286.5h0.0M639.5 286.5h0.0M640.5 286.5h1.5M643.0 286.5h1.0M645.0 286.5h2.0M648.5 286.5h3.5M653.5 286.5h0.0M654.5 286.5h2.0M657.5 286.5h1.0M660.5 286.5h2.0M664.0 286.5h3.5M668.5 286.5h5.5M675.5 286.5h0.5M613.5 295.5h0.0M617.0 295.5h0.5M621.0 295.5h0.0M627.5 295.5h0.0M629.0 295.5h0.0M631.0 295.5h1.0M633.0 295.5h0.0M635.5 295.5h0.0M636.5 295.5h1.0M639.5 295.5h0.5M641.0 295.5h0.0M644.5 295.5h1.0M646.5 295.5h1.5M649.5 295.5h0.0M651.5 295.5h1.0M654.5 295.5h0.0M656.0 295.5h0.0M657.0 295.5h0.0M658.0 295.5h1.5M660.5 295.5h0.0M661.5 295.5h0.0M663.0 295.5h1.0M666.5 295.5h3.5M671.0 295.5h2.0M674.5 295.5h0.0M675.5 295.5h0.5" stroke="#0000ff" stroke-width="2.5" stroke-linecap="square" fill="none"/>
<rect x="505.5" y="178.2" width="171.70" height="126.10" fill="none" stroke="#000" stroke-width="1.4"/>
<line x1="502.90" y1="186.90" x2="505.50" y2="186.90" stroke="#000" stroke-width="1.4"/>
<text x="501.50" y="190.50" font-size="10.9" text-anchor="end">10<tspan font-size="6.8" dy="-4.5">0</tspan></text>
<line x1="502.90" y1="216.25" x2="505.50" y2="216.25" stroke="#000" stroke-width="1.4"/>
<text x="501.50" y="219.85" font-size="10.9" text-anchor="end">10<tspan font-size="6.8" dy="-4.5">-1</tspan></text>
<line x1="502.90" y1="245.60" x2="505.50" y2="245.60" stroke="#000" stroke-width="1.4"/>
<text x="501.50" y="249.20" font-size="10.9" text-anchor="end">10<tspan font-size="6.8" dy="-4.5">-2</tspan></text>
<line x1="502.90" y1="274.95" x2="505.50" y2="274.95" stroke="#000" stroke-width="1.4"/>
<text x="501.50" y="278.55" font-size="10.9" text-anchor="end">10<tspan font-size="6.8" dy="-4.5">-3</tspan></text>
<line x1="502.90" y1="304.30" x2="505.50" y2="304.30" stroke="#000" stroke-width="1.4"/>
<text x="501.50" y="307.90" font-size="10.9" text-anchor="end">10<tspan font-size="6.8" dy="-4.5">-4</tspan></text>
<line x1="505.50" y1="304.30" x2="505.50" y2="306.90" stroke="#000" stroke-width="1.4"/>
<text x="505.50" y="317.50" font-size="10.9" text-anchor="middle" fill="#000">0</text>
<line x1="591.35" y1="304.30" x2="591.35" y2="306.90" stroke="#000" stroke-width="1.4"/>
<text x="591.35" y="317.50" font-size="10.9" text-anchor="middle" fill="#000">200</text>
<line x1="677.20" y1="304.30" x2="677.20" y2="306.90" stroke="#000" stroke-width="1.4"/>
<text x="677.20" y="317.50" font-size="10.9" text-anchor="middle" fill="#000">400</text>
<line x1="548.42" y1="304.30" x2="548.42" y2="305.90" stroke="#000" stroke-width="1.4"/>
<line x1="634.28" y1="304.30" x2="634.28" y2="305.90" stroke="#000" stroke-width="1.4"/>
<text x="0" y="0" font-size="14.5" text-anchor="middle" fill="#000" transform="translate(482.30 236.50) rotate(-90)">Counts</text>
<text x="591.35" y="330.70" font-size="14.5" text-anchor="middle" fill="#000">Time (ns)</text>
<text x="0" y="0" font-size="22.8" text-anchor="start" fill="#000" transform="translate(466.46 190.20) scale(1.120 1)">f</text>
<defs><clipPath id="temc"><rect x="35.3" y="345.3" width="176.8" height="151.4"/></clipPath><filter id="tnoise" x="0" y="0" width="100%" height="100%"><feTurbulence type="fractalNoise" baseFrequency="0.75" numOctaves="2" seed="4" result="n"/><feColorMatrix type="matrix" values="1 0 0 0 0  1 0 0 0 0  1 0 0 0 0  0 0 0 0 1" in="n"/></filter><radialGradient id="tp"><stop offset="0" stop-color="#505050"/><stop offset="0.65" stop-color="#5e5e5e"/><stop offset="1" stop-color="#7a7a7a" stop-opacity="0.7"/></radialGradient><radialGradient id="tpd"><stop offset="0" stop-color="#222"/><stop offset="0.6" stop-color="#404040"/><stop offset="1" stop-color="#6a6a6a" stop-opacity="0.7"/></radialGradient><filter id="tblur" x="-10%" y="-10%" width="120%" height="120%"><feGaussianBlur stdDeviation="0.45"/></filter></defs>
<g clip-path="url(#temc)">
<rect x="35.3" y="345.3" width="176.8" height="151.4" fill="#bdbdbd"/>
<g filter="url(#tblur)">
<polygon points="51.2,343.7 53.4,345.1 53.4,347.7 51.7,349.6 48.8,349.4 47.8,346.8 48.8,344.4" fill="url(#tp)" stroke="#d2d2d2" stroke-opacity="0.35" stroke-width="0.6"/>
<polygon points="53.0,349.8 53.2,346.9 55.7,345.8 58.2,346.5 58.8,349.0 57.6,351.1 55.1,351.3" fill="url(#tp)" stroke="#d2d2d2" stroke-opacity="0.35" stroke-width="0.6"/>
<polygon points="59.9,347.7 61.0,345.5 63.5,345.2 65.2,346.9 65.4,349.5 63.0,350.7 60.5,350.1" fill="url(#tp)" stroke="#d2d2d2" stroke-opacity="0.35" stroke-width="0.6"/>
<polygon points="72.7,344.9 73.2,347.4 72.0,349.6 69.3,350.0 67.9,347.8 67.9,345.2 70.2,344.0" fill="url(#tp)" stroke="#d2d2d2" stroke-opacity="0.35" stroke-width="0.6"/>
<polygon points="88.2,347.9 86.0,350.1 83.0,349.4 81.3,346.9 82.6,344.0 85.5,343.0 88.3,344.6" fill="url(#tp)" stroke="#d2d2d2" stroke-opacity="0.35" stroke-width="0.6"/>
<polygon points="93.2,349.3 90.7,349.9 88.7,348.2 88.6,345.4 90.9,343.6 93.4,344.8 94.5,347.1" fill="url(#tp)" stroke="#d2d2d2" stroke-opacity="0.35" stroke-width="0.6"/>
<polygon points="100.1,350.1 97.6,350.7 95.8,349.2 95.6,346.9 97.3,345.4 99.8,345.4 100.7,347.7" fill="url(#tp)" stroke="#d2d2d2" stroke-opacity="0.35" stroke-width="0.6"/>
<polygon points="105.4,348.0 108.0,347.2 110.0,348.9 110.4,351.7 108.0,353.5 105.3,352.7 104.0,350.3" fill="url(#tp)" stroke="#d2d2d2" stroke-opacity="0.35" stroke-width="0.6"/>
<polygon points="122.1,348.1 120.8,350.6 118.0,350.3 116.4,348.4 116.4,345.8 118.9,344.5 121.6,345.4" fill="url(#tp)" stroke="#d2d2d2" stroke-opacity="0.35" stroke-width="0.6"/>
<polygon points="50.9,350.4 53.4,350.6 54.9,352.6 54.4,355.1 52.0,356.2 49.9,354.8 49.3,352.4" fill="url(#tp)" stroke="#d2d2d2" stroke-opacity="0.35" stroke-width="0.6"/>
<polygon points="57.3,354.7 57.3,352.0 59.1,350.4 61.6,350.9 62.8,353.0 61.6,355.0 59.5,355.8" fill="url(#tp)" stroke="#d2d2d2" stroke-opacity="0.35" stroke-width="0.6"/>
<polygon points="69.9,352.5 69.5,355.6 66.8,356.8 64.2,355.7 63.4,353.1 65.0,350.9 67.8,350.3" fill="url(#tp)" stroke="#d2d2d2" stroke-opacity="0.35" stroke-width="0.6"/>
<polygon points="76.3,352.6 76.8,355.3 74.6,356.9 71.8,356.6 70.7,354.0 71.8,351.7 74.3,351.0" fill="url(#tp)" stroke="#d2d2d2" stroke-opacity="0.35" stroke-width="0.6"/>
<polygon points="78.7,356.5 78.2,354.1 79.6,351.7 82.4,352.2 83.8,354.3 83.4,356.9 80.9,358.3" fill="url(#tp)" stroke="#d2d2d2" stroke-opacity="0.35" stroke-width="0.6"/>
<polygon points="90.7,355.4 90.0,358.0 87.6,359.2 85.3,358.0 84.5,355.5 86.2,353.5 88.8,353.4" fill="url(#tp)" stroke="#d2d2d2" stroke-opacity="0.35" stroke-width="0.6"/>
<polygon points="95.3,350.7 95.5,353.2 93.7,354.9 91.3,354.5 89.8,352.5 90.9,350.2 93.2,349.4" fill="url(#tp)" stroke="#d2d2d2" stroke-opacity="0.35" stroke-width="0.6"/>
<polygon points="102.8,354.0 101.2,356.5 98.2,356.8 96.1,354.6 96.7,351.8 99.1,349.9 101.6,351.5" fill="url(#tp)" stroke="#d2d2d2" stroke-opacity="0.35" stroke-width="0.6"/>
<polygon points="110.7,354.6 109.6,357.3 107.3,358.3 104.7,357.7 104.4,354.9 105.8,352.7 108.7,352.4" fill="url(#tp)" stroke="#d2d2d2" stroke-opacity="0.35" stroke-width="0.6"/>
<polygon points="115.7,355.1 113.5,355.8 111.7,354.4 111.6,352.3 113.0,350.6 115.2,351.1 116.2,352.9" fill="url(#tp)" stroke="#d2d2d2" stroke-opacity="0.35" stroke-width="0.6"/>
<polygon points="57.7,355.1 59.4,356.9 59.1,359.4 57.0,361.0 54.6,359.9 53.5,357.5 55.0,355.2" fill="url(#tp)" stroke="#d2d2d2" stroke-opacity="0.35" stroke-width="0.6"/>
<polygon points="60.4,360.2 59.7,357.7 61.0,355.3 63.7,355.3 65.0,357.4 65.0,359.7 62.8,360.7" fill="url(#tp)" stroke="#d2d2d2" stroke-opacity="0.35" stroke-width="0.6"/>
<polygon points="70.1,355.9 72.2,357.2 72.6,359.7 70.9,361.7 68.3,361.4 66.9,359.2 67.9,356.9" fill="url(#tpd)" stroke="#d2d2d2" stroke-opacity="0.35" stroke-width="0.6"/>
<polygon points="91.4,357.7 91.5,355.2 93.6,353.9 96.3,354.1 97.4,356.7 95.8,358.9 93.3,359.6" fill="url(#tp)" stroke="#d2d2d2" stroke-opacity="0.35" stroke-width="0.6"/>
<polygon points="99.4,358.5 100.8,356.8 102.9,356.4 104.4,358.0 104.4,360.3 102.3,361.4 100.2,360.6" fill="url(#tpd)" stroke="#d2d2d2" stroke-opacity="0.35" stroke-width="0.6"/>
<polygon points="106.0,364.1 105.5,361.3 107.2,359.1 110.1,359.1 112.1,361.3 111.2,364.2 108.5,365.4" fill="url(#tp)" stroke="#d2d2d2" stroke-opacity="0.35" stroke-width="0.6"/>
<polygon points="47.2,360.6 49.0,358.8 51.4,359.0 53.0,360.9 52.5,363.5 50.0,364.3 47.8,363.2" fill="url(#tp)" stroke="#d2d2d2" stroke-opacity="0.35" stroke-width="0.6"/>
<polygon points="66.0,365.2 63.5,366.3 61.2,365.4 60.3,363.0 61.7,360.9 64.2,360.8 66.1,362.4" fill="url(#tp)" stroke="#d2d2d2" stroke-opacity="0.35" stroke-width="0.6"/>
<polygon points="89.8,362.7 90.2,360.0 92.6,358.9 95.0,359.8 96.0,362.4 94.2,364.3 91.8,364.4" fill="url(#tp)" stroke="#d2d2d2" stroke-opacity="0.35" stroke-width="0.6"/>
<polygon points="46.1,364.2 48.6,363.9 50.4,365.9 49.8,368.3 47.6,369.6 45.3,368.7 44.6,366.2" fill="url(#tp)" stroke="#d2d2d2" stroke-opacity="0.35" stroke-width="0.6"/>
<polygon points="59.3,370.7 56.7,371.9 54.7,369.8 54.5,367.1 56.4,364.8 59.5,365.4 60.8,368.2" fill="url(#tp)" stroke="#d2d2d2" stroke-opacity="0.35" stroke-width="0.6"/>
<polygon points="109.8,372.1 108.2,369.7 108.9,367.2 111.1,366.1 113.5,366.9 114.2,369.5 112.5,371.4" fill="url(#tpd)" stroke="#d2d2d2" stroke-opacity="0.35" stroke-width="0.6"/>
<polygon points="116.5,365.6 119.0,365.9 120.7,367.8 120.0,370.2 117.7,371.2 115.6,370.1 115.3,367.8" fill="url(#tp)" stroke="#d2d2d2" stroke-opacity="0.35" stroke-width="0.6"/>
<polygon points="39.4,371.0 41.3,368.9 43.8,368.4 46.0,370.1 45.8,373.0 43.3,374.4 40.5,373.8" fill="url(#tp)" stroke="#d2d2d2" stroke-opacity="0.35" stroke-width="0.6"/>
<polygon points="46.9,374.1 47.1,371.7 48.5,369.6 51.1,370.1 52.6,372.3 51.4,374.6 49.1,375.4" fill="url(#tp)" stroke="#d2d2d2" stroke-opacity="0.35" stroke-width="0.6"/>
<polygon points="106.3,370.7 108.7,371.1 109.4,373.5 108.0,375.4 105.8,375.8 104.1,374.2 104.3,371.8" fill="url(#tp)" stroke="#d2d2d2" stroke-opacity="0.35" stroke-width="0.6"/>
<polygon points="123.5,375.2 121.1,374.8 119.9,372.4 121.5,370.5 123.8,369.8 125.6,371.5 125.4,373.9" fill="url(#tp)" stroke="#d2d2d2" stroke-opacity="0.35" stroke-width="0.6"/>
<polygon points="46.8,375.1 48.4,377.2 47.8,379.6 45.6,381.0 43.2,379.7 42.5,377.2 44.2,375.2" fill="url(#tp)" stroke="#d2d2d2" stroke-opacity="0.35" stroke-width="0.6"/>
<polygon points="82.8,376.4 81.2,374.3 82.3,372.0 84.6,370.7 86.7,372.4 86.8,374.8 85.3,376.8" fill="url(#tp)" stroke="#d2d2d2" stroke-opacity="0.35" stroke-width="0.6"/>
<polygon points="90.2,372.4 92.5,371.9 94.0,373.8 93.7,376.0 91.8,377.5 89.6,376.4 88.7,374.2" fill="url(#tp)" stroke="#d2d2d2" stroke-opacity="0.35" stroke-width="0.6"/>
<polygon points="97.2,378.8 96.7,376.3 97.8,374.2 100.2,373.9 102.0,375.6 101.8,378.0 99.8,379.7" fill="url(#tp)" stroke="#d2d2d2" stroke-opacity="0.35" stroke-width="0.6"/>
<polygon points="114.2,378.3 112.7,376.6 112.8,374.2 115.0,372.9 117.1,374.2 117.6,376.3 116.5,378.3" fill="url(#tp)" stroke="#d2d2d2" stroke-opacity="0.35" stroke-width="0.6"/>
<polygon points="81.8,382.4 79.7,381.8 78.5,380.0 79.4,378.2 81.3,377.5 83.4,378.4 83.5,380.8" fill="url(#tp)" stroke="#d2d2d2" stroke-opacity="0.35" stroke-width="0.6"/>
<polygon points="84.5,379.0 85.9,376.5 88.9,376.2 90.5,378.5 90.0,381.1 87.8,382.5 85.4,381.4" fill="url(#tp)" stroke="#d2d2d2" stroke-opacity="0.35" stroke-width="0.6"/>
<polygon points="95.2,382.3 92.5,382.1 91.1,379.8 92.0,377.4 94.4,376.6 96.7,377.8 96.9,380.4" fill="url(#tp)" stroke="#d2d2d2" stroke-opacity="0.35" stroke-width="0.6"/>
<polygon points="103.2,383.3 100.9,382.2 100.4,379.7 102.3,378.0 104.8,377.7 106.4,379.9 105.6,382.5" fill="url(#tp)" stroke="#d2d2d2" stroke-opacity="0.35" stroke-width="0.6"/>
<polygon points="107.1,380.6 107.6,378.1 109.8,377.1 112.2,377.9 112.4,380.3 111.3,382.4 108.7,382.5" fill="url(#tpd)" stroke="#d2d2d2" stroke-opacity="0.35" stroke-width="0.6"/>
<polygon points="84.9,383.0 85.5,385.8 83.7,388.0 81.1,387.6 79.1,385.8 79.6,382.9 82.3,381.7" fill="url(#tp)" stroke="#d2d2d2" stroke-opacity="0.35" stroke-width="0.6"/>
<polygon points="92.4,384.9 91.5,387.0 89.2,386.7 87.7,385.0 88.1,382.8 90.1,381.4 92.3,382.7" fill="url(#tp)" stroke="#d2d2d2" stroke-opacity="0.35" stroke-width="0.6"/>
<polygon points="93.4,384.8 95.0,382.5 97.7,381.9 100.1,383.8 99.8,386.9 97.3,388.5 94.2,387.8" fill="url(#tp)" stroke="#d2d2d2" stroke-opacity="0.35" stroke-width="0.6"/>
<polygon points="106.1,383.3 108.7,382.9 110.2,385.1 109.7,387.7 107.2,388.4 104.9,387.6 104.4,385.1" fill="url(#tp)" stroke="#d2d2d2" stroke-opacity="0.35" stroke-width="0.6"/>
<polygon points="124.3,382.1 123.9,384.4 122.1,385.7 119.8,385.2 119.6,383.0 120.2,380.9 122.5,380.5" fill="url(#tp)" stroke="#d2d2d2" stroke-opacity="0.35" stroke-width="0.6"/>
<polygon points="59.4,393.2 56.8,391.5 56.9,388.5 59.0,386.4 62.0,386.7 63.9,389.4 62.3,392.2" fill="url(#tp)" stroke="#d2d2d2" stroke-opacity="0.35" stroke-width="0.6"/>
<polygon points="64.0,393.4 63.6,390.6 64.9,388.3 67.6,388.1 69.7,390.0 69.4,392.8 66.8,393.8" fill="url(#tp)" stroke="#d2d2d2" stroke-opacity="0.35" stroke-width="0.6"/>
<polygon points="95.0,387.7 96.1,390.4 94.8,392.9 92.1,393.3 89.7,391.8 90.0,388.9 92.1,387.0" fill="url(#tp)" stroke="#d2d2d2" stroke-opacity="0.35" stroke-width="0.6"/>
<polygon points="104.8,391.7 102.6,393.1 100.2,392.5 98.9,390.3 100.0,387.7 102.8,387.1 104.7,389.1" fill="url(#tp)" stroke="#d2d2d2" stroke-opacity="0.35" stroke-width="0.6"/>
<polygon points="51.2,395.1 48.9,397.1 46.1,396.1 45.1,393.6 46.3,391.2 49.0,390.2 51.1,392.3" fill="url(#tp)" stroke="#d2d2d2" stroke-opacity="0.35" stroke-width="0.6"/>
<polygon points="51.7,392.3 54.0,390.8 56.6,391.2 57.6,393.6 56.9,396.2 54.1,396.7 52.1,395.0" fill="url(#tp)" stroke="#d2d2d2" stroke-opacity="0.35" stroke-width="0.6"/>
<polygon points="134.0,345.2 136.0,343.6 138.9,343.9 139.7,346.8 138.2,349.1 135.5,349.6 133.2,347.9" fill="url(#tp)" stroke="#d2d2d2" stroke-opacity="0.35" stroke-width="0.6"/>
<polygon points="138.7,345.8 140.5,343.9 143.3,343.5 145.0,345.9 144.1,348.6 141.6,349.7 139.6,348.1" fill="url(#tp)" stroke="#d2d2d2" stroke-opacity="0.35" stroke-width="0.6"/>
<polygon points="146.1,349.6 145.0,347.4 145.3,344.8 147.8,344.1 150.1,345.3 150.4,347.8 148.7,349.7" fill="url(#tpd)" stroke="#d2d2d2" stroke-opacity="0.35" stroke-width="0.6"/>
<polygon points="151.2,350.0 150.2,347.0 151.7,344.7 154.2,343.9 156.3,345.6 156.5,348.3 154.4,350.2" fill="url(#tp)" stroke="#d2d2d2" stroke-opacity="0.35" stroke-width="0.6"/>
<polygon points="172.3,345.0 174.9,344.7 176.9,346.6 176.5,349.3 174.2,350.6 171.9,349.6 170.8,347.3" fill="url(#tp)" stroke="#d2d2d2" stroke-opacity="0.35" stroke-width="0.6"/>
<polygon points="179.2,350.2 176.4,348.7 176.6,345.6 178.9,343.6 181.9,344.2 183.3,346.9 182.0,349.6" fill="url(#tp)" stroke="#d2d2d2" stroke-opacity="0.35" stroke-width="0.6"/>
<polygon points="186.1,343.7 188.4,344.6 189.4,347.0 187.9,349.2 185.5,349.1 183.7,347.5 183.8,344.9" fill="url(#tp)" stroke="#d2d2d2" stroke-opacity="0.35" stroke-width="0.6"/>
<polygon points="191.9,343.6 194.6,344.0 196.4,346.2 194.9,348.5 192.6,349.5 190.4,348.2 189.9,345.5" fill="url(#tp)" stroke="#d2d2d2" stroke-opacity="0.35" stroke-width="0.6"/>
<polygon points="205.7,345.6 208.0,343.8 210.9,344.2 211.9,346.9 210.6,349.2 208.1,350.2 206.0,348.3" fill="url(#tpd)" stroke="#d2d2d2" stroke-opacity="0.35" stroke-width="0.6"/>
<polygon points="146.8,351.4 145.6,353.7 143.2,354.5 141.1,353.0 141.0,350.4 142.8,348.4 145.5,349.1" fill="url(#tp)" stroke="#d2d2d2" stroke-opacity="0.35" stroke-width="0.6"/>
<polygon points="147.3,353.2 147.6,350.5 149.9,349.1 152.6,350.0 153.3,352.6 152.0,355.1 149.2,355.2" fill="url(#tp)" stroke="#d2d2d2" stroke-opacity="0.35" stroke-width="0.6"/>
<polygon points="137.2,357.5 134.9,356.0 135.1,353.3 136.8,351.0 139.6,351.9 140.7,354.3 139.6,356.6" fill="url(#tp)" stroke="#d2d2d2" stroke-opacity="0.35" stroke-width="0.6"/>
<polygon points="172.0,350.9 174.5,350.0 176.5,351.8 176.7,354.4 174.8,356.3 171.8,356.1 171.0,353.3" fill="url(#tp)" stroke="#d2d2d2" stroke-opacity="0.35" stroke-width="0.6"/>
<polygon points="179.3,353.3 177.5,352.0 177.3,349.7 179.2,348.0 181.6,348.7 182.4,350.9 181.6,353.1" fill="url(#tp)" stroke="#d2d2d2" stroke-opacity="0.35" stroke-width="0.6"/>
<polygon points="189.7,352.3 187.7,354.3 185.1,354.2 183.4,352.3 183.6,349.4 186.4,348.3 189.1,349.4" fill="url(#tpd)" stroke="#d2d2d2" stroke-opacity="0.35" stroke-width="0.6"/>
<polygon points="213.9,351.1 212.0,353.7 209.2,354.0 207.0,352.2 207.1,349.3 209.5,347.4 212.2,348.6" fill="url(#tp)" stroke="#d2d2d2" stroke-opacity="0.35" stroke-width="0.6"/>
<polygon points="143.8,361.1 142.3,358.4 143.2,355.6 145.9,354.6 148.7,355.8 148.6,358.8 146.8,360.9" fill="url(#tp)" stroke="#d2d2d2" stroke-opacity="0.35" stroke-width="0.6"/>
<polygon points="137.7,358.3 140.4,357.6 142.6,359.3 142.5,362.0 140.5,363.9 137.6,363.5 136.7,360.8" fill="url(#tp)" stroke="#d2d2d2" stroke-opacity="0.35" stroke-width="0.6"/>
<polygon points="181.4,357.2 180.0,359.7 176.9,360.0 174.9,357.4 176.0,354.6 178.5,353.2 181.0,354.5" fill="url(#tp)" stroke="#d2d2d2" stroke-opacity="0.35" stroke-width="0.6"/>
<polygon points="184.4,360.1 182.3,358.3 182.1,355.5 184.3,353.9 186.7,354.7 188.4,356.7 187.2,359.3" fill="url(#tp)" stroke="#d2d2d2" stroke-opacity="0.35" stroke-width="0.6"/>
<polygon points="211.6,355.3 211.3,357.9 209.0,359.5 206.7,358.1 205.4,355.7 207.2,353.6 209.8,353.5" fill="url(#tp)" stroke="#d2d2d2" stroke-opacity="0.35" stroke-width="0.6"/>
<polygon points="156.0,365.8 153.1,365.6 151.9,363.1 152.6,360.5 155.2,359.5 157.3,361.1 157.8,363.7" fill="url(#tp)" stroke="#d2d2d2" stroke-opacity="0.35" stroke-width="0.6"/>
<polygon points="150.9,362.3 151.4,365.1 149.4,367.0 146.5,367.1 145.5,364.4 146.0,361.9 148.5,361.1" fill="url(#tp)" stroke="#d2d2d2" stroke-opacity="0.35" stroke-width="0.6"/>
<polygon points="144.9,364.4 145.0,367.5 142.6,369.5 139.6,368.7 138.2,366.1 139.4,363.3 142.4,362.7" fill="url(#tp)" stroke="#d2d2d2" stroke-opacity="0.35" stroke-width="0.6"/>
<polygon points="185.2,361.4 184.5,363.7 182.5,364.6 180.3,363.8 180.0,361.6 181.3,359.9 183.4,359.9" fill="url(#tp)" stroke="#d2d2d2" stroke-opacity="0.35" stroke-width="0.6"/>
<polygon points="204.7,360.3 206.4,358.0 209.2,357.8 211.2,359.7 211.0,362.6 208.4,363.9 205.8,363.0" fill="url(#tp)" stroke="#d2d2d2" stroke-opacity="0.35" stroke-width="0.6"/>
<polygon points="159.4,371.4 157.1,370.0 157.4,367.3 159.5,365.4 162.1,366.3 162.9,368.7 161.8,370.9" fill="url(#tp)" stroke="#d2d2d2" stroke-opacity="0.35" stroke-width="0.6"/>
<polygon points="151.6,366.2 154.1,365.8 155.4,368.0 155.4,370.6 153.0,371.6 150.6,370.6 149.9,368.1" fill="url(#tp)" stroke="#d2d2d2" stroke-opacity="0.35" stroke-width="0.6"/>
<polygon points="146.7,367.7 149.0,369.5 148.5,372.4 146.0,374.0 143.1,373.1 141.8,370.2 143.8,367.7" fill="url(#tp)" stroke="#d2d2d2" stroke-opacity="0.35" stroke-width="0.6"/>
<polygon points="137.4,368.9 139.6,370.4 140.2,373.0 138.0,374.3 135.6,374.4 134.0,372.3 135.1,370.0" fill="url(#tp)" stroke="#d2d2d2" stroke-opacity="0.35" stroke-width="0.6"/>
<polygon points="189.1,365.2 188.9,367.7 187.2,369.3 184.6,369.2 183.3,366.9 184.5,364.6 186.8,364.1" fill="url(#tp)" stroke="#d2d2d2" stroke-opacity="0.35" stroke-width="0.6"/>
<polygon points="196.3,367.5 194.7,369.5 191.9,369.6 190.4,367.1 191.6,364.8 193.9,363.6 196.3,364.9" fill="url(#tp)" stroke="#d2d2d2" stroke-opacity="0.35" stroke-width="0.6"/>
<polygon points="207.2,371.0 207.0,368.4 207.9,366.4 210.3,365.9 212.1,367.7 211.9,370.2 209.8,371.6" fill="url(#tpd)" stroke="#d2d2d2" stroke-opacity="0.35" stroke-width="0.6"/>
<polygon points="129.9,369.4 132.5,370.5 133.2,373.3 131.2,375.4 128.5,375.5 126.5,373.4 127.2,370.5" fill="url(#tp)" stroke="#d2d2d2" stroke-opacity="0.35" stroke-width="0.6"/>
<polygon points="162.1,372.2 164.3,373.9 164.2,376.6 162.2,378.6 159.4,377.7 158.3,375.2 159.6,372.9" fill="url(#tp)" stroke="#d2d2d2" stroke-opacity="0.35" stroke-width="0.6"/>
<polygon points="156.6,377.4 153.9,377.2 152.5,375.0 153.4,372.5 155.8,371.7 157.9,373.0 158.4,375.5" fill="url(#tpd)" stroke="#d2d2d2" stroke-opacity="0.35" stroke-width="0.6"/>
<polygon points="147.1,376.3 149.3,375.2 151.7,375.7 152.3,378.1 151.3,380.5 148.5,381.0 146.5,379.0" fill="url(#tp)" stroke="#d2d2d2" stroke-opacity="0.35" stroke-width="0.6"/>
<polygon points="188.4,375.5 186.2,374.0 185.9,371.2 188.2,369.5 190.8,370.2 192.0,372.5 191.0,375.0" fill="url(#tp)" stroke="#d2d2d2" stroke-opacity="0.35" stroke-width="0.6"/>
<polygon points="193.5,372.0 194.7,369.2 197.7,368.5 200.2,370.3 200.4,373.6 197.7,375.3 194.8,374.6" fill="url(#tp)" stroke="#d2d2d2" stroke-opacity="0.35" stroke-width="0.6"/>
<polygon points="200.8,373.7 201.9,371.6 204.3,371.1 206.3,372.8 205.9,375.3 203.9,376.7 201.8,375.8" fill="url(#tp)" stroke="#d2d2d2" stroke-opacity="0.35" stroke-width="0.6"/>
<polygon points="212.3,376.5 211.0,378.5 208.7,379.4 206.9,377.7 206.8,375.3 208.7,373.6 211.3,374.1" fill="url(#tp)" stroke="#d2d2d2" stroke-opacity="0.35" stroke-width="0.6"/>
<polygon points="125.2,379.7 124.0,377.2 125.4,374.9 127.9,374.3 130.1,375.8 129.7,378.4 127.9,380.2" fill="url(#tp)" stroke="#d2d2d2" stroke-opacity="0.35" stroke-width="0.6"/>
<polygon points="137.4,375.8 137.8,378.2 136.1,380.1 133.4,379.9 131.9,377.5 133.0,375.0 135.5,374.2" fill="url(#tp)" stroke="#d2d2d2" stroke-opacity="0.35" stroke-width="0.6"/>
<polygon points="145.6,377.4 143.8,379.8 140.9,379.3 139.6,377.0 140.1,374.6 142.5,373.7 144.7,374.8" fill="url(#tp)" stroke="#d2d2d2" stroke-opacity="0.35" stroke-width="0.6"/>
<polygon points="188.7,377.6 190.5,375.5 193.2,375.7 194.8,378.0 194.0,380.7 191.4,381.6 189.5,380.0" fill="url(#tp)" stroke="#d2d2d2" stroke-opacity="0.35" stroke-width="0.6"/>
<polygon points="199.3,382.1 198.6,379.0 200.6,376.7 203.4,377.3 205.3,379.1 204.7,381.9 202.2,383.0" fill="url(#tp)" stroke="#d2d2d2" stroke-opacity="0.35" stroke-width="0.6"/>
<polygon points="195.2,378.6 193.9,376.5 195.2,374.4 197.5,373.9 199.5,375.3 199.6,377.9 197.5,379.2" fill="url(#tp)" stroke="#d2d2d2" stroke-opacity="0.35" stroke-width="0.6"/>
<polygon points="131.0,386.1 129.5,383.7 130.2,381.1 132.6,379.9 135.1,381.1 135.8,384.0 133.8,386.0" fill="url(#tp)" stroke="#d2d2d2" stroke-opacity="0.35" stroke-width="0.6"/>
<polygon points="137.9,380.4 140.7,380.2 142.8,382.0 142.6,384.8 140.1,386.1 137.9,385.0 137.0,382.8" fill="url(#tp)" stroke="#d2d2d2" stroke-opacity="0.35" stroke-width="0.6"/>
<polygon points="150.0,385.6 147.4,387.6 144.4,386.4 143.6,383.4 145.1,380.9 148.1,380.5 150.2,382.6" fill="url(#tp)" stroke="#d2d2d2" stroke-opacity="0.35" stroke-width="0.6"/>
<polygon points="150.4,384.7 151.6,382.3 154.0,381.3 156.4,382.8 156.4,385.6 154.5,387.5 152.0,386.7" fill="url(#tp)" stroke="#d2d2d2" stroke-opacity="0.35" stroke-width="0.6"/>
<polygon points="198.0,383.4 197.1,385.5 194.6,386.0 192.5,384.2 193.0,381.5 195.2,380.1 197.5,381.2" fill="url(#tp)" stroke="#d2d2d2" stroke-opacity="0.35" stroke-width="0.6"/>
<polygon points="187.4,389.2 185.7,386.5 185.9,383.3 189.0,382.4 191.8,383.5 192.6,386.5 190.8,389.2" fill="url(#tp)" stroke="#d2d2d2" stroke-opacity="0.35" stroke-width="0.6"/>
<polygon points="128.5,385.2 130.9,386.4 131.4,388.9 129.9,390.9 127.3,391.2 125.9,389.0 126.3,386.6" fill="url(#tp)" stroke="#d2d2d2" stroke-opacity="0.35" stroke-width="0.6"/>
<polygon points="134.5,390.4 133.5,388.1 134.6,385.6 137.4,385.4 139.3,387.3 139.5,390.1 136.9,391.4" fill="url(#tp)" stroke="#d2d2d2" stroke-opacity="0.35" stroke-width="0.6"/>
<polygon points="142.5,386.1 144.7,385.9 146.5,387.6 146.1,390.1 143.8,391.1 141.4,390.3 140.8,387.8" fill="url(#tp)" stroke="#d2d2d2" stroke-opacity="0.35" stroke-width="0.6"/>
<polygon points="150.4,385.9 153.0,387.5 154.4,390.0 152.9,392.6 149.8,393.0 147.8,390.8 148.3,388.2" fill="url(#tp)" stroke="#d2d2d2" stroke-opacity="0.35" stroke-width="0.6"/>
<polygon points="155.4,393.9 154.2,391.4 155.9,389.4 158.4,388.5 160.5,390.4 160.3,393.3 157.9,394.6" fill="url(#tp)" stroke="#d2d2d2" stroke-opacity="0.35" stroke-width="0.6"/>
<polygon points="187.2,392.2 187.7,389.5 189.8,387.7 192.3,388.9 193.3,391.2 192.2,393.7 189.5,393.7" fill="url(#tp)" stroke="#d2d2d2" stroke-opacity="0.35" stroke-width="0.6"/>
<polygon points="199.4,391.7 196.9,393.1 194.6,391.6 194.2,389.1 195.6,386.9 198.1,387.1 199.9,389.0" fill="url(#tp)" stroke="#d2d2d2" stroke-opacity="0.35" stroke-width="0.6"/>
<polygon points="145.8,393.8 144.7,396.1 142.1,396.6 140.5,394.6 140.6,392.2 142.6,390.8 145.2,391.3" fill="url(#tp)" stroke="#d2d2d2" stroke-opacity="0.35" stroke-width="0.6"/>
<polygon points="146.7,394.4 147.3,391.5 150.2,391.2 151.9,393.1 153.1,395.8 150.5,397.8 147.8,396.7" fill="url(#tpd)" stroke="#d2d2d2" stroke-opacity="0.35" stroke-width="0.6"/>
<polygon points="57.3,395.6 57.2,393.0 59.5,391.5 62.2,392.2 63.0,394.8 62.0,397.5 59.1,397.4" fill="url(#tp)" stroke="#d2d2d2" stroke-opacity="0.35" stroke-width="0.6"/>
<polygon points="105.7,397.3 103.4,397.5 102.0,395.5 102.7,393.4 104.7,392.3 106.7,393.4 107.2,395.6" fill="url(#tp)" stroke="#d2d2d2" stroke-opacity="0.35" stroke-width="0.6"/>
<polygon points="121.1,397.0 119.8,394.5 120.7,391.7 123.7,390.5 126.0,392.7 126.0,395.6 123.9,397.4" fill="url(#tp)" stroke="#d2d2d2" stroke-opacity="0.35" stroke-width="0.6"/>
<polygon points="47.0,396.9 49.0,398.4 48.6,401.0 46.6,402.4 44.4,401.5 42.9,399.4 44.4,397.1" fill="url(#tp)" stroke="#d2d2d2" stroke-opacity="0.35" stroke-width="0.6"/>
<polygon points="49.4,398.2 51.0,395.4 54.0,396.2 56.2,398.1 55.6,401.2 52.8,402.3 50.1,401.1" fill="url(#tp)" stroke="#d2d2d2" stroke-opacity="0.35" stroke-width="0.6"/>
<polygon points="66.8,401.3 64.6,402.4 62.3,401.5 61.6,399.0 63.2,396.8 65.7,397.1 67.8,398.7" fill="url(#tpd)" stroke="#d2d2d2" stroke-opacity="0.35" stroke-width="0.6"/>
<polygon points="79.6,399.4 80.3,402.2 78.4,404.1 75.7,404.7 73.3,402.5 74.8,399.9 76.9,398.1" fill="url(#tpd)" stroke="#d2d2d2" stroke-opacity="0.35" stroke-width="0.6"/>
<polygon points="98.5,402.9 96.7,400.7 97.8,398.1 100.3,397.3 102.6,398.5 102.9,401.1 101.3,403.4" fill="url(#tp)" stroke="#d2d2d2" stroke-opacity="0.35" stroke-width="0.6"/>
<polygon points="107.8,396.7 110.4,397.2 112.4,398.8 111.6,401.4 109.3,402.7 106.4,401.9 106.3,398.9" fill="url(#tp)" stroke="#d2d2d2" stroke-opacity="0.35" stroke-width="0.6"/>
<polygon points="117.6,402.4 114.9,401.2 113.8,398.6 115.1,395.8 118.3,395.5 120.3,397.7 120.0,400.7" fill="url(#tpd)" stroke="#d2d2d2" stroke-opacity="0.35" stroke-width="0.6"/>
<polygon points="41.1,407.8 40.8,405.1 42.1,403.0 44.7,402.6 46.5,404.5 46.0,407.1 43.8,408.3" fill="url(#tp)" stroke="#d2d2d2" stroke-opacity="0.35" stroke-width="0.6"/>
<polygon points="50.3,407.3 47.9,407.2 46.5,405.1 47.4,402.8 49.8,402.1 52.2,403.2 52.2,405.8" fill="url(#tp)" stroke="#d2d2d2" stroke-opacity="0.35" stroke-width="0.6"/>
<polygon points="69.5,400.4 72.2,400.8 73.3,403.2 72.7,405.8 70.1,406.7 67.8,405.1 67.8,402.5" fill="url(#tp)" stroke="#d2d2d2" stroke-opacity="0.35" stroke-width="0.6"/>
<polygon points="99.8,403.4 100.9,405.8 100.2,408.3 97.7,409.5 95.6,407.7 95.3,405.2 97.0,403.0" fill="url(#tp)" stroke="#d2d2d2" stroke-opacity="0.35" stroke-width="0.6"/>
<polygon points="106.0,407.4 103.8,406.7 103.2,404.3 104.7,402.3 107.1,402.2 108.7,404.1 108.4,406.7" fill="url(#tp)" stroke="#d2d2d2" stroke-opacity="0.35" stroke-width="0.6"/>
<polygon points="113.9,408.6 111.1,407.7 110.7,404.8 112.5,402.8 115.2,402.7 116.7,404.8 116.4,407.4" fill="url(#tp)" stroke="#d2d2d2" stroke-opacity="0.35" stroke-width="0.6"/>
<polygon points="119.3,407.7 118.1,405.5 119.4,403.3 121.7,402.8 123.6,404.3 124.1,407.0 121.7,408.3" fill="url(#tp)" stroke="#d2d2d2" stroke-opacity="0.35" stroke-width="0.6"/>
<polygon points="46.8,406.7 49.6,406.3 51.1,408.7 50.8,411.4 48.2,412.5 45.7,411.4 45.5,408.9" fill="url(#tp)" stroke="#d2d2d2" stroke-opacity="0.35" stroke-width="0.6"/>
<polygon points="56.5,412.6 53.9,412.7 52.1,411.1 52.0,408.6 54.2,407.1 56.7,407.9 57.6,410.3" fill="url(#tp)" stroke="#d2d2d2" stroke-opacity="0.35" stroke-width="0.6"/>
<polygon points="59.7,411.6 62.2,410.1 64.7,411.2 65.8,413.7 64.1,415.7 61.7,415.9 60.0,414.3" fill="url(#tp)" stroke="#d2d2d2" stroke-opacity="0.35" stroke-width="0.6"/>
<polygon points="69.6,413.3 67.2,412.5 67.2,409.9 68.8,408.0 71.3,408.2 72.6,410.4 71.8,412.6" fill="url(#tp)" stroke="#d2d2d2" stroke-opacity="0.35" stroke-width="0.6"/>
<polygon points="80.5,408.9 79.9,411.4 77.6,412.3 75.1,411.3 75.2,408.7 76.4,406.3 79.1,406.8" fill="url(#tp)" stroke="#d2d2d2" stroke-opacity="0.35" stroke-width="0.6"/>
<polygon points="86.5,406.4 86.9,409.5 85.1,411.8 82.3,411.6 80.4,409.5 80.8,406.6 83.6,405.7" fill="url(#tp)" stroke="#d2d2d2" stroke-opacity="0.35" stroke-width="0.6"/>
<polygon points="98.3,411.4 99.6,409.2 102.0,408.3 103.7,410.3 104.2,412.7 102.0,414.2 99.4,413.8" fill="url(#tpd)" stroke="#d2d2d2" stroke-opacity="0.35" stroke-width="0.6"/>
<polygon points="113.5,411.7 112.2,409.5 113.4,407.3 115.8,406.3 118.1,407.9 117.7,410.6 115.8,412.0" fill="url(#tp)" stroke="#d2d2d2" stroke-opacity="0.35" stroke-width="0.6"/>
<polygon points="120.0,414.0 118.5,411.7 119.6,409.2 122.1,408.4 124.8,409.6 124.7,412.5 122.9,415.1" fill="url(#tp)" stroke="#d2d2d2" stroke-opacity="0.35" stroke-width="0.6"/>
<polygon points="78.2,413.0 79.9,410.8 82.7,411.3 83.9,413.7 83.2,416.2 80.6,417.0 78.2,415.7" fill="url(#tp)" stroke="#d2d2d2" stroke-opacity="0.35" stroke-width="0.6"/>
<polygon points="71.0,416.2 72.1,413.4 75.0,412.6 77.5,414.3 77.4,417.2 75.3,419.0 72.4,418.9" fill="url(#tp)" stroke="#d2d2d2" stroke-opacity="0.35" stroke-width="0.6"/>
<polygon points="89.1,414.2 90.5,415.9 90.2,418.0 88.4,419.1 86.3,418.5 85.5,416.3 87.1,414.7" fill="url(#tp)" stroke="#d2d2d2" stroke-opacity="0.35" stroke-width="0.6"/>
<polygon points="97.2,413.6 99.2,416.1 97.9,418.9 95.2,420.4 92.7,418.5 91.9,415.6 94.2,413.6" fill="url(#tp)" stroke="#d2d2d2" stroke-opacity="0.35" stroke-width="0.6"/>
<polygon points="100.3,419.3 99.8,416.0 101.8,413.8 104.7,413.3 106.4,415.8 106.4,418.8 103.5,420.4" fill="url(#tp)" stroke="#d2d2d2" stroke-opacity="0.35" stroke-width="0.6"/>
<polygon points="60.0,418.0 61.4,416.1 63.7,416.4 65.3,418.0 64.6,420.3 62.6,421.2 60.7,420.1" fill="url(#tp)" stroke="#d2d2d2" stroke-opacity="0.35" stroke-width="0.6"/>
<polygon points="73.2,419.4 71.8,422.0 68.9,422.7 67.0,420.5 67.2,417.9 69.2,415.9 71.9,416.8" fill="url(#tp)" stroke="#d2d2d2" stroke-opacity="0.35" stroke-width="0.6"/>
<polygon points="75.7,418.7 78.1,417.4 80.7,418.4 81.5,421.1 79.9,423.3 77.1,423.7 75.5,421.5" fill="url(#tp)" stroke="#d2d2d2" stroke-opacity="0.35" stroke-width="0.6"/>
<polygon points="90.1,420.4 92.7,419.1 94.8,421.1 94.8,423.6 93.0,425.4 90.5,425.1 88.6,422.8" fill="url(#tp)" stroke="#d2d2d2" stroke-opacity="0.35" stroke-width="0.6"/>
<polygon points="102.2,420.0 102.9,423.0 100.5,424.8 97.7,424.9 96.1,422.4 97.2,419.8 99.6,418.6" fill="url(#tp)" stroke="#d2d2d2" stroke-opacity="0.35" stroke-width="0.6"/>
<polygon points="107.6,419.9 109.2,422.5 108.7,425.5 105.9,426.6 103.3,425.3 102.7,422.4 104.5,420.1" fill="url(#tp)" stroke="#d2d2d2" stroke-opacity="0.35" stroke-width="0.6"/>
<polygon points="38.1,421.4 40.2,423.1 40.4,425.7 38.5,427.5 35.9,427.0 34.5,424.7 35.6,422.3" fill="url(#tp)" stroke="#d2d2d2" stroke-opacity="0.35" stroke-width="0.6"/>
<polygon points="58.8,421.3 61.4,423.1 61.9,426.0 60.1,428.3 57.1,428.3 55.0,425.9 56.1,423.0" fill="url(#tp)" stroke="#d2d2d2" stroke-opacity="0.35" stroke-width="0.6"/>
<polygon points="63.9,425.3 65.4,423.0 67.8,422.3 70.0,423.8 70.1,426.5 67.9,427.8 65.5,427.5" fill="url(#tp)" stroke="#d2d2d2" stroke-opacity="0.35" stroke-width="0.6"/>
<polygon points="76.1,422.8 76.7,425.3 75.0,427.2 72.3,427.4 70.4,425.2 71.7,422.8 73.9,421.4" fill="url(#tp)" stroke="#d2d2d2" stroke-opacity="0.35" stroke-width="0.6"/>
<polygon points="83.3,426.2 82.1,428.7 79.3,428.9 77.3,426.9 77.6,424.1 80.0,422.7 82.4,423.8" fill="url(#tp)" stroke="#d2d2d2" stroke-opacity="0.35" stroke-width="0.6"/>
<polygon points="95.4,431.2 92.9,430.0 91.8,427.7 92.7,425.0 95.7,424.5 97.5,426.6 97.4,429.2" fill="url(#tp)" stroke="#d2d2d2" stroke-opacity="0.35" stroke-width="0.6"/>
<polygon points="100.1,425.9 102.3,425.1 104.7,426.1 104.7,428.8 103.0,430.6 100.3,430.5 98.9,428.1" fill="url(#tp)" stroke="#d2d2d2" stroke-opacity="0.35" stroke-width="0.6"/>
<polygon points="48.1,428.0 50.5,426.9 53.0,427.7 54.0,430.3 52.4,432.6 49.5,433.1 47.5,430.8" fill="url(#tp)" stroke="#d2d2d2" stroke-opacity="0.35" stroke-width="0.6"/>
<polygon points="68.0,433.4 66.4,431.2 66.8,428.7 69.0,427.4 71.6,428.3 72.2,431.0 70.6,433.0" fill="url(#tp)" stroke="#d2d2d2" stroke-opacity="0.35" stroke-width="0.6"/>
<polygon points="76.0,433.9 73.5,433.3 73.1,430.8 74.2,428.6 76.8,428.2 78.5,430.2 78.3,432.8" fill="url(#tp)" stroke="#d2d2d2" stroke-opacity="0.35" stroke-width="0.6"/>
<polygon points="81.4,428.3 84.4,428.0 86.6,429.7 86.6,432.6 84.3,434.4 81.7,433.4 80.1,431.0" fill="url(#tp)" stroke="#d2d2d2" stroke-opacity="0.35" stroke-width="0.6"/>
<polygon points="90.0,428.0 92.7,429.6 93.2,432.3 91.8,434.6 89.0,434.6 87.2,432.6 87.5,429.8" fill="url(#tp)" stroke="#d2d2d2" stroke-opacity="0.35" stroke-width="0.6"/>
<polygon points="96.9,429.3 99.5,430.1 100.5,432.6 99.3,435.2 96.5,435.3 94.3,433.7 95.0,431.0" fill="url(#tp)" stroke="#d2d2d2" stroke-opacity="0.35" stroke-width="0.6"/>
<polygon points="105.6,429.8 108.2,429.7 109.3,432.0 108.9,434.5 106.4,435.5 104.2,434.1 103.9,431.6" fill="url(#tp)" stroke="#d2d2d2" stroke-opacity="0.35" stroke-width="0.6"/>
<polygon points="110.7,434.0 113.2,432.4 115.9,433.3 117.6,435.9 116.1,438.9 113.0,438.8 110.7,437.1" fill="url(#tp)" stroke="#d2d2d2" stroke-opacity="0.35" stroke-width="0.6"/>
<polygon points="122.7,433.7 123.9,436.5 122.8,439.6 119.5,439.7 117.2,437.8 117.2,434.7 119.7,432.5" fill="url(#tp)" stroke="#d2d2d2" stroke-opacity="0.35" stroke-width="0.6"/>
<polygon points="38.7,431.9 41.2,432.9 41.8,435.5 40.3,437.4 37.9,437.7 36.1,436.0 36.4,433.3" fill="url(#tp)" stroke="#d2d2d2" stroke-opacity="0.35" stroke-width="0.6"/>
<polygon points="47.4,434.8 46.5,437.5 43.8,438.0 41.2,436.8 41.1,433.8 43.3,432.0 46.2,432.1" fill="url(#tp)" stroke="#d2d2d2" stroke-opacity="0.35" stroke-width="0.6"/>
<polygon points="54.0,433.3 54.6,430.9 57.0,430.7 58.9,431.8 59.0,434.0 57.5,435.5 55.2,435.3" fill="url(#tp)" stroke="#d2d2d2" stroke-opacity="0.35" stroke-width="0.6"/>
<polygon points="67.1,433.6 67.5,436.2 65.4,438.0 63.0,437.3 61.8,435.2 62.7,433.0 65.0,432.2" fill="url(#tp)" stroke="#d2d2d2" stroke-opacity="0.35" stroke-width="0.6"/>
<polygon points="51.0,440.2 48.5,440.4 46.5,438.7 47.0,436.1 49.1,434.7 51.5,435.6 52.6,438.0" fill="url(#tp)" stroke="#d2d2d2" stroke-opacity="0.35" stroke-width="0.6"/>
<polygon points="59.6,437.5 60.5,440.0 58.4,441.9 55.8,441.5 54.5,439.4 55.3,437.0 57.6,436.2" fill="url(#tp)" stroke="#d2d2d2" stroke-opacity="0.35" stroke-width="0.6"/>
<polygon points="96.9,439.5 94.9,441.1 92.3,440.9 90.6,438.5 92.0,435.9 94.7,435.3 96.5,437.0" fill="url(#tp)" stroke="#d2d2d2" stroke-opacity="0.35" stroke-width="0.6"/>
<polygon points="104.7,439.2 102.9,440.8 100.6,440.7 99.0,438.7 100.1,436.5 102.3,435.6 104.2,436.9" fill="url(#tp)" stroke="#d2d2d2" stroke-opacity="0.35" stroke-width="0.6"/>
<polygon points="41.4,438.3 44.4,438.7 46.4,440.9 45.6,443.9 42.8,445.1 39.6,444.1 39.8,440.9" fill="url(#tp)" stroke="#d2d2d2" stroke-opacity="0.35" stroke-width="0.6"/>
<polygon points="64.9,438.3 67.2,439.9 67.7,442.6 65.7,444.7 63.2,444.0 61.1,442.1 61.9,439.1" fill="url(#tp)" stroke="#d2d2d2" stroke-opacity="0.35" stroke-width="0.6"/>
<polygon points="163.8,398.7 162.4,401.0 159.5,401.5 157.8,399.2 158.1,396.4 160.5,395.4 163.2,396.0" fill="url(#tp)" stroke="#d2d2d2" stroke-opacity="0.35" stroke-width="0.6"/>
<polygon points="170.4,402.0 168.1,403.0 165.8,402.1 164.9,399.7 166.7,397.8 169.3,397.2 171.1,399.4" fill="url(#tp)" stroke="#d2d2d2" stroke-opacity="0.35" stroke-width="0.6"/>
<polygon points="178.2,401.9 177.7,404.7 174.8,405.3 172.6,403.8 172.2,401.1 174.2,399.2 176.9,399.7" fill="url(#tp)" stroke="#d2d2d2" stroke-opacity="0.35" stroke-width="0.6"/>
<polygon points="180.2,398.0 182.5,397.5 184.6,399.0 184.4,401.6 182.3,403.0 179.8,402.5 178.9,400.1" fill="url(#tp)" stroke="#d2d2d2" stroke-opacity="0.35" stroke-width="0.6"/>
<polygon points="188.4,399.3 185.8,399.8 183.7,398.4 183.4,395.6 185.5,393.8 188.4,394.2 189.1,396.8" fill="url(#tp)" stroke="#d2d2d2" stroke-opacity="0.35" stroke-width="0.6"/>
<polygon points="194.6,401.3 192.1,402.0 190.1,400.1 190.5,397.6 192.4,395.7 195.1,396.5 195.9,399.1" fill="url(#tp)" stroke="#d2d2d2" stroke-opacity="0.35" stroke-width="0.6"/>
<polygon points="198.0,399.9 200.4,399.5 202.2,401.2 202.1,403.8 199.9,405.2 197.5,404.3 196.7,401.9" fill="url(#tp)" stroke="#d2d2d2" stroke-opacity="0.35" stroke-width="0.6"/>
<polygon points="207.6,401.6 209.9,402.4 210.5,405.1 208.6,407.0 206.0,406.7 204.5,404.6 205.2,402.2" fill="url(#tp)" stroke="#d2d2d2" stroke-opacity="0.35" stroke-width="0.6"/>
<polygon points="160.6,401.3 163.3,401.6 164.3,404.0 163.4,406.4 160.9,407.1 158.7,405.6 158.5,402.9" fill="url(#tpd)" stroke="#d2d2d2" stroke-opacity="0.35" stroke-width="0.6"/>
<polygon points="169.6,409.5 167.1,409.3 165.4,407.2 166.4,404.6 169.0,403.7 171.1,405.2 171.9,407.9" fill="url(#tp)" stroke="#d2d2d2" stroke-opacity="0.35" stroke-width="0.6"/>
<polygon points="180.2,404.1 182.8,404.2 184.0,406.5 183.5,409.2 180.8,410.2 177.9,408.8 177.9,405.7" fill="url(#tp)" stroke="#d2d2d2" stroke-opacity="0.35" stroke-width="0.6"/>
<polygon points="190.0,402.5 190.5,404.9 188.9,407.0 186.3,406.9 184.7,404.7 185.5,402.2 187.8,401.1" fill="url(#tp)" stroke="#d2d2d2" stroke-opacity="0.35" stroke-width="0.6"/>
<polygon points="194.2,410.8 191.4,409.9 190.2,407.3 191.7,404.8 194.5,404.1 196.6,406.2 196.8,409.1" fill="url(#tp)" stroke="#d2d2d2" stroke-opacity="0.35" stroke-width="0.6"/>
<polygon points="198.1,409.2 198.0,406.5 199.8,404.5 202.4,404.9 203.5,407.1 203.2,409.7 200.6,410.3" fill="url(#tp)" stroke="#d2d2d2" stroke-opacity="0.35" stroke-width="0.6"/>
<polygon points="127.0,406.5 129.6,406.9 130.8,409.2 130.2,411.8 127.5,412.5 125.1,411.1 125.0,408.3" fill="url(#tp)" stroke="#d2d2d2" stroke-opacity="0.35" stroke-width="0.6"/>
<polygon points="136.2,407.3 137.9,409.2 137.4,411.6 135.4,413.1 132.9,412.2 132.3,409.7 133.7,407.7" fill="url(#tp)" stroke="#d2d2d2" stroke-opacity="0.35" stroke-width="0.6"/>
<polygon points="159.1,411.4 156.9,413.4 154.0,414.1 152.2,411.6 152.3,408.4 155.4,407.2 158.1,408.5" fill="url(#tp)" stroke="#d2d2d2" stroke-opacity="0.35" stroke-width="0.6"/>
<polygon points="164.8,408.1 165.8,410.5 164.4,412.9 161.5,413.4 159.6,411.1 160.1,408.3 162.5,406.7" fill="url(#tpd)" stroke="#d2d2d2" stroke-opacity="0.35" stroke-width="0.6"/>
<polygon points="171.7,409.3 173.2,406.6 176.2,406.0 178.4,408.1 178.1,411.0 175.7,412.3 173.1,411.9" fill="url(#tp)" stroke="#d2d2d2" stroke-opacity="0.35" stroke-width="0.6"/>
<polygon points="189.5,406.7 191.0,409.2 189.8,411.7 187.2,412.9 184.7,411.2 185.0,408.4 186.7,406.2" fill="url(#tp)" stroke="#d2d2d2" stroke-opacity="0.35" stroke-width="0.6"/>
<polygon points="123.1,416.4 123.4,413.8 125.6,412.3 128.1,413.1 128.8,415.6 127.5,417.8 124.9,418.5" fill="url(#tp)" stroke="#d2d2d2" stroke-opacity="0.35" stroke-width="0.6"/>
<polygon points="135.8,415.7 134.7,417.8 132.1,418.1 130.2,416.3 130.7,413.7 132.9,412.1 135.4,413.2" fill="url(#tp)" stroke="#d2d2d2" stroke-opacity="0.35" stroke-width="0.6"/>
<polygon points="139.5,412.1 142.2,412.7 143.5,415.2 142.5,417.7 139.9,418.5 137.5,417.0 137.3,414.1" fill="url(#tp)" stroke="#d2d2d2" stroke-opacity="0.35" stroke-width="0.6"/>
<polygon points="145.8,415.7 146.3,412.9 148.6,410.8 151.5,412.3 151.9,415.1 150.7,417.7 147.8,417.7" fill="url(#tp)" stroke="#d2d2d2" stroke-opacity="0.35" stroke-width="0.6"/>
<polygon points="168.4,411.1 170.7,411.4 171.2,413.7 170.3,416.0 167.7,416.0 166.1,414.2 166.2,411.8" fill="url(#tp)" stroke="#d2d2d2" stroke-opacity="0.35" stroke-width="0.6"/>
<polygon points="140.8,422.6 139.8,420.0 142.1,418.5 144.6,418.9 146.1,421.0 144.8,423.2 142.6,423.9" fill="url(#tp)" stroke="#d2d2d2" stroke-opacity="0.35" stroke-width="0.6"/>
<polygon points="169.2,416.6 172.0,416.1 173.8,418.4 173.2,421.2 170.7,422.2 168.2,421.4 167.6,418.7" fill="url(#tpd)" stroke="#d2d2d2" stroke-opacity="0.35" stroke-width="0.6"/>
<polygon points="174.3,422.4 174.2,419.5 176.1,417.5 179.0,417.8 180.9,420.2 179.8,423.2 176.8,423.8" fill="url(#tp)" stroke="#d2d2d2" stroke-opacity="0.35" stroke-width="0.6"/>
<polygon points="169.7,424.7 168.1,427.2 165.2,426.6 163.9,424.4 164.2,421.6 166.8,420.9 169.1,422.1" fill="url(#tpd)" stroke="#d2d2d2" stroke-opacity="0.35" stroke-width="0.6"/>
<polygon points="173.3,429.2 171.3,427.2 172.1,424.5 174.6,423.7 177.0,424.5 177.5,427.2 175.8,429.1" fill="url(#tp)" stroke="#d2d2d2" stroke-opacity="0.35" stroke-width="0.6"/>
<polygon points="179.8,428.4 178.1,426.4 178.7,423.8 181.3,422.5 183.6,424.1 183.9,426.6 182.5,428.9" fill="url(#tp)" stroke="#d2d2d2" stroke-opacity="0.35" stroke-width="0.6"/>
<polygon points="194.6,428.4 192.1,427.0 192.2,424.3 193.8,422.2 196.6,422.5 197.8,424.8 197.2,427.5" fill="url(#tp)" stroke="#d2d2d2" stroke-opacity="0.35" stroke-width="0.6"/>
<polygon points="200.4,423.7 202.4,422.0 205.1,422.8 206.4,425.5 204.6,427.9 201.9,428.0 199.7,426.4" fill="url(#tp)" stroke="#d2d2d2" stroke-opacity="0.35" stroke-width="0.6"/>
<polygon points="208.4,422.1 210.9,421.8 213.0,423.4 212.5,426.0 210.5,427.5 208.3,426.4 207.5,424.3" fill="url(#tp)" stroke="#d2d2d2" stroke-opacity="0.35" stroke-width="0.6"/>
<polygon points="140.4,429.0 140.6,425.9 143.3,424.3 146.2,425.3 146.8,428.1 145.6,430.8 142.4,431.5" fill="url(#tp)" stroke="#d2d2d2" stroke-opacity="0.35" stroke-width="0.6"/>
<polygon points="164.6,425.4 167.0,426.3 168.5,428.4 167.2,430.6 164.8,431.3 162.5,429.9 162.6,427.2" fill="url(#tp)" stroke="#d2d2d2" stroke-opacity="0.35" stroke-width="0.6"/>
<polygon points="182.8,433.6 182.4,430.6 184.6,428.5 187.7,428.7 189.2,431.4 188.2,434.3 185.3,435.4" fill="url(#tp)" stroke="#d2d2d2" stroke-opacity="0.35" stroke-width="0.6"/>
<polygon points="194.3,432.1 192.6,434.0 190.0,433.7 188.9,431.4 189.6,429.0 191.9,428.6 194.4,429.4" fill="url(#tp)" stroke="#d2d2d2" stroke-opacity="0.35" stroke-width="0.6"/>
<polygon points="195.8,429.4 197.5,427.6 200.2,427.9 201.3,430.4 200.1,432.7 197.6,433.6 195.7,431.7" fill="url(#tp)" stroke="#d2d2d2" stroke-opacity="0.35" stroke-width="0.6"/>
<polygon points="204.3,427.6 206.8,426.5 208.7,428.5 209.2,431.2 206.8,432.5 204.2,432.3 203.4,429.8" fill="url(#tp)" stroke="#d2d2d2" stroke-opacity="0.35" stroke-width="0.6"/>
<polygon points="153.4,429.8 152.8,432.5 150.8,434.2 148.1,433.5 147.0,430.9 148.7,428.9 151.2,427.8" fill="url(#tp)" stroke="#d2d2d2" stroke-opacity="0.35" stroke-width="0.6"/>
<polygon points="166.5,435.5 166.5,432.8 168.3,431.0 171.0,430.9 172.4,433.4 171.5,435.9 169.0,436.6" fill="url(#tp)" stroke="#d2d2d2" stroke-opacity="0.35" stroke-width="0.6"/>
<polygon points="173.6,433.5 174.9,431.2 177.4,431.0 179.3,432.7 178.8,435.1 176.9,436.1 174.6,435.7" fill="url(#tp)" stroke="#d2d2d2" stroke-opacity="0.35" stroke-width="0.6"/>
<polygon points="186.4,436.9 186.2,439.3 184.0,440.7 181.7,439.6 180.7,437.2 182.3,435.1 184.8,435.1" fill="url(#tp)" stroke="#d2d2d2" stroke-opacity="0.35" stroke-width="0.6"/>
<polygon points="192.8,437.8 190.0,439.5 187.3,437.9 185.8,435.1 187.9,432.7 190.9,432.5 192.9,434.7" fill="url(#tp)" stroke="#d2d2d2" stroke-opacity="0.35" stroke-width="0.6"/>
<polygon points="196.2,432.8 198.6,433.4 200.2,435.6 199.0,438.2 196.3,439.0 194.3,437.0 193.8,434.3" fill="url(#tp)" stroke="#d2d2d2" stroke-opacity="0.35" stroke-width="0.6"/>
<polygon points="204.8,431.7 206.9,433.6 207.1,436.4 205.1,438.7 202.1,437.7 200.9,435.1 201.8,432.2" fill="url(#tp)" stroke="#d2d2d2" stroke-opacity="0.35" stroke-width="0.6"/>
<polygon points="208.0,432.0 210.1,431.3 212.2,432.1 212.7,434.4 211.2,436.4 208.6,436.5 207.2,434.3" fill="url(#tp)" stroke="#d2d2d2" stroke-opacity="0.35" stroke-width="0.6"/>
<polygon points="128.4,432.1 130.0,434.2 129.8,436.8 127.5,438.1 124.7,437.4 124.1,434.5 125.7,432.4" fill="url(#tp)" stroke="#d2d2d2" stroke-opacity="0.35" stroke-width="0.6"/>
<polygon points="133.1,436.4 132.1,434.1 133.3,431.4 136.3,431.0 138.3,433.3 138.1,436.3 135.5,437.6" fill="url(#tp)" stroke="#d2d2d2" stroke-opacity="0.35" stroke-width="0.6"/>
<polygon points="142.7,437.5 142.2,435.0 143.7,432.9 146.4,433.0 147.7,435.2 147.5,437.9 144.9,438.7" fill="url(#tp)" stroke="#d2d2d2" stroke-opacity="0.35" stroke-width="0.6"/>
<polygon points="142.0,437.6 142.1,440.5 140.3,442.6 137.7,442.1 135.4,440.3 136.9,437.7 139.3,436.1" fill="url(#tp)" stroke="#d2d2d2" stroke-opacity="0.35" stroke-width="0.6"/>
<polygon points="145.7,437.6 148.5,437.2 150.5,439.1 150.4,441.8 148.2,443.4 145.5,442.7 144.4,440.1" fill="url(#tp)" stroke="#d2d2d2" stroke-opacity="0.35" stroke-width="0.6"/>
<polygon points="178.7,439.3 178.2,442.0 175.6,442.0 173.5,441.1 173.0,438.6 175.0,437.2 177.7,436.7" fill="url(#tpd)" stroke="#d2d2d2" stroke-opacity="0.35" stroke-width="0.6"/>
<polygon points="198.5,441.0 196.3,442.4 193.8,442.0 192.3,439.7 193.8,437.5 196.2,436.7 198.3,438.2" fill="url(#tp)" stroke="#d2d2d2" stroke-opacity="0.35" stroke-width="0.6"/>
<polygon points="208.9,440.8 206.5,442.1 203.9,441.2 202.8,438.6 204.4,436.3 207.3,435.6 209.1,437.9" fill="url(#tp)" stroke="#d2d2d2" stroke-opacity="0.35" stroke-width="0.6"/>
<polygon points="125.0,438.3 127.8,438.9 129.1,441.4 128.2,444.1 125.4,444.8 122.8,443.3 122.8,440.3" fill="url(#tp)" stroke="#d2d2d2" stroke-opacity="0.35" stroke-width="0.6"/>
<polygon points="131.4,439.9 133.9,439.4 135.2,441.7 134.8,444.1 132.5,445.1 130.0,444.2 129.6,441.6" fill="url(#tp)" stroke="#d2d2d2" stroke-opacity="0.35" stroke-width="0.6"/>
<polygon points="45.7,443.5 48.1,444.2 48.9,446.4 48.0,448.9 45.3,449.0 43.5,447.3 43.7,444.9" fill="url(#tp)" stroke="#d2d2d2" stroke-opacity="0.35" stroke-width="0.6"/>
<polygon points="50.3,449.9 50.3,446.8 52.5,444.8 55.4,445.5 56.4,448.1 55.3,450.5 52.7,451.9" fill="url(#tp)" stroke="#d2d2d2" stroke-opacity="0.35" stroke-width="0.6"/>
<polygon points="61.7,444.5 63.4,445.8 63.6,447.9 62.0,449.7 59.6,449.2 58.5,447.0 59.4,444.7" fill="url(#tp)" stroke="#d2d2d2" stroke-opacity="0.35" stroke-width="0.6"/>
<polygon points="91.8,444.9 93.2,443.2 95.4,443.3 96.7,445.2 95.9,447.2 94.0,448.2 91.6,447.3" fill="url(#tp)" stroke="#d2d2d2" stroke-opacity="0.35" stroke-width="0.6"/>
<polygon points="99.6,445.9 102.4,446.1 104.1,448.4 103.2,451.2 100.4,452.2 97.8,450.8 97.5,447.9" fill="url(#tp)" stroke="#d2d2d2" stroke-opacity="0.35" stroke-width="0.6"/>
<polygon points="121.7,447.1 119.4,447.5 117.7,445.8 118.1,443.4 120.2,442.2 122.7,442.8 122.7,445.3" fill="url(#tp)" stroke="#d2d2d2" stroke-opacity="0.35" stroke-width="0.6"/>
<polygon points="48.2,450.4 51.3,451.7 51.3,454.9 49.7,457.4 46.6,457.3 44.5,454.9 45.3,451.9" fill="url(#tp)" stroke="#d2d2d2" stroke-opacity="0.35" stroke-width="0.6"/>
<polygon points="55.2,449.9 57.6,450.6 59.3,452.7 58.0,455.0 55.5,456.0 53.3,454.3 53.1,451.6" fill="url(#tp)" stroke="#d2d2d2" stroke-opacity="0.35" stroke-width="0.6"/>
<polygon points="84.1,453.2 83.1,450.4 83.8,447.5 86.8,446.9 89.1,448.7 89.3,451.5 87.2,453.4" fill="url(#tpd)" stroke="#d2d2d2" stroke-opacity="0.35" stroke-width="0.6"/>
<polygon points="96.8,452.8 95.3,454.7 92.9,454.6 91.4,452.8 91.8,450.3 94.2,449.1 96.4,450.4" fill="url(#tpd)" stroke="#d2d2d2" stroke-opacity="0.35" stroke-width="0.6"/>
<polygon points="98.4,451.9 101.0,451.2 102.8,452.8 103.6,455.1 101.8,457.1 98.9,457.2 97.9,454.5" fill="url(#tp)" stroke="#d2d2d2" stroke-opacity="0.35" stroke-width="0.6"/>
<polygon points="114.7,455.2 112.3,454.2 111.4,451.6 113.0,449.5 115.6,449.6 117.6,451.3 117.1,454.0" fill="url(#tp)" stroke="#d2d2d2" stroke-opacity="0.35" stroke-width="0.6"/>
<polygon points="121.1,449.8 123.4,451.0 124.6,453.7 122.5,456.0 119.6,455.8 117.9,453.5 118.5,450.7" fill="url(#tp)" stroke="#d2d2d2" stroke-opacity="0.35" stroke-width="0.6"/>
<polygon points="39.9,461.5 37.4,462.3 35.4,461.0 34.9,458.6 36.4,456.4 39.2,456.6 40.6,458.9" fill="url(#tp)" stroke="#d2d2d2" stroke-opacity="0.35" stroke-width="0.6"/>
<polygon points="45.9,457.8 48.2,459.6 47.3,462.3 45.1,463.7 42.5,463.0 41.9,460.3 43.4,458.4" fill="url(#tp)" stroke="#d2d2d2" stroke-opacity="0.35" stroke-width="0.6"/>
<polygon points="82.5,458.8 79.8,459.2 77.8,457.1 78.4,454.3 80.7,452.9 83.3,454.0 83.8,456.5" fill="url(#tp)" stroke="#d2d2d2" stroke-opacity="0.35" stroke-width="0.6"/>
<polygon points="78.6,460.1 80.7,458.1 83.4,458.8 85.1,461.2 84.1,464.0 81.1,464.6 78.3,463.2" fill="url(#tp)" stroke="#d2d2d2" stroke-opacity="0.35" stroke-width="0.6"/>
<polygon points="87.4,452.7 90.1,452.6 92.2,454.6 91.4,457.4 89.0,458.6 86.6,457.4 86.2,454.9" fill="url(#tp)" stroke="#d2d2d2" stroke-opacity="0.35" stroke-width="0.6"/>
<polygon points="114.9,455.7 117.5,455.0 119.8,456.5 119.9,459.1 118.1,460.9 115.4,460.6 114.0,458.4" fill="url(#tp)" stroke="#d2d2d2" stroke-opacity="0.35" stroke-width="0.6"/>
<polygon points="63.2,465.8 60.8,464.5 60.5,462.0 61.8,459.5 64.7,459.8 66.5,462.1 66.0,465.0" fill="url(#tp)" stroke="#d2d2d2" stroke-opacity="0.35" stroke-width="0.6"/>
<polygon points="71.4,466.2 68.8,465.8 67.6,463.6 68.3,461.0 70.9,460.3 73.1,461.8 73.4,464.5" fill="url(#tp)" stroke="#d2d2d2" stroke-opacity="0.35" stroke-width="0.6"/>
<polygon points="59.4,470.7 58.1,468.2 59.3,465.7 61.8,464.9 63.9,466.5 64.3,469.1 62.2,471.1" fill="url(#tp)" stroke="#d2d2d2" stroke-opacity="0.35" stroke-width="0.6"/>
<polygon points="67.0,470.7 64.7,469.2 65.3,466.5 67.4,465.1 69.8,465.8 70.9,468.1 69.8,470.7" fill="url(#tp)" stroke="#d2d2d2" stroke-opacity="0.35" stroke-width="0.6"/>
<polygon points="77.3,468.8 76.7,471.4 74.2,472.0 71.8,471.0 71.3,468.3 73.3,466.4 76.1,466.4" fill="url(#tp)" stroke="#d2d2d2" stroke-opacity="0.35" stroke-width="0.6"/>
<polygon points="78.1,470.6 77.1,467.8 78.2,465.1 81.1,464.9 83.2,466.7 83.0,469.3 81.0,471.3" fill="url(#tp)" stroke="#d2d2d2" stroke-opacity="0.35" stroke-width="0.6"/>
<polygon points="87.5,463.3 89.4,465.2 89.0,468.1 86.3,469.3 83.4,468.3 83.3,465.3 84.7,462.8" fill="url(#tp)" stroke="#d2d2d2" stroke-opacity="0.35" stroke-width="0.6"/>
<polygon points="124.8,463.0 124.2,465.7 122.0,467.1 119.4,466.2 118.6,463.6 119.9,460.9 123.0,460.6" fill="url(#tp)" stroke="#d2d2d2" stroke-opacity="0.35" stroke-width="0.6"/>
<polygon points="40.5,468.3 41.2,470.8 39.9,473.1 37.4,473.2 36.0,471.4 35.9,469.1 37.9,467.9" fill="url(#tp)" stroke="#d2d2d2" stroke-opacity="0.35" stroke-width="0.6"/>
<polygon points="88.4,468.4 90.8,467.1 93.3,467.6 94.6,469.9 93.4,472.2 90.9,472.9 88.6,471.4" fill="url(#tp)" stroke="#d2d2d2" stroke-opacity="0.35" stroke-width="0.6"/>
<polygon points="96.1,476.4 95.4,474.2 96.7,472.2 99.1,471.8 100.6,473.7 100.4,476.0 98.3,477.2" fill="url(#tp)" stroke="#d2d2d2" stroke-opacity="0.35" stroke-width="0.6"/>
<polygon points="123.5,470.6 122.3,473.0 119.8,473.3 117.8,471.8 117.9,469.3 119.7,467.5 122.2,468.3" fill="url(#tp)" stroke="#d2d2d2" stroke-opacity="0.35" stroke-width="0.6"/>
<polygon points="62.7,471.6 61.9,474.4 59.4,475.7 56.8,474.8 56.2,472.0 57.9,469.9 60.8,469.2" fill="url(#tp)" stroke="#d2d2d2" stroke-opacity="0.35" stroke-width="0.6"/>
<polygon points="69.1,476.2 66.8,477.7 64.0,477.0 63.7,474.1 64.9,471.9 67.7,471.5 69.5,473.5" fill="url(#tpd)" stroke="#d2d2d2" stroke-opacity="0.35" stroke-width="0.6"/>
<polygon points="39.0,479.1 36.4,477.9 35.6,475.1 37.4,472.8 40.3,472.9 42.1,475.1 41.3,477.6" fill="url(#tp)" stroke="#d2d2d2" stroke-opacity="0.35" stroke-width="0.6"/>
<polygon points="90.0,479.4 87.3,478.4 86.7,475.4 89.1,473.6 91.8,473.7 93.2,476.0 92.7,478.8" fill="url(#tp)" stroke="#d2d2d2" stroke-opacity="0.35" stroke-width="0.6"/>
<polygon points="114.6,480.2 112.0,480.7 109.7,479.3 110.0,476.7 111.7,474.8 114.3,475.5 115.5,477.7" fill="url(#tp)" stroke="#d2d2d2" stroke-opacity="0.35" stroke-width="0.6"/>
<polygon points="116.6,474.2 118.9,473.4 121.1,473.9 121.7,476.2 120.3,477.9 118.2,478.3 116.4,476.7" fill="url(#tp)" stroke="#d2d2d2" stroke-opacity="0.35" stroke-width="0.6"/>
<polygon points="122.6,483.7 120.2,482.1 119.5,479.1 122.1,477.4 124.8,477.7 126.5,480.1 125.4,482.9" fill="url(#tp)" stroke="#d2d2d2" stroke-opacity="0.35" stroke-width="0.6"/>
<polygon points="63.3,477.1 63.7,479.2 62.2,481.0 59.8,480.9 58.8,478.8 59.6,476.8 61.6,475.7" fill="url(#tp)" stroke="#d2d2d2" stroke-opacity="0.35" stroke-width="0.6"/>
<polygon points="74.8,482.7 71.9,482.9 70.6,480.6 70.7,478.2 72.8,476.3 75.3,477.7 75.9,480.2" fill="url(#tp)" stroke="#d2d2d2" stroke-opacity="0.35" stroke-width="0.6"/>
<polygon points="98.4,483.0 95.8,483.2 93.8,481.5 94.3,478.9 96.4,477.4 98.9,478.3 100.1,480.8" fill="url(#tp)" stroke="#d2d2d2" stroke-opacity="0.35" stroke-width="0.6"/>
<polygon points="117.2,477.7 119.8,479.5 119.7,482.7 117.2,484.3 114.5,483.6 112.9,481.1 114.3,478.4" fill="url(#tp)" stroke="#d2d2d2" stroke-opacity="0.35" stroke-width="0.6"/>
<polygon points="62.7,482.8 62.4,485.3 60.2,486.4 58.0,485.6 57.6,483.4 58.6,481.4 60.8,481.4" fill="url(#tp)" stroke="#d2d2d2" stroke-opacity="0.35" stroke-width="0.6"/>
<polygon points="71.7,486.8 71.6,484.1 73.9,482.7 76.6,483.3 77.6,485.9 76.1,488.1 73.5,488.7" fill="url(#tp)" stroke="#d2d2d2" stroke-opacity="0.35" stroke-width="0.6"/>
<polygon points="41.0,487.8 38.8,488.0 37.5,486.0 38.5,483.9 40.5,483.1 42.3,484.4 42.9,486.6" fill="url(#tp)" stroke="#d2d2d2" stroke-opacity="0.35" stroke-width="0.6"/>
<polygon points="89.1,485.0 88.6,482.4 90.3,480.6 92.8,480.3 94.5,482.3 93.7,484.8 91.5,486.2" fill="url(#tp)" stroke="#d2d2d2" stroke-opacity="0.35" stroke-width="0.6"/>
<polygon points="119.1,488.3 116.9,486.4 117.8,483.4 120.5,482.2 122.9,483.8 123.4,486.5 121.8,488.7" fill="url(#tp)" stroke="#d2d2d2" stroke-opacity="0.35" stroke-width="0.6"/>
<polygon points="63.3,490.7 62.7,488.5 64.0,486.7 66.3,486.4 67.8,488.2 67.4,490.5 65.4,491.5" fill="url(#tp)" stroke="#d2d2d2" stroke-opacity="0.35" stroke-width="0.6"/>
<polygon points="93.2,490.5 90.8,492.0 88.4,491.1 87.2,488.9 88.1,486.2 91.0,485.9 93.2,487.6" fill="url(#tp)" stroke="#d2d2d2" stroke-opacity="0.35" stroke-width="0.6"/>
<polygon points="96.6,490.2 94.2,488.9 93.7,486.1 95.5,484.1 98.2,484.4 99.8,486.5 98.9,488.9" fill="url(#tp)" stroke="#d2d2d2" stroke-opacity="0.35" stroke-width="0.6"/>
<polygon points="37.0,494.7 34.8,493.0 34.9,490.3 36.7,487.9 39.5,489.1 40.6,491.5 39.5,493.9" fill="url(#tp)" stroke="#d2d2d2" stroke-opacity="0.35" stroke-width="0.6"/>
<polygon points="48.2,489.8 48.4,492.5 46.1,494.0 43.4,493.3 42.7,490.8 43.7,488.5 46.3,488.0" fill="url(#tp)" stroke="#d2d2d2" stroke-opacity="0.35" stroke-width="0.6"/>
<polygon points="60.3,490.3 62.2,491.5 62.5,493.8 61.0,495.7 58.7,494.9 57.2,493.2 58.2,491.2" fill="url(#tp)" stroke="#d2d2d2" stroke-opacity="0.35" stroke-width="0.6"/>
<polygon points="50.3,496.7 48.6,494.4 49.9,491.8 52.6,491.0 55.0,492.6 54.9,495.3 53.1,497.5" fill="url(#tp)" stroke="#d2d2d2" stroke-opacity="0.35" stroke-width="0.6"/>
<polygon points="88.8,491.1 91.4,491.8 93.6,493.5 92.7,496.3 90.1,497.6 87.6,496.2 87.3,493.5" fill="url(#tp)" stroke="#d2d2d2" stroke-opacity="0.35" stroke-width="0.6"/>
<polygon points="97.0,490.7 99.9,490.5 101.1,493.2 100.7,496.1 97.7,496.8 95.5,495.2 94.8,492.5" fill="url(#tp)" stroke="#d2d2d2" stroke-opacity="0.35" stroke-width="0.6"/>
<polygon points="139.9,448.7 138.0,446.9 138.1,444.6 139.6,442.8 142.1,443.2 143.6,445.4 142.5,447.9" fill="url(#tp)" stroke="#d2d2d2" stroke-opacity="0.35" stroke-width="0.6"/>
<polygon points="128.2,452.0 125.6,452.4 124.2,450.4 124.0,447.9 126.2,446.5 129.1,447.0 129.8,449.9" fill="url(#tp)" stroke="#d2d2d2" stroke-opacity="0.35" stroke-width="0.6"/>
<polygon points="176.6,448.7 173.9,449.5 172.0,447.2 172.8,444.6 175.0,443.1 177.8,444.0 178.5,446.8" fill="url(#tp)" stroke="#d2d2d2" stroke-opacity="0.35" stroke-width="0.6"/>
<polygon points="184.1,442.2 184.5,444.7 183.1,446.6 180.6,447.2 179.2,445.0 179.2,442.5 181.6,441.3" fill="url(#tp)" stroke="#d2d2d2" stroke-opacity="0.35" stroke-width="0.6"/>
<polygon points="211.9,445.7 210.1,447.9 207.1,448.2 205.0,445.8 205.8,442.5 208.8,440.9 211.5,442.8" fill="url(#tpd)" stroke="#d2d2d2" stroke-opacity="0.35" stroke-width="0.6"/>
<polygon points="180.0,449.1 182.7,450.1 182.8,453.0 181.1,455.3 178.4,454.8 176.3,452.8 177.5,450.1" fill="url(#tp)" stroke="#d2d2d2" stroke-opacity="0.35" stroke-width="0.6"/>
<polygon points="171.0,455.2 173.0,453.7 175.3,453.7 176.6,455.8 175.6,457.7 173.6,458.9 171.5,457.7" fill="url(#tp)" stroke="#d2d2d2" stroke-opacity="0.35" stroke-width="0.6"/>
<polygon points="180.6,458.0 181.4,455.4 183.9,453.7 186.1,455.7 187.0,458.3 185.1,460.6 182.5,459.9" fill="url(#tp)" stroke="#d2d2d2" stroke-opacity="0.35" stroke-width="0.6"/>
<polygon points="199.0,458.0 201.3,456.4 203.9,457.0 204.8,459.3 204.3,461.9 201.6,462.3 199.3,460.9" fill="url(#tp)" stroke="#d2d2d2" stroke-opacity="0.35" stroke-width="0.6"/>
<polygon points="129.2,462.0 130.6,459.9 133.2,459.9 134.9,462.1 134.1,464.5 131.8,466.0 129.4,464.5" fill="url(#tpd)" stroke="#d2d2d2" stroke-opacity="0.35" stroke-width="0.6"/>
<polygon points="141.0,465.3 139.0,466.9 136.6,466.2 135.3,463.9 136.7,461.7 139.1,461.2 141.0,462.8" fill="url(#tp)" stroke="#d2d2d2" stroke-opacity="0.35" stroke-width="0.6"/>
<polygon points="146.8,462.2 147.8,464.6 146.9,467.0 144.4,467.6 142.2,466.1 142.1,463.4 144.3,461.9" fill="url(#tp)" stroke="#d2d2d2" stroke-opacity="0.35" stroke-width="0.6"/>
<polygon points="164.6,463.4 162.5,462.3 162.0,459.9 163.6,458.1 165.9,458.6 167.6,460.2 166.6,462.4" fill="url(#tp)" stroke="#d2d2d2" stroke-opacity="0.35" stroke-width="0.6"/>
<polygon points="171.0,457.9 173.3,459.7 172.9,462.7 170.2,464.1 167.7,462.9 166.7,460.3 168.4,458.0" fill="url(#tp)" stroke="#d2d2d2" stroke-opacity="0.35" stroke-width="0.6"/>
<polygon points="176.7,459.5 179.0,461.3 178.7,464.1 176.5,465.8 173.5,465.6 172.6,462.6 173.8,459.9" fill="url(#tpd)" stroke="#d2d2d2" stroke-opacity="0.35" stroke-width="0.6"/>
<polygon points="181.7,464.7 179.0,463.5 178.5,460.6 180.4,458.4 183.2,458.6 184.7,460.8 184.2,463.3" fill="url(#tp)" stroke="#d2d2d2" stroke-opacity="0.35" stroke-width="0.6"/>
<polygon points="189.5,460.9 191.8,461.1 192.9,463.1 192.2,465.3 189.9,466.5 187.8,464.8 187.5,462.3" fill="url(#tp)" stroke="#d2d2d2" stroke-opacity="0.35" stroke-width="0.6"/>
<polygon points="197.8,467.0 195.0,466.7 193.8,464.2 194.8,461.6 197.5,460.6 200.0,462.3 200.0,465.3" fill="url(#tp)" stroke="#d2d2d2" stroke-opacity="0.35" stroke-width="0.6"/>
<polygon points="136.2,466.9 136.6,469.4 135.1,471.7 132.4,471.2 131.1,469.1 131.5,466.5 134.0,465.2" fill="url(#tp)" stroke="#d2d2d2" stroke-opacity="0.35" stroke-width="0.6"/>
<polygon points="124.1,469.9 125.7,467.6 128.8,467.1 130.2,469.8 130.2,472.8 127.3,473.7 124.7,472.7" fill="url(#tp)" stroke="#d2d2d2" stroke-opacity="0.35" stroke-width="0.6"/>
<polygon points="141.1,472.6 138.7,471.1 137.3,468.4 139.6,466.4 142.4,466.3 143.9,468.6 143.5,471.2" fill="url(#tp)" stroke="#d2d2d2" stroke-opacity="0.35" stroke-width="0.6"/>
<polygon points="145.2,468.6 146.8,466.4 149.8,466.0 151.3,468.5 150.6,471.0 148.4,472.6 146.0,471.2" fill="url(#tp)" stroke="#d2d2d2" stroke-opacity="0.35" stroke-width="0.6"/>
<polygon points="160.0,470.7 157.9,468.6 158.7,465.6 161.5,464.8 164.0,466.0 164.4,468.7 162.8,471.0" fill="url(#tp)" stroke="#d2d2d2" stroke-opacity="0.35" stroke-width="0.6"/>
<polygon points="171.0,464.0 171.8,466.1 171.2,468.6 168.6,468.7 166.7,467.1 166.9,464.7 168.7,463.0" fill="url(#tp)" stroke="#d2d2d2" stroke-opacity="0.35" stroke-width="0.6"/>
<polygon points="176.9,470.9 174.8,469.1 175.3,466.4 177.4,464.9 180.1,465.5 181.0,468.2 179.6,470.6" fill="url(#tp)" stroke="#d2d2d2" stroke-opacity="0.35" stroke-width="0.6"/>
<polygon points="183.0,465.4 185.5,464.2 187.7,465.5 189.0,467.8 187.4,470.2 184.6,470.0 183.1,468.1" fill="url(#tp)" stroke="#d2d2d2" stroke-opacity="0.35" stroke-width="0.6"/>
<polygon points="194.9,470.6 192.0,471.4 190.0,469.3 190.1,466.4 192.4,464.8 195.3,465.2 196.5,468.1" fill="url(#tp)" stroke="#d2d2d2" stroke-opacity="0.35" stroke-width="0.6"/>
<polygon points="195.7,469.6 197.8,467.8 200.4,467.9 202.5,470.0 201.0,472.5 198.7,473.6 196.1,472.5" fill="url(#tpd)" stroke="#d2d2d2" stroke-opacity="0.35" stroke-width="0.6"/>
<polygon points="137.5,475.4 135.7,477.5 133.0,477.1 131.4,475.0 132.5,472.6 134.7,471.5 136.8,472.9" fill="url(#tp)" stroke="#d2d2d2" stroke-opacity="0.35" stroke-width="0.6"/>
<polygon points="122.2,473.7 124.2,471.8 126.7,473.0 127.5,475.4 126.3,477.7 123.8,477.8 121.7,476.2" fill="url(#tpd)" stroke="#d2d2d2" stroke-opacity="0.35" stroke-width="0.6"/>
<polygon points="144.3,474.1 144.7,476.8 142.7,478.4 140.3,478.2 138.7,476.3 139.4,473.6 142.0,472.6" fill="url(#tpd)" stroke="#d2d2d2" stroke-opacity="0.35" stroke-width="0.6"/>
<polygon points="167.4,472.7 169.8,473.9 170.5,476.6 168.8,478.9 165.8,478.9 164.0,476.5 164.8,473.7" fill="url(#tp)" stroke="#d2d2d2" stroke-opacity="0.35" stroke-width="0.6"/>
<polygon points="170.6,469.9 173.6,469.4 175.9,470.9 176.8,473.8 174.3,475.4 171.6,475.2 170.0,472.9" fill="url(#tp)" stroke="#d2d2d2" stroke-opacity="0.35" stroke-width="0.6"/>
<polygon points="179.6,478.8 177.2,477.6 176.6,474.9 178.6,472.9 181.4,473.0 182.5,475.4 182.3,478.1" fill="url(#tp)" stroke="#d2d2d2" stroke-opacity="0.35" stroke-width="0.6"/>
<polygon points="185.5,474.0 188.0,472.7 190.9,473.3 191.6,476.2 190.3,478.9 187.1,479.3 185.6,476.8" fill="url(#tp)" stroke="#d2d2d2" stroke-opacity="0.35" stroke-width="0.6"/>
<polygon points="191.6,473.3 193.5,471.4 195.9,472.4 197.5,474.5 196.4,477.1 193.6,477.5 191.5,475.9" fill="url(#tp)" stroke="#d2d2d2" stroke-opacity="0.35" stroke-width="0.6"/>
<polygon points="125.6,480.1 126.5,477.7 128.9,476.6 131.2,478.1 131.8,480.9 129.6,482.8 126.6,482.8" fill="url(#tp)" stroke="#d2d2d2" stroke-opacity="0.35" stroke-width="0.6"/>
<polygon points="138.3,477.5 139.4,480.1 138.8,482.8 136.1,483.8 133.7,482.2 133.0,479.2 135.3,477.1" fill="url(#tp)" stroke="#d2d2d2" stroke-opacity="0.35" stroke-width="0.6"/>
<polygon points="172.2,476.4 175.0,476.3 176.4,478.7 175.7,481.4 173.0,482.2 170.9,480.6 169.9,478.0" fill="url(#tp)" stroke="#d2d2d2" stroke-opacity="0.35" stroke-width="0.6"/>
<polygon points="198.6,478.4 198.5,481.3 196.2,483.1 193.3,482.4 191.8,479.6 193.8,477.4 196.5,476.5" fill="url(#tp)" stroke="#d2d2d2" stroke-opacity="0.35" stroke-width="0.6"/>
<polygon points="133.7,482.5 134.6,485.4 132.9,487.8 130.0,488.3 127.8,486.2 128.5,483.3 130.8,481.7" fill="url(#tp)" stroke="#d2d2d2" stroke-opacity="0.35" stroke-width="0.6"/>
<polygon points="141.0,484.5 140.1,487.1 138.1,488.4 135.8,487.7 134.7,485.4 136.1,483.0 138.8,482.7" fill="url(#tpd)" stroke="#d2d2d2" stroke-opacity="0.35" stroke-width="0.6"/>
<polygon points="164.6,483.1 165.7,481.2 167.8,480.5 169.8,481.8 169.9,484.2 168.0,485.4 165.7,485.3" fill="url(#tp)" stroke="#d2d2d2" stroke-opacity="0.35" stroke-width="0.6"/>
<polygon points="128.5,485.9 128.4,489.1 126.8,491.6 123.8,491.3 121.9,489.0 122.6,486.1 125.4,484.5" fill="url(#tp)" stroke="#d2d2d2" stroke-opacity="0.35" stroke-width="0.6"/>
<polygon points="135.6,491.2 133.0,490.6 132.4,488.1 133.5,485.9 136.1,485.2 137.9,487.2 137.8,489.9" fill="url(#tp)" stroke="#d2d2d2" stroke-opacity="0.35" stroke-width="0.6"/>
<polygon points="162.8,488.5 163.4,486.2 165.7,485.5 167.7,486.9 167.9,489.3 166.2,491.0 163.9,490.5" fill="url(#tp)" stroke="#d2d2d2" stroke-opacity="0.35" stroke-width="0.6"/>
<polygon points="207.1,484.6 207.0,487.4 205.1,489.3 202.5,488.8 201.1,486.6 201.8,483.9 204.5,483.3" fill="url(#tp)" stroke="#d2d2d2" stroke-opacity="0.35" stroke-width="0.6"/>
<polygon points="210.9,488.5 209.1,489.6 207.2,488.4 207.3,486.3 208.5,484.5 210.7,484.8 211.7,486.7" fill="url(#tp)" stroke="#d2d2d2" stroke-opacity="0.35" stroke-width="0.6"/>
<polygon points="131.7,490.4 132.8,492.5 131.3,494.4 129.1,494.7 127.5,493.1 127.5,490.8 129.5,489.6" fill="url(#tp)" stroke="#d2d2d2" stroke-opacity="0.35" stroke-width="0.6"/>
<polygon points="137.0,491.3 138.9,492.9 139.2,495.4 137.3,497.4 134.8,496.5 133.5,494.3 134.4,491.7" fill="url(#tpd)" stroke="#d2d2d2" stroke-opacity="0.35" stroke-width="0.6"/>
<polygon points="168.0,492.7 168.1,495.3 166.2,497.0 163.6,496.8 162.3,494.4 163.6,492.3 165.8,491.3" fill="url(#tpd)" stroke="#d2d2d2" stroke-opacity="0.35" stroke-width="0.6"/>
<polygon points="169.7,489.9 172.2,489.4 174.0,491.2 173.7,493.7 171.7,495.4 169.2,494.4 168.1,492.0" fill="url(#tp)" stroke="#d2d2d2" stroke-opacity="0.35" stroke-width="0.6"/>
<polygon points="188.8,492.4 188.1,495.1 185.5,496.2 183.2,494.7 182.8,492.1 184.5,490.0 187.2,490.3" fill="url(#tp)" stroke="#d2d2d2" stroke-opacity="0.35" stroke-width="0.6"/>
<polygon points="190.0,491.0 191.5,488.7 194.3,488.6 196.4,490.7 195.5,493.5 193.0,494.8 190.3,493.8" fill="url(#tp)" stroke="#d2d2d2" stroke-opacity="0.35" stroke-width="0.6"/>
<polygon points="201.1,496.1 198.6,495.0 198.0,492.5 199.3,490.2 202.0,490.1 203.8,492.0 203.3,494.6" fill="url(#tp)" stroke="#d2d2d2" stroke-opacity="0.35" stroke-width="0.6"/>
<polygon points="207.6,488.0 210.1,488.6 211.5,490.5 210.7,492.8 208.5,493.8 206.1,492.7 205.7,490.0" fill="url(#tp)" stroke="#d2d2d2" stroke-opacity="0.35" stroke-width="0.6"/>
<polygon points="127.3,458.2 127.5,460.7 125.6,462.8 123.0,461.6 121.4,459.4 122.7,456.7 125.5,456.4" fill="url(#tp)" stroke="#d2d2d2" stroke-opacity="0.35" stroke-width="0.6"/>
<polygon points="65.0,430.8 62.9,432.5 60.3,431.8 59.4,429.2 60.7,426.9 63.2,426.6 65.2,428.3" fill="url(#tp)" stroke="#d2d2d2" stroke-opacity="0.35" stroke-width="0.6"/>
<polygon points="90.2,413.7 88.5,411.3 88.6,408.8 90.6,407.0 93.0,408.2 94.2,410.4 92.8,412.5" fill="url(#tp)" stroke="#d2d2d2" stroke-opacity="0.35" stroke-width="0.6"/>
<polygon points="83.4,424.3 83.9,421.6 86.2,419.9 88.9,421.1 89.6,423.9 88.0,426.3 85.1,426.5" fill="url(#tp)" stroke="#d2d2d2" stroke-opacity="0.35" stroke-width="0.6"/>
<polygon points="60.9,402.7 60.8,405.3 58.5,406.5 55.8,405.9 55.1,403.2 56.7,401.1 59.2,400.7" fill="url(#tp)" stroke="#d2d2d2" stroke-opacity="0.35" stroke-width="0.6"/>
<polygon points="53.6,440.8 54.6,443.1 53.1,445.4 50.4,445.5 48.4,443.5 49.3,440.9 51.5,439.4" fill="url(#tp)" stroke="#d2d2d2" stroke-opacity="0.35" stroke-width="0.6"/>
<polygon points="80.7,349.0 78.8,350.9 76.3,350.1 75.2,347.9 75.9,345.3 78.6,344.8 80.4,346.5" fill="url(#tp)" stroke="#d2d2d2" stroke-opacity="0.35" stroke-width="0.6"/>
<polygon points="97.7,446.2 96.4,443.9 96.5,441.4 98.9,440.0 101.4,441.1 102.1,443.8 100.4,445.9" fill="url(#tp)" stroke="#d2d2d2" stroke-opacity="0.35" stroke-width="0.6"/>
<polygon points="79.3,459.8 79.1,462.6 76.9,464.6 74.1,463.8 72.4,461.1 74.1,458.5 77.0,458.0" fill="url(#tp)" stroke="#d2d2d2" stroke-opacity="0.35" stroke-width="0.6"/>
<polygon points="194.5,487.5 193.3,485.3 194.2,482.9 196.7,482.5 198.5,484.0 199.2,486.5 196.9,488.0" fill="url(#tp)" stroke="#d2d2d2" stroke-opacity="0.35" stroke-width="0.6"/>
<polygon points="67.7,480.9 70.2,481.7 71.8,484.0 70.4,486.5 67.7,487.2 65.5,485.4 65.6,482.7" fill="url(#tp)" stroke="#d2d2d2" stroke-opacity="0.35" stroke-width="0.6"/>
<polygon points="66.8,404.4 68.4,406.6 67.9,409.3 65.3,410.6 62.8,409.2 62.3,406.4 64.1,404.3" fill="url(#tp)" stroke="#d2d2d2" stroke-opacity="0.35" stroke-width="0.6"/>
<polygon points="201.5,363.9 203.7,364.6 204.2,366.9 202.9,368.9 200.4,369.1 199.4,367.0 199.4,364.8" fill="url(#tp)" stroke="#d2d2d2" stroke-opacity="0.35" stroke-width="0.6"/>
<polygon points="129.3,381.2 130.2,383.6 128.9,386.1 126.0,386.4 124.3,384.1 124.6,381.4 126.9,379.9" fill="url(#tp)" stroke="#d2d2d2" stroke-opacity="0.35" stroke-width="0.6"/>
<polygon points="211.7,436.4 214.0,437.7 215.2,440.3 213.2,442.3 210.6,442.3 209.3,440.2 209.2,437.6" fill="url(#tp)" stroke="#d2d2d2" stroke-opacity="0.35" stroke-width="0.6"/>
<polygon points="53.6,360.6 56.3,360.7 58.1,362.5 57.8,365.2 55.4,366.6 52.9,365.5 51.8,362.9" fill="url(#tp)" stroke="#d2d2d2" stroke-opacity="0.35" stroke-width="0.6"/>
<polygon points="109.4,413.3 107.1,414.6 104.9,413.1 104.7,410.5 106.3,408.6 108.7,409.2 110.3,411.0" fill="url(#tp)" stroke="#d2d2d2" stroke-opacity="0.35" stroke-width="0.6"/>
<polygon points="183.5,410.2 184.4,412.9 183.0,415.3 180.2,415.5 178.2,413.7 178.3,410.8 180.7,409.0" fill="url(#tp)" stroke="#d2d2d2" stroke-opacity="0.35" stroke-width="0.6"/>
<polygon points="150.4,361.4 148.6,359.6 148.4,357.0 150.8,355.9 153.1,356.5 153.6,358.8 152.7,360.8" fill="url(#tp)" stroke="#d2d2d2" stroke-opacity="0.35" stroke-width="0.6"/>
<polygon points="175.2,417.8 172.5,417.8 171.1,415.5 171.4,412.8 174.1,412.0 176.5,413.2 176.7,415.7" fill="url(#tp)" stroke="#d2d2d2" stroke-opacity="0.35" stroke-width="0.6"/>
<polygon points="109.7,396.4 108.2,394.5 107.9,392.2 109.8,390.9 112.4,390.9 113.2,393.4 112.2,395.6" fill="url(#tp)" stroke="#d2d2d2" stroke-opacity="0.35" stroke-width="0.6"/>
<polygon points="95.6,396.4 94.4,393.9 96.3,391.6 99.2,391.5 101.2,393.8 100.3,396.6 97.8,397.8" fill="url(#tp)" stroke="#d2d2d2" stroke-opacity="0.35" stroke-width="0.6"/>
<polygon points="186.9,482.4 189.4,481.3 191.9,482.8 192.0,485.7 190.2,488.0 187.5,487.0 185.9,484.9" fill="url(#tp)" stroke="#d2d2d2" stroke-opacity="0.35" stroke-width="0.6"/>
<polygon points="138.6,435.5 137.7,433.1 138.3,430.6 140.9,430.3 142.8,431.7 143.1,434.2 141.2,435.8" fill="url(#tp)" stroke="#d2d2d2" stroke-opacity="0.35" stroke-width="0.6"/>
<polygon points="46.0,428.4 46.0,431.1 43.6,432.5 41.2,431.5 40.0,429.1 41.7,427.1 44.2,426.4" fill="url(#tp)" stroke="#d2d2d2" stroke-opacity="0.35" stroke-width="0.6"/>
<polygon points="117.3,385.1 114.6,385.5 112.3,384.1 112.0,381.2 114.2,378.6 117.3,379.9 118.5,382.5" fill="url(#tp)" stroke="#d2d2d2" stroke-opacity="0.35" stroke-width="0.6"/>
<polygon points="118.7,375.6 121.4,374.8 124.2,375.7 124.6,378.8 122.4,380.7 119.7,380.6 118.3,378.3" fill="url(#tp)" stroke="#d2d2d2" stroke-opacity="0.35" stroke-width="0.6"/>
<polygon points="118.3,387.7 118.8,390.4 117.3,392.7 114.6,392.4 112.7,390.6 113.0,387.7 115.7,386.3" fill="url(#tp)" stroke="#d2d2d2" stroke-opacity="0.35" stroke-width="0.6"/>
<polygon points="68.9,394.4 71.3,394.6 72.7,396.8 71.8,399.4 69.1,399.8 66.8,398.5 66.9,395.9" fill="url(#tp)" stroke="#d2d2d2" stroke-opacity="0.35" stroke-width="0.6"/>
<polygon points="122.2,385.2 124.6,386.8 124.6,389.6 122.9,391.6 120.3,391.0 118.8,388.9 119.8,386.6" fill="url(#tp)" stroke="#d2d2d2" stroke-opacity="0.35" stroke-width="0.6"/>
<polygon points="57.0,488.2 56.2,490.6 54.0,491.5 51.5,490.7 51.5,488.2 52.9,486.5 55.4,486.0" fill="url(#tp)" stroke="#d2d2d2" stroke-opacity="0.35" stroke-width="0.6"/>
<polygon points="116.0,358.5 117.4,361.0 115.9,363.4 113.3,364.0 111.3,362.3 111.3,359.7 113.3,357.6" fill="url(#tp)" stroke="#d2d2d2" stroke-opacity="0.35" stroke-width="0.6"/>
<polygon points="38.7,427.5 39.8,429.7 39.2,432.0 37.0,432.4 35.0,431.4 34.4,429.1 36.1,427.2" fill="url(#tp)" stroke="#d2d2d2" stroke-opacity="0.35" stroke-width="0.6"/>
<polygon points="74.5,473.1 74.8,475.7 72.7,477.3 70.1,476.9 68.9,474.5 70.2,472.2 72.6,471.6" fill="url(#tp)" stroke="#d2d2d2" stroke-opacity="0.35" stroke-width="0.6"/>
<ellipse cx="54.9" cy="348.9" rx="0.8" ry="0.9" fill="#303030" opacity="0.59"/><ellipse cx="58.1" cy="353.9" rx="1.1" ry="1.2" fill="#303030" opacity="0.63"/><ellipse cx="93.9" cy="352.8" rx="1.3" ry="0.6" fill="#303030" opacity="0.64"/><ellipse cx="55.4" cy="358.7" rx="1.1" ry="0.8" fill="#303030" opacity="0.58"/><ellipse cx="62.0" cy="357.7" rx="0.9" ry="1.1" fill="#303030" opacity="0.63"/><ellipse cx="101.5" cy="358.4" rx="1.4" ry="1.2" fill="#303030" opacity="0.78"/><ellipse cx="50.2" cy="360.0" rx="0.9" ry="1.0" fill="#303030" opacity="0.73"/><ellipse cx="63.0" cy="363.2" rx="1.2" ry="0.6" fill="#303030" opacity="0.53"/><ellipse cx="92.2" cy="361.9" rx="0.9" ry="0.7" fill="#303030" opacity="0.74"/><ellipse cx="51.7" cy="372.4" rx="1.6" ry="0.9" fill="#303030" opacity="0.56"/><ellipse cx="80.2" cy="378.1" rx="1.3" ry="0.8" fill="#303030" opacity="0.65"/><ellipse cx="103.0" cy="379.6" rx="0.8" ry="0.7" fill="#303030" opacity="0.47"/><ellipse cx="96.7" cy="385.7" rx="1.0" ry="0.9" fill="#303030" opacity="0.77"/><ellipse cx="92.0" cy="390.5" rx="1.4" ry="1.2" fill="#303030" opacity="0.51"/><ellipse cx="173.1" cy="353.9" rx="1.6" ry="0.7" fill="#303030" opacity="0.50"/><ellipse cx="209.8" cy="350.9" rx="1.3" ry="0.7" fill="#303030" opacity="0.46"/><ellipse cx="179.9" cy="355.4" rx="1.4" ry="0.9" fill="#303030" opacity="0.75"/><ellipse cx="154.4" cy="362.3" rx="1.1" ry="0.9" fill="#303030" opacity="0.52"/><ellipse cx="208.1" cy="360.0" rx="1.3" ry="0.9" fill="#303030" opacity="0.57"/><ellipse cx="151.6" cy="367.1" rx="1.2" ry="1.0" fill="#303030" opacity="0.53"/><ellipse cx="136.9" cy="370.7" rx="1.2" ry="1.1" fill="#303030" opacity="0.59"/><ellipse cx="131.7" cy="374.7" rx="1.2" ry="1.1" fill="#303030" opacity="0.44"/><ellipse cx="156.7" cy="374.6" rx="1.3" ry="0.6" fill="#303030" opacity="0.58"/><ellipse cx="188.1" cy="372.6" rx="1.0" ry="0.7" fill="#303030" opacity="0.75"/><ellipse cx="204.9" cy="371.9" rx="1.0" ry="1.1" fill="#303030" opacity="0.76"/><ellipse cx="142.6" cy="375.2" rx="1.2" ry="0.6" fill="#303030" opacity="0.78"/><ellipse cx="191.9" cy="378.2" rx="1.2" ry="0.9" fill="#303030" opacity="0.65"/><ellipse cx="203.2" cy="379.4" rx="1.5" ry="1.1" fill="#303030" opacity="0.54"/><ellipse cx="197.2" cy="383.1" rx="1.5" ry="0.7" fill="#303030" opacity="0.54"/><ellipse cx="143.4" cy="388.7" rx="1.6" ry="1.1" fill="#303030" opacity="0.66"/><ellipse cx="157.3" cy="389.7" rx="0.9" ry="1.1" fill="#303030" opacity="0.75"/><ellipse cx="189.1" cy="391.1" rx="1.6" ry="1.1" fill="#303030" opacity="0.66"/><ellipse cx="197.2" cy="390.2" rx="1.1" ry="0.7" fill="#303030" opacity="0.44"/><ellipse cx="48.1" cy="409.2" rx="1.6" ry="0.7" fill="#303030" opacity="0.42"/><ellipse cx="78.0" cy="410.4" rx="1.0" ry="1.2" fill="#303030" opacity="0.56"/><ellipse cx="83.9" cy="409.0" rx="1.6" ry="0.6" fill="#303030" opacity="0.53"/><ellipse cx="121.2" cy="412.1" rx="0.9" ry="1.2" fill="#303030" opacity="0.73"/><ellipse cx="87.2" cy="415.7" rx="1.4" ry="0.6" fill="#303030" opacity="0.78"/><ellipse cx="102.8" cy="416.8" rx="0.9" ry="1.1" fill="#303030" opacity="0.57"/><ellipse cx="97.3" cy="422.4" rx="0.8" ry="0.8" fill="#303030" opacity="0.60"/><ellipse cx="50.7" cy="428.6" rx="1.0" ry="1.1" fill="#303030" opacity="0.45"/><ellipse cx="76.9" cy="432.1" rx="1.1" ry="1.1" fill="#303030" opacity="0.48"/><ellipse cx="82.6" cy="429.9" rx="1.0" ry="0.9" fill="#303030" opacity="0.45"/><ellipse cx="96.2" cy="432.1" rx="0.8" ry="1.0" fill="#303030" opacity="0.68"/><ellipse cx="114.1" cy="437.5" rx="0.9" ry="1.1" fill="#303030" opacity="0.69"/><ellipse cx="121.3" cy="436.8" rx="1.3" ry="0.8" fill="#303030" opacity="0.70"/><ellipse cx="50.6" cy="437.4" rx="0.8" ry="0.9" fill="#303030" opacity="0.64"/><ellipse cx="101.1" cy="437.3" rx="1.4" ry="0.9" fill="#303030" opacity="0.79"/><ellipse cx="160.1" cy="397.6" rx="1.4" ry="0.8" fill="#303030" opacity="0.72"/><ellipse cx="174.4" cy="403.5" rx="1.2" ry="0.8" fill="#303030" opacity="0.49"/><ellipse cx="169.1" cy="406.6" rx="1.2" ry="0.9" fill="#303030" opacity="0.51"/><ellipse cx="186.7" cy="403.8" rx="1.1" ry="1.1" fill="#303030" opacity="0.55"/><ellipse cx="141.2" cy="415.4" rx="1.3" ry="1.1" fill="#303030" opacity="0.74"/><ellipse cx="148.0" cy="412.7" rx="1.3" ry="0.8" fill="#303030" opacity="0.47"/><ellipse cx="142.6" cy="421.3" rx="1.1" ry="0.8" fill="#303030" opacity="0.48"/><ellipse cx="170.5" cy="418.6" rx="1.2" ry="1.2" fill="#303030" opacity="0.47"/><ellipse cx="167.6" cy="424.6" rx="1.6" ry="0.9" fill="#303030" opacity="0.49"/><ellipse cx="174.2" cy="425.1" rx="1.4" ry="0.8" fill="#303030" opacity="0.55"/><ellipse cx="194.6" cy="425.6" rx="1.3" ry="1.1" fill="#303030" opacity="0.79"/><ellipse cx="211.4" cy="425.0" rx="1.2" ry="0.8" fill="#303030" opacity="0.57"/><ellipse cx="149.9" cy="430.2" rx="1.3" ry="1.1" fill="#303030" opacity="0.44"/><ellipse cx="205.0" cy="434.3" rx="1.1" ry="1.1" fill="#303030" opacity="0.62"/><ellipse cx="210.2" cy="432.9" rx="1.5" ry="0.6" fill="#303030" opacity="0.54"/><ellipse cx="126.2" cy="435.0" rx="1.5" ry="1.1" fill="#303030" opacity="0.62"/><ellipse cx="138.2" cy="439.5" rx="1.2" ry="0.7" fill="#303030" opacity="0.73"/><ellipse cx="177.2" cy="441.1" rx="1.0" ry="0.8" fill="#303030" opacity="0.55"/><ellipse cx="206.1" cy="439.8" rx="1.3" ry="0.8" fill="#303030" opacity="0.44"/><ellipse cx="125.3" cy="442.9" rx="1.5" ry="1.2" fill="#303030" opacity="0.49"/><ellipse cx="92.6" cy="445.8" rx="1.0" ry="0.9" fill="#303030" opacity="0.54"/><ellipse cx="47.8" cy="454.2" rx="0.8" ry="0.7" fill="#303030" opacity="0.76"/><ellipse cx="55.5" cy="452.9" rx="1.1" ry="0.7" fill="#303030" opacity="0.65"/><ellipse cx="86.6" cy="450.3" rx="0.9" ry="0.9" fill="#303030" opacity="0.69"/><ellipse cx="44.9" cy="461.0" rx="1.5" ry="1.1" fill="#303030" opacity="0.72"/><ellipse cx="81.7" cy="456.5" rx="1.3" ry="1.1" fill="#303030" opacity="0.69"/><ellipse cx="73.1" cy="468.7" rx="0.9" ry="0.9" fill="#303030" opacity="0.69"/><ellipse cx="80.3" cy="467.6" rx="1.3" ry="1.0" fill="#303030" opacity="0.53"/><ellipse cx="90.3" cy="476.3" rx="1.1" ry="1.0" fill="#303030" opacity="0.54"/><ellipse cx="113.4" cy="476.0" rx="1.2" ry="1.0" fill="#303030" opacity="0.54"/><ellipse cx="119.9" cy="475.5" rx="0.9" ry="0.9" fill="#303030" opacity="0.62"/><ellipse cx="61.0" cy="476.5" rx="1.0" ry="0.7" fill="#303030" opacity="0.78"/><ellipse cx="96.0" cy="480.8" rx="1.1" ry="0.8" fill="#303030" opacity="0.61"/><ellipse cx="115.1" cy="479.4" rx="1.1" ry="0.9" fill="#303030" opacity="0.73"/><ellipse cx="74.1" cy="486.5" rx="1.6" ry="1.0" fill="#303030" opacity="0.46"/><ellipse cx="119.6" cy="485.8" rx="1.0" ry="0.7" fill="#303030" opacity="0.72"/><ellipse cx="65.4" cy="488.1" rx="1.6" ry="0.7" fill="#303030" opacity="0.45"/><ellipse cx="94.9" cy="486.8" rx="1.3" ry="0.8" fill="#303030" opacity="0.58"/><ellipse cx="60.7" cy="492.3" rx="1.2" ry="1.0" fill="#303030" opacity="0.44"/><ellipse cx="52.5" cy="493.6" rx="1.1" ry="0.9" fill="#303030" opacity="0.52"/><ellipse cx="200.9" cy="460.9" rx="1.1" ry="0.9" fill="#303030" opacity="0.79"/><ellipse cx="143.8" cy="466.2" rx="1.3" ry="1.0" fill="#303030" opacity="0.51"/><ellipse cx="191.5" cy="462.9" rx="1.4" ry="1.1" fill="#303030" opacity="0.60"/><ellipse cx="191.7" cy="467.2" rx="1.2" ry="1.0" fill="#303030" opacity="0.53"/><ellipse cx="124.4" cy="475.6" rx="1.1" ry="0.9" fill="#303030" opacity="0.50"/><ellipse cx="167.5" cy="476.1" rx="0.8" ry="0.9" fill="#303030" opacity="0.58"/><ellipse cx="173.4" cy="474.2" rx="1.3" ry="1.0" fill="#303030" opacity="0.64"/><ellipse cx="193.2" cy="475.0" rx="1.0" ry="1.0" fill="#303030" opacity="0.49"/><ellipse cx="174.5" cy="479.5" rx="0.9" ry="0.7" fill="#303030" opacity="0.51"/><ellipse cx="138.4" cy="485.3" rx="0.8" ry="1.1" fill="#303030" opacity="0.60"/><ellipse cx="168.3" cy="484.3" rx="1.0" ry="0.7" fill="#303030" opacity="0.56"/><ellipse cx="134.8" cy="486.9" rx="1.2" ry="1.0" fill="#303030" opacity="0.74"/><ellipse cx="166.0" cy="494.0" rx="0.9" ry="0.9" fill="#303030" opacity="0.54"/><ellipse cx="171.3" cy="490.7" rx="1.4" ry="0.6" fill="#303030" opacity="0.48"/><ellipse cx="91.0" cy="410.4" rx="1.0" ry="1.0" fill="#303030" opacity="0.64"/><ellipse cx="100.3" cy="443.1" rx="1.1" ry="0.8" fill="#303030" opacity="0.77"/><ellipse cx="195.8" cy="484.3" rx="1.6" ry="1.1" fill="#303030" opacity="0.55"/><ellipse cx="126.8" cy="384.6" rx="1.0" ry="1.0" fill="#303030" opacity="0.44"/><ellipse cx="108.0" cy="410.7" rx="1.1" ry="0.7" fill="#303030" opacity="0.48"/><ellipse cx="151.1" cy="358.9" rx="1.1" ry="1.0" fill="#303030" opacity="0.55"/><ellipse cx="140.0" cy="432.1" rx="0.9" ry="0.7" fill="#303030" opacity="0.73"/><ellipse cx="70.7" cy="473.5" rx="1.3" ry="0.9" fill="#303030" opacity="0.77"/>
</g>
<rect x="35.3" y="345.3" width="176.8" height="151.4" fill="#888" filter="url(#tnoise)" opacity="0.24"/>
</g>
<rect x="170.6" y="484.1" width="30.5" height="4.6" fill="#fff"/>
<text x="0" y="0" font-size="22.3" text-anchor="start" fill="#000" transform="translate(-0.19 357.39) scale(1.040 1)">g</text>
<defs><linearGradient id="bandg" x1="0.3" y1="0" x2="0" y2="1"><stop offset="0" stop-color="#ffffff" stop-opacity="0.45"/><stop offset="0.3" stop-color="#eef3fa" stop-opacity="0.6"/><stop offset="1" stop-color="#b2cbe9" stop-opacity="0.95"/></linearGradient></defs>
<path d="M273.30 374.40C277.75 374.40 294.08 374.40 300.00 374.40C305.92 374.40 306.90 374.25 308.80 374.40C310.70 374.55 310.68 375.00 311.40 375.30C312.12 375.60 312.37 376.08 313.10 376.20C313.83 376.32 314.85 376.07 315.80 376.00C316.75 375.93 317.93 375.55 318.80 375.80C319.67 376.05 320.27 376.42 321.00 377.50C321.73 378.58 322.47 381.28 323.20 382.30C323.93 383.32 324.67 383.02 325.40 383.60C326.13 384.18 326.95 384.33 327.60 385.80C328.25 387.27 328.65 390.57 329.30 392.40C329.95 394.23 330.77 396.65 331.50 396.80C332.23 396.95 332.97 395.05 333.70 393.30C334.43 391.55 335.10 388.13 335.90 386.30C336.70 384.47 337.62 383.10 338.50 382.30C339.38 381.50 340.40 381.20 341.20 381.50C342.00 381.80 342.50 382.87 343.30 384.10C344.10 385.33 345.18 388.68 346.00 388.90C346.82 389.12 347.47 387.15 348.20 385.40C348.93 383.65 349.60 379.93 350.40 378.40C351.20 376.87 351.83 376.75 353.00 376.20C354.17 375.65 356.67 375.28 357.40 375.10" fill="none" stroke="#000" stroke-width="1.6" stroke-linejoin="round" stroke-linecap="butt"/>
<path d="M360.60 374.90C362.02 374.85 366.68 374.50 369.10 374.60C371.52 374.70 373.67 374.68 375.10 375.50C376.53 376.32 376.93 377.63 377.70 379.50C378.47 381.37 378.98 384.47 379.70 386.70C380.42 388.93 381.23 393.23 382.00 392.90C382.77 392.57 383.63 387.17 384.30 384.70C384.97 382.23 385.42 378.32 386.00 378.10C386.58 377.88 387.22 381.42 387.80 383.40C388.38 385.38 388.88 389.57 389.50 390.00C390.12 390.43 390.73 387.53 391.50 386.00C392.27 384.47 393.23 382.22 394.10 380.80C394.97 379.38 395.60 378.17 396.70 377.50C397.80 376.83 399.38 377.13 400.70 376.80C402.02 376.47 403.07 375.88 404.60 375.50C406.13 375.12 407.70 374.65 409.90 374.50C412.10 374.35 415.40 374.60 417.80 374.60C420.20 374.60 422.33 374.45 424.30 374.50C426.27 374.55 427.85 374.90 429.60 374.90C431.35 374.90 432.27 374.57 434.80 374.50C437.33 374.43 443.13 374.50 444.80 374.50" fill="none" stroke="#000" stroke-width="1.6" stroke-linejoin="round" stroke-linecap="butt"/>
<path d="M273.30 407.50C275.43 407.60 282.20 408.00 286.10 408.10C290.00 408.20 294.62 407.87 296.70 408.10C298.78 408.33 297.95 408.52 298.60 409.50C299.25 410.48 299.83 412.65 300.60 414.00C301.37 415.35 302.32 417.48 303.20 417.60C304.08 417.72 305.02 415.55 305.90 414.70C306.78 413.85 307.52 412.67 308.50 412.50C309.48 412.33 310.72 413.22 311.80 413.70C312.88 414.18 313.92 415.23 315.00 415.40C316.08 415.57 317.20 415.25 318.30 414.70C319.40 414.15 320.17 412.80 321.60 412.10C323.03 411.40 325.37 410.90 326.90 410.50C328.43 410.10 329.72 409.77 330.80 409.70C331.88 409.63 332.42 409.88 333.40 410.10C334.38 410.32 335.38 411.07 336.70 411.00C338.02 410.93 339.65 410.07 341.30 409.70C342.95 409.33 343.97 409.00 346.60 408.80C349.23 408.60 355.35 408.55 357.10 408.50" fill="none" stroke="#ff0000" stroke-width="1.6" stroke-linejoin="round" stroke-linecap="butt"/>
<path d="M360.80 409.20C361.32 409.32 362.73 409.95 363.90 409.90C365.07 409.85 366.48 408.85 367.80 408.90C369.12 408.95 370.58 410.20 371.80 410.20C373.02 410.20 373.90 408.63 375.10 408.90C376.30 409.17 377.80 411.75 379.00 411.80C380.20 411.85 381.20 409.68 382.30 409.20C383.40 408.72 384.77 407.58 385.60 408.90C386.43 410.22 386.75 417.17 387.30 417.10C387.85 417.03 388.38 407.95 388.90 408.50C389.42 409.05 389.87 419.73 390.40 420.40C390.93 421.07 391.60 413.60 392.10 412.50C392.60 411.40 392.85 414.13 393.40 413.80C393.95 413.47 394.63 411.15 395.40 410.50C396.17 409.85 396.90 409.57 398.00 409.90C399.10 410.23 400.68 412.35 402.00 412.50C403.32 412.65 404.58 411.23 405.90 410.80C407.22 410.37 408.58 409.95 409.90 409.90C411.22 409.85 412.48 410.50 413.80 410.50C415.12 410.50 416.82 408.92 417.80 409.90C418.78 410.88 419.05 415.53 419.70 416.40C420.35 417.27 421.03 416.08 421.70 415.10C422.37 414.12 423.05 410.72 423.70 410.50C424.35 410.28 424.95 413.47 425.60 413.80C426.25 414.13 426.93 413.05 427.60 412.50C428.27 411.95 428.62 410.88 429.60 410.50C430.58 410.12 432.18 410.37 433.50 410.20C434.82 410.03 436.18 409.72 437.50 409.50C438.82 409.28 440.18 409.13 441.40 408.90C442.62 408.67 444.23 408.23 444.80 408.10" fill="none" stroke="#ff0000" stroke-width="1.6" stroke-linejoin="round" stroke-linecap="butt"/>
<path d="M273.30 437.90C276.75 437.90 290.00 437.80 294.00 437.90C298.00 438.00 296.32 438.17 297.30 438.50C298.28 438.83 298.92 439.57 299.90 439.90C300.88 440.23 301.98 440.50 303.20 440.50C304.42 440.50 305.67 440.05 307.20 439.90C308.73 439.75 310.55 439.65 312.40 439.60C314.25 439.55 316.98 439.02 318.30 439.60C319.62 440.18 319.63 441.20 320.30 443.10C320.97 445.00 321.65 448.70 322.30 451.00C322.95 453.30 323.55 456.45 324.20 456.90C324.85 457.35 325.53 454.02 326.20 453.70C326.87 453.38 327.43 453.58 328.20 455.00C328.97 456.42 330.03 461.22 330.80 462.20C331.57 463.18 332.13 462.32 332.80 460.90C333.47 459.48 333.93 455.90 334.80 453.70C335.67 451.50 336.92 448.80 338.00 447.70C339.08 446.60 340.20 446.55 341.30 447.10C342.40 447.65 343.83 449.95 344.60 451.00C345.37 452.05 345.35 453.62 345.90 453.40C346.45 453.18 347.13 451.42 347.90 449.70C348.67 447.98 349.52 444.73 350.50 443.10C351.48 441.47 352.60 440.67 353.80 439.90C355.00 439.13 357.05 438.73 357.70 438.50" fill="none" stroke="#0000ff" stroke-width="1.6" stroke-linejoin="round" stroke-linecap="butt"/>
<path d="M360.60 437.90C362.02 437.83 366.68 437.57 369.10 437.50C371.52 437.43 373.57 437.00 375.10 437.50C376.63 438.00 377.22 439.35 378.30 440.50C379.38 441.65 380.60 444.62 381.60 444.40C382.60 444.18 383.42 439.52 384.30 439.20C385.18 438.88 386.13 440.42 386.90 442.50C387.67 444.58 388.25 450.83 388.90 451.70C389.55 452.57 390.05 449.47 390.80 447.70C391.55 445.93 392.63 441.97 393.40 441.10C394.17 440.23 394.63 442.93 395.40 442.50C396.17 442.07 396.90 438.98 398.00 438.50C399.10 438.02 400.23 439.70 402.00 439.60C403.77 439.50 406.63 438.13 408.60 437.90C410.57 437.67 412.27 438.10 413.80 438.20C415.33 438.30 416.70 437.97 417.80 438.50C418.90 439.03 419.32 441.40 420.40 441.40C421.48 441.40 423.32 438.65 424.30 438.50C425.28 438.35 425.42 440.45 426.30 440.50C427.18 440.55 428.18 439.23 429.60 438.80C431.02 438.37 432.27 438.12 434.80 437.90C437.33 437.68 443.13 437.57 444.80 437.50" fill="none" stroke="#0000ff" stroke-width="1.6" stroke-linejoin="round" stroke-linecap="butt"/>
<rect x="298.30" y="367.00" width="19.70" height="110.00" fill="url(#bandg)" />
<rect x="387.30" y="368.40" width="7.90" height="108.60" fill="url(#bandg)" />
<rect x="420.20" y="368.40" width="11.80" height="108.60" fill="url(#bandg)" />
<rect x="273.2" y="352.6" width="171.60" height="126.20" fill="none" stroke="#000" stroke-width="1.4"/>
<line x1="273.30" y1="478.80" x2="273.30" y2="481.40" stroke="#000" stroke-width="1.4"/>
<text x="273.30" y="492.00" font-size="10.9" text-anchor="middle" fill="#000">3200</text>
<line x1="316.30" y1="478.80" x2="316.30" y2="481.40" stroke="#000" stroke-width="1.4"/>
<text x="316.30" y="492.00" font-size="10.9" text-anchor="middle" fill="#000">3000</text>
<line x1="377.20" y1="478.80" x2="377.20" y2="481.40" stroke="#000" stroke-width="1.4"/>
<text x="377.20" y="492.00" font-size="10.9" text-anchor="middle" fill="#000">1600</text>
<line x1="411.20" y1="478.80" x2="411.20" y2="481.40" stroke="#000" stroke-width="1.4"/>
<text x="411.20" y="492.00" font-size="10.9" text-anchor="middle" fill="#000">1200</text>
<line x1="444.90" y1="478.80" x2="444.90" y2="481.40" stroke="#000" stroke-width="1.4"/>
<text x="444.90" y="492.00" font-size="10.9" text-anchor="middle" fill="#000">800</text>
<line x1="394.30" y1="478.80" x2="394.30" y2="480.40" stroke="#000" stroke-width="1.4"/>
<line x1="428.10" y1="478.80" x2="428.10" y2="480.40" stroke="#000" stroke-width="1.4"/>
<rect x="357.00" y="351.30" width="3.2" height="2.6" fill="#fff"/>
<line x1="355.10" y1="355.60" x2="358.50" y2="349.60" stroke="#000" stroke-width="1.5"/>
<line x1="358.70" y1="355.60" x2="362.10" y2="349.60" stroke="#000" stroke-width="1.5"/>
<rect x="357.00" y="477.50" width="3.2" height="2.6" fill="#fff"/>
<line x1="355.10" y1="481.80" x2="358.50" y2="475.80" stroke="#000" stroke-width="1.5"/>
<line x1="358.70" y1="481.80" x2="362.10" y2="475.80" stroke="#000" stroke-width="1.5"/>
<text x="0" y="0" font-size="14.5" text-anchor="middle" fill="#000" transform="translate(268.00 414.70) rotate(-90)">Transmittance</text>
<text x="298.2" y="505.5" font-size="14.5">Wavenumber (cm<tspan font-size="9" dy="-5.5">-1</tspan><tspan dy="5.5">)</tspan></text>
<text x="305.50" y="468.60" font-size="12.3" text-anchor="middle" fill="#000">C-H</text>
<text x="389.30" y="470.00" font-size="12.3" text-anchor="middle" fill="#000">C=C</text>
<text x="424.60" y="471.40" font-size="12.3" text-anchor="middle" fill="#000">C-P</text>
<text x="0" y="0" font-size="22.3" text-anchor="start" fill="#000" transform="translate(235.46 365.30) scale(0.975 1)">h</text>
<line x1="504.4" y1="399.8" x2="589.4" y2="399.8" stroke="#000" stroke-width="1.9"/>
<line x1="592.6" y1="399.8" x2="677.9" y2="399.8" stroke="#000" stroke-width="1.9"/>
<line x1="504.4" y1="424.5" x2="589.4" y2="424.5" stroke="#ff0000" stroke-width="1.3"/>
<line x1="592.6" y1="424.5" x2="677.9" y2="424.5" stroke="#ff0000" stroke-width="1.3"/>
<polyline points="504.4,450.10 505.2,449.97 506.0,450.24 506.8,450.41 507.6,450.58 508.4,450.33 509.2,450.16 510.0,450.10 510.8,450.49 511.6,450.71 512.4,450.37 513.2,449.99 514.0,450.06 514.8,450.70 515.6,450.35 516.4,449.87 517.2,450.28 518.0,450.01 518.8,450.14 519.6,450.18 520.4,450.12 521.2,450.44 522.0,450.28 522.8,450.15 523.6,450.40 524.4,450.51 525.2,449.89 526.0,450.24 526.8,450.05 527.6,450.26 528.4,449.98 529.2,450.31 530.0,450.29 530.8,450.22 531.6,450.04 532.4,450.20 533.2,450.03 534.0,449.96 534.8,450.36 535.6,450.02 536.4,450.59 537.2,450.48 538.0,449.80 538.8,450.37 539.6,450.02 540.4,450.31 541.2,450.31 542.0,449.80 542.8,450.24 543.6,450.24 544.4,450.54 545.2,450.00 546.0,450.48 546.8,450.03 547.6,450.22 548.4,450.09 549.2,450.66 550.0,450.44 550.8,450.91 551.6,450.46 552.4,450.51 553.2,450.51 554.0,450.15 554.8,450.28 555.6,450.64 556.4,450.20 557.2,450.35 558.0,450.29 558.8,450.45 559.6,450.21 560.4,450.26 561.2,450.36 562.0,450.33 562.8,450.08 563.6,450.52 564.4,449.98 565.2,450.00 566.0,449.98 566.8,450.54 567.6,450.21 568.4,450.06 569.2,450.02 570.0,450.41 570.8,450.04 571.6,449.98 572.4,450.45 573.2,450.00 574.0,450.22 574.8,450.30 575.6,450.19 576.4,450.29 577.2,450.63 578.0,450.17 578.8,449.99 579.6,449.84 580.4,450.25 581.2,450.21 582.0,450.37 582.8,450.18 583.6,450.18 584.4,450.12 585.2,450.17 586.0,450.34 586.8,450.20 587.6,450.33 588.4,450.78 589.2,450.42" fill="none" stroke="#0000ff" stroke-width="1.6"/>
<polyline points="592.6,449.91 593.4,450.73 594.2,450.39 595.0,450.06 595.8,450.53 596.6,450.30 597.4,450.15 598.2,450.14 599.0,450.05 599.8,450.31 600.6,450.57 601.4,450.22 602.2,450.41 603.0,450.77 603.8,450.00 604.6,450.36 605.4,450.22 606.2,450.04 607.0,450.04 607.8,450.30 608.6,450.41 609.4,450.17 610.2,450.31 611.0,450.48 611.8,450.37 612.6,450.52 613.4,450.42 614.2,450.42 615.0,450.76 615.8,450.46 616.6,450.33 617.4,450.48 618.2,450.07 619.0,450.22 619.8,450.50 620.6,450.46 621.4,450.69 622.2,450.30 623.0,449.93 623.8,450.79 624.6,450.57 625.4,450.04 626.2,450.64 627.0,450.31 627.8,449.85 628.6,450.19 629.4,450.17 630.2,450.70 631.0,450.10 631.8,450.24 632.6,450.23 633.4,450.21 634.2,450.07 635.0,450.35 635.8,450.57 636.6,450.46 637.4,450.07 638.2,450.01 639.0,450.33 639.8,450.12 640.6,450.14 641.4,449.88 642.2,450.79 643.0,450.53 643.8,450.06 644.6,450.53 645.4,450.64 646.2,449.70 647.0,450.16 647.8,450.20 648.6,450.46 649.4,450.27 650.2,450.24 651.0,450.29 651.8,450.76 652.6,450.84 653.4,450.17 654.2,450.07 655.0,450.97 655.8,450.06 656.6,450.16 657.4,450.31 658.2,450.42 659.0,450.56 659.8,450.40 660.6,450.08 661.4,450.43 662.2,450.36 663.0,450.77 663.8,450.30 664.6,449.97 665.4,450.04 666.2,450.66 667.0,450.16 667.8,449.77 668.6,450.15 669.4,450.30 670.2,450.60 671.0,450.05 671.8,450.47 672.6,450.50 673.4,450.13 674.2,450.25 675.0,450.74 675.8,450.73 676.6,450.51 677.4,450.38" fill="none" stroke="#0000ff" stroke-width="1.6"/>
<path d="M528 399.6 L530.2 399.2 L530.6 352.6 L531.2 352.6 L531.6 399.2 L534 399.6" fill="none" stroke="#000" stroke-width="1.4"/>
<path d="M525 450.3 L529.3 450 L530.7 448.6 L531.5 445.5 L532.2 352.6 L532.9 445.5 L533.9 448.6 L535.6 449.9 L540 450.3" fill="none" stroke="#0000ff" stroke-width="1.4" stroke-linejoin="round"/>
<path d="M645.5 424.7 L647.6 424.7 L648.0 418.8 L648.5 424.7 L650.5 424.7" fill="none" stroke="#ff0000" stroke-width="1.1"/>
<path d="M645.5 450.3 L647.6 450.3 L648.0 444.5 L648.5 450.3 L650.5 450.3" fill="none" stroke="#0000ff" stroke-width="1.1"/>
<rect x="520.00" y="367.50" width="19.80" height="109.30" fill="url(#bandg)" />
<rect x="633.90" y="366.50" width="19.30" height="110.50" fill="url(#bandg)" />
<rect x="504.4" y="352.6" width="173.50" height="125.70" fill="none" stroke="#000" stroke-width="1.4"/>
<line x1="504.40" y1="478.30" x2="504.40" y2="480.90" stroke="#000" stroke-width="1.4"/>
<text x="504.40" y="491.50" font-size="10.9" text-anchor="middle" fill="#000">-10</text>
<line x1="546.70" y1="478.30" x2="546.70" y2="480.90" stroke="#000" stroke-width="1.4"/>
<text x="546.70" y="491.50" font-size="10.9" text-anchor="middle" fill="#000">-5</text>
<line x1="617.10" y1="478.30" x2="617.10" y2="480.90" stroke="#000" stroke-width="1.4"/>
<text x="617.10" y="491.50" font-size="10.9" text-anchor="middle" fill="#000">30</text>
<line x1="647.20" y1="478.30" x2="647.20" y2="480.90" stroke="#000" stroke-width="1.4"/>
<text x="647.20" y="491.50" font-size="10.9" text-anchor="middle" fill="#000">35</text>
<line x1="677.70" y1="478.30" x2="677.70" y2="480.90" stroke="#000" stroke-width="1.4"/>
<text x="677.70" y="491.50" font-size="10.9" text-anchor="middle" fill="#000">40</text>
<line x1="525.70" y1="478.30" x2="525.70" y2="479.90" stroke="#000" stroke-width="1.4"/>
<line x1="567.90" y1="478.30" x2="567.90" y2="479.90" stroke="#000" stroke-width="1.4"/>
<line x1="602.50" y1="478.30" x2="602.50" y2="479.90" stroke="#000" stroke-width="1.4"/>
<line x1="632.10" y1="478.30" x2="632.10" y2="479.90" stroke="#000" stroke-width="1.4"/>
<line x1="662.40" y1="478.30" x2="662.40" y2="479.90" stroke="#000" stroke-width="1.4"/>
<rect x="589.40" y="351.30" width="3.2" height="2.6" fill="#fff"/>
<line x1="587.50" y1="355.60" x2="590.90" y2="349.60" stroke="#000" stroke-width="1.5"/>
<line x1="591.10" y1="355.60" x2="594.50" y2="349.60" stroke="#000" stroke-width="1.5"/>
<rect x="589.40" y="477.00" width="3.2" height="2.6" fill="#fff"/>
<line x1="587.50" y1="481.30" x2="590.90" y2="475.30" stroke="#000" stroke-width="1.5"/>
<line x1="591.10" y1="481.30" x2="594.50" y2="475.30" stroke="#000" stroke-width="1.5"/>
<text x="0" y="0" font-size="14.5" text-anchor="middle" fill="#000" transform="translate(498.80 413.70) rotate(-90)">Intensity</text>
<text x="590.50" y="505.60" font-size="14.5" text-anchor="middle" fill="#000">Chemical shift (ppm)</text>
<text x="0" y="0" font-size="23.0" text-anchor="start" fill="#000" transform="translate(466.18 360.80) scale(0.920 1)">i</text>
</svg></body></html>
